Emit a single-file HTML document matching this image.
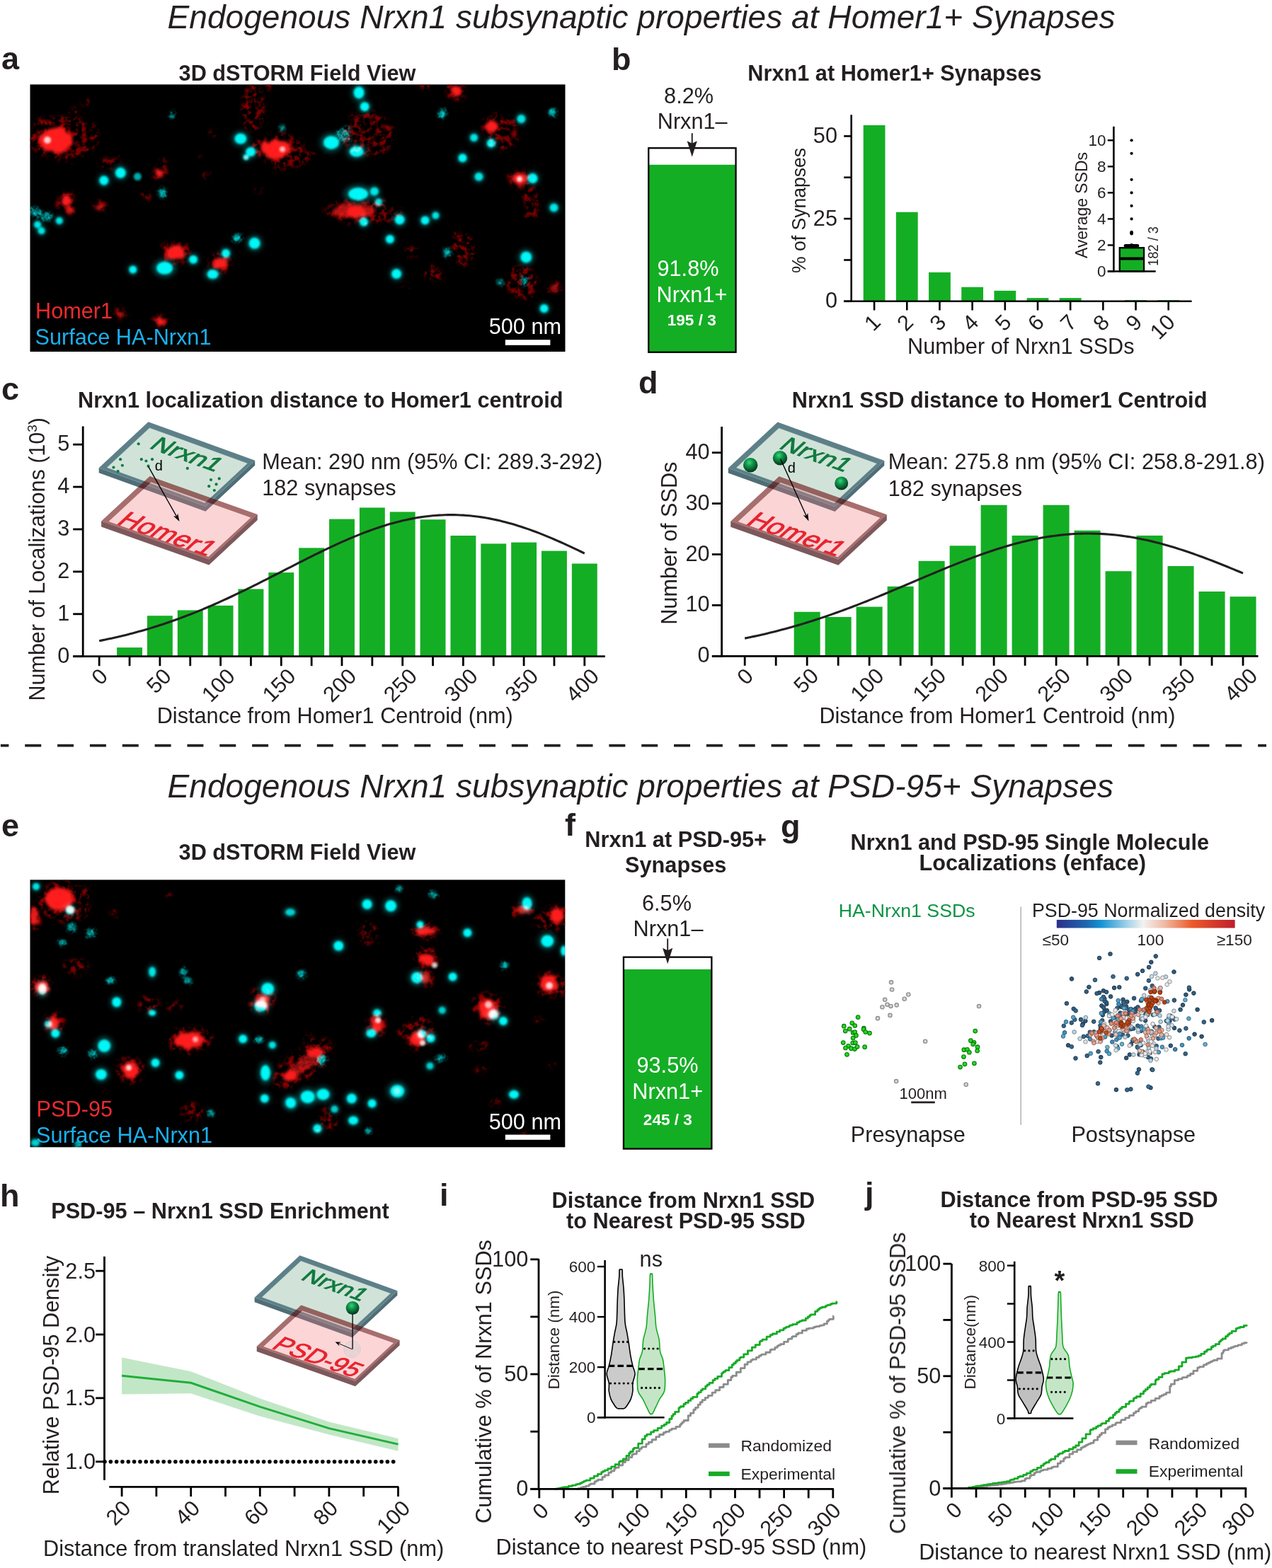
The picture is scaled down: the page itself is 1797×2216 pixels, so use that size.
<!DOCTYPE html>
<html><head><meta charset="utf-8"><title>Endogenous Nrxn1 subsynaptic properties</title>
<style>html,body{margin:0;padding:0;background:#fff;}svg{display:block;}
text{font-family:'Liberation Sans', Arial, Helvetica, sans-serif;}</style></head>
<body><svg xmlns="http://www.w3.org/2000/svg" width="1797" height="2216" viewBox="0 0 1797 2216" font-family="'Liberation Sans', Arial, Helvetica, sans-serif">
<defs>
<filter id="bl2" x="-50%" y="-50%" width="200%" height="200%"><feGaussianBlur stdDeviation="1.8"/></filter>
<filter id="bl4" x="-50%" y="-50%" width="200%" height="200%"><feGaussianBlur stdDeviation="3.2"/></filter>
<filter id="speck" x="0" y="0" width="100%" height="100%" filterUnits="userSpaceOnUse">
<feTurbulence type="fractalNoise" baseFrequency="0.06" numOctaves="2" seed="2" result="w"/>
<feDisplacementMap in="SourceGraphic" in2="w" scale="14" xChannelSelector="R" yChannelSelector="G" result="d"/>
<feGaussianBlur in="d" stdDeviation="2.5" result="b"/>
<feTurbulence type="fractalNoise" baseFrequency="0.13" numOctaves="3" seed="4" result="n"/>
<feColorMatrix in="n" type="matrix" values="0 0 0 0 0  0 0 0 0 0  0 0 0 0 0  4.0 0 0 0 -1.75" result="nm"/>
<feComposite in="b" in2="nm" operator="in"/>
</filter>
<filter id="speck2" x="0" y="0" width="100%" height="100%" filterUnits="userSpaceOnUse">
<feTurbulence type="fractalNoise" baseFrequency="0.08" numOctaves="2" seed="7" result="w"/>
<feDisplacementMap in="SourceGraphic" in2="w" scale="10" xChannelSelector="R" yChannelSelector="G" result="d"/>
<feGaussianBlur in="d" stdDeviation="2" result="b"/>
<feTurbulence type="fractalNoise" baseFrequency="0.25" numOctaves="2" seed="9" result="n"/>
<feColorMatrix in="n" type="matrix" values="0 0 0 0 0  0 0 0 0 0  0 0 0 0 0  2.6 0 0 0 -0.9" result="nm"/>
<feComposite in="b" in2="nm" operator="in"/>
</filter>
<filter id="redf" x="0" y="0" width="100%" height="100%" filterUnits="userSpaceOnUse">
<feTurbulence type="fractalNoise" baseFrequency="0.09" numOctaves="2" seed="5" result="w"/>
<feDisplacementMap in="SourceGraphic" in2="w" scale="8" xChannelSelector="R" yChannelSelector="G" result="d"/>
<feGaussianBlur in="d" stdDeviation="2.2"/>
</filter>
<radialGradient id="sph" cx="0.42" cy="0.32" r="0.7">
<stop offset="0" stop-color="#3fd27a"/><stop offset="0.35" stop-color="#109a4c"/><stop offset="0.8" stop-color="#05502a"/><stop offset="1" stop-color="#022a14"/>
</radialGradient>
<linearGradient id="cbar" x1="0" x2="1" y1="0" y2="0">
<stop offset="0" stop-color="#2b3088"/><stop offset="0.17" stop-color="#1f68b0"/><stop offset="0.25" stop-color="#1494d4"/><stop offset="0.4" stop-color="#a6d3ea"/>
<stop offset="0.485" stop-color="#f3f2ef"/><stop offset="0.6" stop-color="#f0bca8"/><stop offset="0.76" stop-color="#ec5a2a"/><stop offset="1" stop-color="#be1e2d"/>
</linearGradient>
</defs>
<rect width="1797" height="2216" fill="#fff"/>
<g fill="#231f20">
<text x="236.50" y="40.30" font-size="46" font-style="italic" textLength="1339.00" lengthAdjust="spacingAndGlyphs">Endogenous Nrxn1 subsynaptic properties at Homer1+ Synapses</text>
<text x="236.50" y="1127.20" font-size="46" font-style="italic" textLength="1336.50" lengthAdjust="spacingAndGlyphs">Endogenous Nrxn1 subsynaptic properties at PSD-95+ Synapses</text>
<text x="2.00" y="98.00" font-size="45" font-weight="bold">a</text>
<text x="864.00" y="98.90" font-size="45" font-weight="bold">b</text>
<text x="2.00" y="564.60" font-size="45" font-weight="bold">c</text>
<text x="902.00" y="555.80" font-size="45" font-weight="bold">d</text>
<text x="2.00" y="1182.00" font-size="45" font-weight="bold">e</text>
<text x="798.00" y="1180.50" font-size="45" font-weight="bold">f</text>
<text x="1103.00" y="1182.60" font-size="45" font-weight="bold">g</text>
<text x="0.00" y="1705.40" font-size="45" font-weight="bold">h</text>
<text x="621.00" y="1704.30" font-size="45" font-weight="bold">i</text>
<text x="1222.00" y="1701.90" font-size="45" font-weight="bold">j</text>
<line x1="0.90" y1="1053.70" x2="1789.00" y2="1053.70" stroke="#231f20" stroke-width="3.8" stroke-dasharray="23 22.84" stroke-dashoffset="11.5"/>
<text x="420.00" y="114.00" font-size="30.7" font-weight="bold" text-anchor="middle">3D dSTORM Field View</text>
<rect x="42.5" y="119.4" width="756.0" height="377.6" fill="#000"/>
<svg x="42.5" y="119.4" width="756.0" height="377.6" viewBox="42.5 119.4 756.0 377.6" overflow="hidden">
<g filter="url(#speck)">
<ellipse cx="90" cy="195" rx="51.7" ry="32.2" fill="#7a0404"/>
<ellipse cx="357" cy="152" rx="18.4" ry="34.5" fill="#7a0404"/>
<ellipse cx="520" cy="190" rx="36.8" ry="32.2" fill="#7a0404"/>
<ellipse cx="710" cy="190" rx="25.3" ry="23.0" fill="#7a0404"/>
<ellipse cx="750" cy="285" rx="11.5" ry="25.3" fill="#7a0404"/>
<ellipse cx="653.5" cy="353" rx="18.4" ry="23.0" fill="#7a0404"/>
<ellipse cx="612" cy="387" rx="13.8" ry="11.5" fill="#7a0404"/>
<ellipse cx="738" cy="400" rx="23.0" ry="23.0" fill="#7a0404"/>
<ellipse cx="520" cy="300" rx="51.7" ry="16.1" fill="#7a0404"/>
<ellipse cx="156" cy="229" rx="16.1" ry="6.9" fill="#7a0404"/>
<ellipse cx="206" cy="277" rx="9.2" ry="6.9" fill="#7a0404"/>
<ellipse cx="121" cy="146" rx="6.9" ry="5.8" fill="#7a0404"/>
<ellipse cx="105.7" cy="158.8" rx="5.8" ry="5.8" fill="#7a0404"/>
<ellipse cx="300" cy="188" rx="4.6" ry="4.6" fill="#7a0404"/>
<ellipse cx="292.8" cy="248.5" rx="5.8" ry="4.6" fill="#7a0404"/>
<ellipse cx="366" cy="270" rx="4.6" ry="5.8" fill="#7a0404"/>
<ellipse cx="283" cy="224.5" rx="3.4" ry="3.4" fill="#7a0404"/>
<ellipse cx="582" cy="355" rx="9.2" ry="6.9" fill="#7a0404"/>
<ellipse cx="573" cy="406" rx="6.9" ry="4.6" fill="#7a0404"/>
<ellipse cx="752" cy="305" rx="13.8" ry="6.9" fill="#7a0404"/>
<ellipse cx="436.9" cy="218.7" rx="9.2" ry="6.9" fill="#7a0404"/>
<ellipse cx="381.5" cy="123.8" rx="8.0" ry="5.8" fill="#7a0404"/>
<ellipse cx="400" cy="214" rx="36.8" ry="25.3" fill="#7a0404"/>
<ellipse cx="230" cy="235" rx="6.9" ry="13.8" fill="#7a0404"/>
<ellipse cx="125" cy="488" rx="4.6" ry="4.6" fill="#7a0404"/>
<ellipse cx="600" cy="120" rx="11.5" ry="6.9" fill="#7a0404"/>
<ellipse cx="79" cy="198" rx="35.4" ry="26.0" fill="#8c0606"/>
<ellipse cx="248" cy="357" rx="21.9" ry="16.5" fill="#8c0606"/>
<ellipse cx="311.5" cy="372" rx="17.9" ry="13.8" fill="#8c0606"/>
<ellipse cx="390" cy="211" rx="32.7" ry="20.6" fill="#8c0606"/>
<ellipse cx="695" cy="178" rx="15.2" ry="15.2" fill="#8c0606"/>
<ellipse cx="734" cy="253" rx="17.9" ry="13.8" fill="#8c0606"/>
<ellipse cx="644" cy="128" rx="15.2" ry="12.5" fill="#8c0606"/>
<ellipse cx="225" cy="244" rx="11.1" ry="11.1" fill="#8c0606"/>
<ellipse cx="93.6" cy="283.6" rx="13.8" ry="12.5" fill="#8c0606"/>
<ellipse cx="99" cy="296.7" rx="9.8" ry="9.8" fill="#8c0606"/>
<ellipse cx="227" cy="454" rx="12.5" ry="11.1" fill="#8c0606"/>
<ellipse cx="170" cy="444.5" rx="9.8" ry="8.4" fill="#8c0606"/>
<ellipse cx="140.7" cy="292.3" rx="11.1" ry="8.4" fill="#8c0606"/>
<ellipse cx="500" cy="298" rx="43.5" ry="16.5" fill="#8c0606"/>
<ellipse cx="505" cy="300" rx="21.9" ry="12.5" fill="#8c0606"/>
<ellipse cx="782.5" cy="407" rx="9.8" ry="8.4" fill="#8c0606"/>
</g>
<g filter="url(#speck2)" style="mix-blend-mode:screen">
<ellipse cx="624.7" cy="161.1" rx="7.0" ry="7.0" fill="#009090"/>
<ellipse cx="780.2" cy="158.8" rx="7.0" ry="7.0" fill="#009090"/>
<ellipse cx="334.4" cy="336.1" rx="7.0" ry="7.0" fill="#009090"/>
<ellipse cx="631.6" cy="356.5" rx="7.0" ry="7.0" fill="#009090"/>
<ellipse cx="741" cy="396.8" rx="5.6" ry="5.6" fill="#009090"/>
<ellipse cx="706.5" cy="399.1" rx="5.6" ry="5.6" fill="#009090"/>
<ellipse cx="242.5" cy="164.3" rx="4.2" ry="4.2" fill="#009090"/>
<ellipse cx="399" cy="180.7" rx="5.6" ry="5.6" fill="#009090"/>
<ellipse cx="229.4" cy="272.6" rx="7.0" ry="7.0" fill="#009090"/>
<ellipse cx="50" cy="300" rx="11.2" ry="7.0" fill="#009090"/>
<ellipse cx="65" cy="306" rx="11.2" ry="7.0" fill="#009090"/>
<ellipse cx="485" cy="191" rx="11.2" ry="11.2" fill="#009090"/>
</g>
<g filter="url(#redf)">
<ellipse cx="79" cy="198" rx="24.0" ry="17.0" fill="#ff1e1e" opacity="1"/>
<ellipse cx="248" cy="357" rx="14.0" ry="10.0" fill="#ff1e1e" opacity="1"/>
<ellipse cx="311.5" cy="372" rx="11.0" ry="8.0" fill="#ff1e1e" opacity="1"/>
<ellipse cx="390" cy="211" rx="22.0" ry="13.0" fill="#ff1e1e" opacity="1"/>
<ellipse cx="695" cy="178" rx="9.0" ry="9.0" fill="#ff1e1e" opacity="1"/>
<ellipse cx="734" cy="253" rx="11.0" ry="8.0" fill="#ff1e1e" opacity="1"/>
<ellipse cx="644" cy="128" rx="9.0" ry="7.0" fill="#ff1e1e" opacity="1"/>
<ellipse cx="225" cy="244" rx="6.0" ry="6.0" fill="#ff1e1e" opacity="0.9"/>
<ellipse cx="93.6" cy="283.6" rx="8.0" ry="7.0" fill="#ff1e1e" opacity="1"/>
<ellipse cx="99" cy="296.7" rx="5.0" ry="5.0" fill="#ff1e1e" opacity="0.8"/>
<ellipse cx="227" cy="454" rx="7.0" ry="6.0" fill="#ff1e1e" opacity="1"/>
<ellipse cx="170" cy="444.5" rx="5.0" ry="4.0" fill="#ff1e1e" opacity="0.7"/>
<ellipse cx="140.7" cy="292.3" rx="6.0" ry="4.0" fill="#ff1e1e" opacity="0.6"/>
<ellipse cx="500" cy="298" rx="30.0" ry="10.0" fill="#ff1e1e" opacity="0.7"/>
<ellipse cx="505" cy="300" rx="14.0" ry="7.0" fill="#ff1e1e" opacity="1"/>
<ellipse cx="782.5" cy="407" rx="5.0" ry="4.0" fill="#ff1e1e" opacity="0.6"/>
</g>
<g filter="url(#bl4)" style="mix-blend-mode:screen">
<ellipse cx="170.3" cy="244.2" rx="11.2" ry="11.2" fill="#00c8c8" opacity="0.3"/>
<ellipse cx="146.8" cy="255.1" rx="9.8" ry="9.8" fill="#00c8c8" opacity="0.3"/>
<ellipse cx="339.9" cy="196" rx="12.8" ry="11.2" fill="#00c8c8" opacity="0.3"/>
<ellipse cx="354.1" cy="214.6" rx="10.5" ry="9.8" fill="#00c8c8" opacity="0.3"/>
<ellipse cx="347.6" cy="222.3" rx="6.0" ry="6.0" fill="#00c8c8" opacity="0.3"/>
<ellipse cx="507.1" cy="131.1" rx="11.2" ry="12.8" fill="#00c8c8" opacity="0.3"/>
<ellipse cx="515.2" cy="150.7" rx="9.8" ry="9.8" fill="#00c8c8" opacity="0.3"/>
<ellipse cx="468" cy="201.4" rx="16.5" ry="14.2" fill="#00c8c8" opacity="0.3"/>
<ellipse cx="503.7" cy="214.1" rx="15.0" ry="11.2" fill="#00c8c8" opacity="0.3"/>
<ellipse cx="669.6" cy="194.5" rx="8.2" ry="8.2" fill="#00c8c8" opacity="0.3"/>
<ellipse cx="693.8" cy="202.6" rx="9.0" ry="9.0" fill="#00c8c8" opacity="0.3"/>
<ellipse cx="736.4" cy="168" rx="9.0" ry="9.0" fill="#00c8c8" opacity="0.3"/>
<ellipse cx="653.5" cy="223.3" rx="9.0" ry="9.0" fill="#00c8c8" opacity="0.3"/>
<ellipse cx="676.5" cy="249.8" rx="9.0" ry="9.0" fill="#00c8c8" opacity="0.3"/>
<ellipse cx="752.5" cy="252.1" rx="10.5" ry="10.5" fill="#00c8c8" opacity="0.3"/>
<ellipse cx="782.5" cy="293.6" rx="9.0" ry="9.0" fill="#00c8c8" opacity="0.3"/>
<ellipse cx="506" cy="274" rx="21.0" ry="13.5" fill="#00c8c8" opacity="0.3"/>
<ellipse cx="529" cy="270.5" rx="9.0" ry="9.0" fill="#00c8c8" opacity="0.3"/>
<ellipse cx="534.8" cy="285.5" rx="7.5" ry="7.5" fill="#00c8c8" opacity="0.3"/>
<ellipse cx="53" cy="317.5" rx="7.5" ry="7.5" fill="#00c8c8" opacity="0.3"/>
<ellipse cx="58.6" cy="326.3" rx="7.5" ry="7.5" fill="#00c8c8" opacity="0.3"/>
<ellipse cx="83.8" cy="312" rx="7.5" ry="7.5" fill="#00c8c8" opacity="0.3"/>
<ellipse cx="187.8" cy="381" rx="8.2" ry="8.2" fill="#00c8c8" opacity="0.3"/>
<ellipse cx="232.6" cy="378.8" rx="17.2" ry="13.5" fill="#00c8c8" opacity="0.3"/>
<ellipse cx="273.1" cy="366.8" rx="9.0" ry="9.0" fill="#00c8c8" opacity="0.3"/>
<ellipse cx="319.1" cy="358" rx="9.0" ry="9.0" fill="#00c8c8" opacity="0.3"/>
<ellipse cx="300.5" cy="387.6" rx="12.0" ry="9.8" fill="#00c8c8" opacity="0.3"/>
<ellipse cx="359.6" cy="343.8" rx="12.0" ry="12.0" fill="#00c8c8" opacity="0.3"/>
<ellipse cx="514" cy="313.8" rx="9.0" ry="9.0" fill="#00c8c8" opacity="0.3"/>
<ellipse cx="564.7" cy="310.4" rx="10.5" ry="10.5" fill="#00c8c8" opacity="0.3"/>
<ellipse cx="600.5" cy="311.5" rx="9.0" ry="9.0" fill="#00c8c8" opacity="0.3"/>
<ellipse cx="615.4" cy="304.6" rx="7.5" ry="7.5" fill="#00c8c8" opacity="0.3"/>
<ellipse cx="550.9" cy="338" rx="9.0" ry="9.0" fill="#00c8c8" opacity="0.3"/>
<ellipse cx="560.1" cy="387.1" rx="10.5" ry="10.5" fill="#00c8c8" opacity="0.3"/>
<ellipse cx="743.3" cy="363.4" rx="12.0" ry="12.0" fill="#00c8c8" opacity="0.3"/>
<ellipse cx="768.7" cy="436" rx="9.0" ry="9.0" fill="#00c8c8" opacity="0.3"/>
</g>
<g filter="url(#bl2)" style="mix-blend-mode:screen">
<ellipse cx="170.3" cy="244.2" rx="7.5" ry="7.5" fill="#00f4f4" opacity="1"/>
<ellipse cx="146.8" cy="255.1" rx="6.5" ry="6.5" fill="#00f4f4" opacity="1"/>
<ellipse cx="194.3" cy="249.6" rx="5.5" ry="5.5" fill="#00f4f4" opacity="0.7"/>
<ellipse cx="339.9" cy="196" rx="8.5" ry="7.5" fill="#00f4f4" opacity="1"/>
<ellipse cx="354.1" cy="214.6" rx="7.0" ry="6.5" fill="#00f4f4" opacity="1"/>
<ellipse cx="347.6" cy="222.3" rx="4.0" ry="4.0" fill="#00f4f4" opacity="0.8"/>
<ellipse cx="507.1" cy="131.1" rx="7.5" ry="8.5" fill="#00f4f4" opacity="1"/>
<ellipse cx="515.2" cy="150.7" rx="6.5" ry="6.5" fill="#00f4f4" opacity="1"/>
<ellipse cx="468" cy="201.4" rx="11.0" ry="9.5" fill="#00f4f4" opacity="1"/>
<ellipse cx="503.7" cy="214.1" rx="10.0" ry="7.5" fill="#00f4f4" opacity="1"/>
<ellipse cx="624.7" cy="161.1" rx="5.0" ry="5.0" fill="#00f4f4" opacity="0.6"/>
<ellipse cx="669.6" cy="194.5" rx="5.5" ry="5.5" fill="#00f4f4" opacity="0.9"/>
<ellipse cx="693.8" cy="202.6" rx="6.0" ry="6.0" fill="#00f4f4" opacity="1"/>
<ellipse cx="736.4" cy="168" rx="6.0" ry="6.0" fill="#00f4f4" opacity="0.9"/>
<ellipse cx="780.2" cy="158.8" rx="5.0" ry="5.0" fill="#00f4f4" opacity="0.6"/>
<ellipse cx="653.5" cy="223.3" rx="6.0" ry="6.0" fill="#00f4f4" opacity="1"/>
<ellipse cx="676.5" cy="249.8" rx="6.0" ry="6.0" fill="#00f4f4" opacity="0.9"/>
<ellipse cx="752.5" cy="252.1" rx="7.0" ry="7.0" fill="#00f4f4" opacity="1"/>
<ellipse cx="782.5" cy="293.6" rx="6.0" ry="6.0" fill="#00f4f4" opacity="0.9"/>
<ellipse cx="506" cy="274" rx="14.0" ry="9.0" fill="#00f4f4" opacity="1"/>
<ellipse cx="529" cy="270.5" rx="6.0" ry="6.0" fill="#00f4f4" opacity="0.9"/>
<ellipse cx="534.8" cy="285.5" rx="5.0" ry="5.0" fill="#00f4f4" opacity="0.9"/>
<ellipse cx="53" cy="317.5" rx="5.0" ry="5.0" fill="#00f4f4" opacity="0.9"/>
<ellipse cx="58.6" cy="326.3" rx="5.0" ry="5.0" fill="#00f4f4" opacity="0.9"/>
<ellipse cx="83.8" cy="312" rx="5.0" ry="5.0" fill="#00f4f4" opacity="0.9"/>
<ellipse cx="187.8" cy="381" rx="5.5" ry="5.5" fill="#00f4f4" opacity="1"/>
<ellipse cx="232.6" cy="378.8" rx="11.5" ry="9.0" fill="#00f4f4" opacity="1"/>
<ellipse cx="273.1" cy="366.8" rx="6.0" ry="6.0" fill="#00f4f4" opacity="1"/>
<ellipse cx="319.1" cy="358" rx="6.0" ry="6.0" fill="#00f4f4" opacity="1"/>
<ellipse cx="300.5" cy="387.6" rx="8.0" ry="6.5" fill="#00f4f4" opacity="1"/>
<ellipse cx="359.6" cy="343.8" rx="8.0" ry="8.0" fill="#00f4f4" opacity="1"/>
<ellipse cx="334.4" cy="336.1" rx="5.0" ry="5.0" fill="#00f4f4" opacity="0.6"/>
<ellipse cx="514" cy="313.8" rx="6.0" ry="6.0" fill="#00f4f4" opacity="1"/>
<ellipse cx="564.7" cy="310.4" rx="7.0" ry="7.0" fill="#00f4f4" opacity="1"/>
<ellipse cx="600.5" cy="311.5" rx="6.0" ry="6.0" fill="#00f4f4" opacity="1"/>
<ellipse cx="615.4" cy="304.6" rx="5.0" ry="5.0" fill="#00f4f4" opacity="0.9"/>
<ellipse cx="550.9" cy="338" rx="6.0" ry="6.0" fill="#00f4f4" opacity="1"/>
<ellipse cx="560.1" cy="387.1" rx="7.0" ry="7.0" fill="#00f4f4" opacity="1"/>
<ellipse cx="631.6" cy="356.5" rx="5.0" ry="5.0" fill="#00f4f4" opacity="0.5"/>
<ellipse cx="743.3" cy="363.4" rx="8.0" ry="8.0" fill="#00f4f4" opacity="1"/>
<ellipse cx="741" cy="396.8" rx="4.0" ry="4.0" fill="#00f4f4" opacity="0.4"/>
<ellipse cx="706.5" cy="399.1" rx="4.0" ry="4.0" fill="#00f4f4" opacity="0.4"/>
<ellipse cx="768.7" cy="436" rx="6.0" ry="6.0" fill="#00f4f4" opacity="1"/>
<ellipse cx="242.5" cy="164.3" rx="3.0" ry="3.0" fill="#00f4f4" opacity="0.4"/>
<ellipse cx="399" cy="180.7" rx="4.0" ry="4.0" fill="#00f4f4" opacity="0.4"/>
<ellipse cx="229.4" cy="272.6" rx="5.0" ry="5.0" fill="#00f4f4" opacity="0.6"/>
<ellipse cx="50" cy="300" rx="8.0" ry="5.0" fill="#00f4f4" opacity="0.4"/>
<ellipse cx="65" cy="306" rx="8.0" ry="5.0" fill="#00f4f4" opacity="0.4"/>
<ellipse cx="485" cy="191" rx="8.0" ry="8.0" fill="#00f4f4" opacity="0.35"/>
</g>
<g filter="url(#bl2)">
<ellipse cx="67" cy="198" rx="5.0" ry="5.0" fill="#ffffff" opacity="0.8"/>
<ellipse cx="399" cy="211" rx="4.0" ry="4.0" fill="#ffffff" opacity="0.7"/>
<ellipse cx="734" cy="253" rx="4.0" ry="4.0" fill="#ffffff" opacity="0.8"/>
<ellipse cx="347.6" cy="222.3" rx="3.0" ry="3.0" fill="#ffffff" opacity="0.6"/>
</g>
</svg>
<text x="50.00" y="450.00" font-size="30.7" fill="#ee2a2f">Homer1</text>
<text x="49.50" y="487.20" font-size="30.7" fill="#1ab0ec">Surface HA-Nrxn1</text>
<text x="690.70" y="471.70" font-size="30.7" fill="#ffffff">500 nm</text>
<rect x="713.80" y="480.20" width="63.60" height="7.60" fill="#ffffff" />
<text x="1264.00" y="114.00" font-size="30.7" font-weight="bold" text-anchor="middle">Nrxn1 at Homer1+ Synapses</text>
<rect x="916.25" y="209.25" width="123.30" height="288.50" fill="#ffffff" />
<rect x="916.25" y="232.80" width="123.30" height="264.95" fill="#14ae24" />
<rect x="916.25" y="209.25" width="123.30" height="288.50" fill="none" stroke="#000000" stroke-width="2.3"/>
<text x="973.10" y="145.80" font-size="30.7" text-anchor="middle">8.2%</text>
<text x="978.20" y="182.40" font-size="30.7" text-anchor="middle">Nrxn1–</text>
<text x="972.00" y="389.80" font-size="30.7" text-anchor="middle" fill="#ffffff">91.8%</text>
<text x="977.50" y="427.20" font-size="30.7" text-anchor="middle" fill="#ffffff">Nrxn1+</text>
<text x="977.30" y="460.30" font-size="22.6" font-weight="bold" text-anchor="middle" fill="#ffffff">195 / 3</text>
<line x1="977.75" y1="188.20" x2="977.75" y2="203.80" stroke="#231f20" stroke-width="1.9" />
<path d="M977.75,221.80 L970.65,199.20 L977.75,202.80 L984.85,199.20 Z" fill="#231f20" />
<rect x="1219.70" y="177.00" width="30.80" height="248.80" fill="#14ae24" />
<line x1="1235.10" y1="425.80" x2="1235.10" y2="438.50" stroke="#000000" stroke-width="2.6" />
<text x="0" y="0" font-size="30.7" text-anchor="end" transform="translate(1245.87 457.30) rotate(-45)">1</text>
<rect x="1265.88" y="299.76" width="30.80" height="126.04" fill="#14ae24" />
<line x1="1281.28" y1="425.80" x2="1281.28" y2="438.50" stroke="#000000" stroke-width="2.6" />
<text x="0" y="0" font-size="30.7" text-anchor="end" transform="translate(1292.05 457.30) rotate(-45)">2</text>
<rect x="1312.06" y="384.91" width="30.80" height="40.89" fill="#14ae24" />
<line x1="1327.46" y1="425.80" x2="1327.46" y2="438.50" stroke="#000000" stroke-width="2.6" />
<text x="0" y="0" font-size="30.7" text-anchor="end" transform="translate(1338.23 457.30) rotate(-45)">3</text>
<rect x="1358.24" y="405.73" width="30.80" height="20.07" fill="#14ae24" />
<line x1="1373.64" y1="425.80" x2="1373.64" y2="438.50" stroke="#000000" stroke-width="2.6" />
<text x="0" y="0" font-size="30.7" text-anchor="end" transform="translate(1384.41 457.30) rotate(-45)">4</text>
<rect x="1404.42" y="410.86" width="30.80" height="14.94" fill="#14ae24" />
<line x1="1419.82" y1="425.80" x2="1419.82" y2="438.50" stroke="#000000" stroke-width="2.6" />
<text x="0" y="0" font-size="30.7" text-anchor="end" transform="translate(1430.59 457.30) rotate(-45)">5</text>
<rect x="1450.60" y="421.13" width="30.80" height="4.67" fill="#14ae24" />
<line x1="1466.00" y1="425.80" x2="1466.00" y2="438.50" stroke="#000000" stroke-width="2.6" />
<text x="0" y="0" font-size="30.7" text-anchor="end" transform="translate(1476.77 457.30) rotate(-45)">6</text>
<rect x="1496.78" y="421.13" width="30.80" height="4.67" fill="#14ae24" />
<line x1="1512.18" y1="425.80" x2="1512.18" y2="438.50" stroke="#000000" stroke-width="2.6" />
<text x="0" y="0" font-size="30.7" text-anchor="end" transform="translate(1522.95 457.30) rotate(-45)">7</text>
<line x1="1558.36" y1="425.80" x2="1558.36" y2="438.50" stroke="#000000" stroke-width="2.6" />
<text x="0" y="0" font-size="30.7" text-anchor="end" transform="translate(1569.13 457.30) rotate(-45)">8</text>
<rect x="1589.14" y="424.17" width="30.80" height="1.63" fill="#14ae24" />
<line x1="1604.54" y1="425.80" x2="1604.54" y2="438.50" stroke="#000000" stroke-width="2.6" />
<text x="0" y="0" font-size="30.7" text-anchor="end" transform="translate(1615.31 457.30) rotate(-45)">9</text>
<rect x="1635.32" y="424.17" width="30.80" height="1.63" fill="#14ae24" />
<line x1="1650.72" y1="425.80" x2="1650.72" y2="438.50" stroke="#000000" stroke-width="2.6" />
<text x="0" y="0" font-size="30.7" text-anchor="end" transform="translate(1661.76 457.30) rotate(-45)">10</text>
<line x1="1202.70" y1="162.20" x2="1202.70" y2="427.10" stroke="#000000" stroke-width="2.6" />
<line x1="1192.20" y1="425.80" x2="1683.60" y2="425.80" stroke="#000000" stroke-width="2.6" />
<line x1="1192.20" y1="425.80" x2="1202.70" y2="425.80" stroke="#000000" stroke-width="2.6" />
<line x1="1192.20" y1="367.45" x2="1202.70" y2="367.45" stroke="#000000" stroke-width="2.6" />
<line x1="1192.20" y1="309.10" x2="1202.70" y2="309.10" stroke="#000000" stroke-width="2.6" />
<line x1="1192.20" y1="250.75" x2="1202.70" y2="250.75" stroke="#000000" stroke-width="2.6" />
<line x1="1192.20" y1="192.40" x2="1202.70" y2="192.40" stroke="#000000" stroke-width="2.6" />
<text x="1183.00" y="435.30" font-size="30.7" text-anchor="end">0</text>
<text x="1183.00" y="318.60" font-size="30.7" text-anchor="end">25</text>
<text x="1183.00" y="201.90" font-size="30.7" text-anchor="end">50</text>
<text x="1282.00" y="499.50" font-size="30.7">Number of Nrxn1 SSDs</text>
<text x="0" y="0" font-size="28" text-anchor="middle" transform="translate(1137.60 297.40) rotate(-90)" textLength="177.00" lengthAdjust="spacingAndGlyphs">% of Synapses</text>
<rect x="1581.75" y="350.20" width="34.30" height="33.30" fill="#14ae24" />
<rect x="1581.75" y="350.20" width="34.30" height="33.30" fill="none" stroke="#000000" stroke-width="2.3"/>
<line x1="1584.00" y1="365.50" x2="1614.00" y2="365.50" stroke="#000000" stroke-width="4.2" stroke-linecap="round"/>
<line x1="1590.00" y1="347.20" x2="1607.00" y2="347.20" stroke="#000000" stroke-width="4.6" stroke-linecap="round"/>
<line x1="1598.60" y1="344.00" x2="1598.60" y2="350.00" stroke="#000000" stroke-width="2.5" />
<circle cx="1598.6" cy="198.30" r="2.1" fill="#000000"/>
<circle cx="1598.6" cy="216.82" r="2.1" fill="#000000"/>
<circle cx="1598.6" cy="253.86" r="2.1" fill="#000000"/>
<circle cx="1598.6" cy="272.38" r="2.1" fill="#000000"/>
<circle cx="1598.6" cy="290.90" r="2.1" fill="#000000"/>
<circle cx="1598.6" cy="309.42" r="2.1" fill="#000000"/>
<circle cx="1598.6" cy="327.94" r="2.1" fill="#000000"/>
<ellipse cx="1598.6" cy="329.44" rx="2.4" ry="3" fill="#000000"/>
<line x1="1573.40" y1="178.80" x2="1573.40" y2="384.70" stroke="#000000" stroke-width="2.6" />
<line x1="1564.80" y1="383.50" x2="1632.70" y2="383.50" stroke="#000000" stroke-width="2.6" />
<line x1="1564.80" y1="383.50" x2="1573.40" y2="383.50" stroke="#000000" stroke-width="2.4" />
<text x="1562.50" y="391.30" font-size="22.5" text-anchor="end">0</text>
<line x1="1564.80" y1="346.46" x2="1573.40" y2="346.46" stroke="#000000" stroke-width="2.4" />
<text x="1562.50" y="354.26" font-size="22.5" text-anchor="end">2</text>
<line x1="1564.80" y1="309.42" x2="1573.40" y2="309.42" stroke="#000000" stroke-width="2.4" />
<text x="1562.50" y="317.22" font-size="22.5" text-anchor="end">4</text>
<line x1="1564.80" y1="272.38" x2="1573.40" y2="272.38" stroke="#000000" stroke-width="2.4" />
<text x="1562.50" y="280.18" font-size="22.5" text-anchor="end">6</text>
<line x1="1564.80" y1="235.34" x2="1573.40" y2="235.34" stroke="#000000" stroke-width="2.4" />
<text x="1562.50" y="243.14" font-size="22.5" text-anchor="end">8</text>
<line x1="1564.80" y1="198.30" x2="1573.40" y2="198.30" stroke="#000000" stroke-width="2.4" />
<text x="1562.50" y="206.10" font-size="22.5" text-anchor="end">10</text>
<text x="0" y="0" font-size="23" text-anchor="middle" transform="translate(1535.50 290.00) rotate(-90)" textLength="150.00" lengthAdjust="spacingAndGlyphs">Average SSDs</text>
<text x="0" y="0" font-size="19.5" text-anchor="middle" transform="translate(1635.50 348.00) rotate(-90)" textLength="56.00" lengthAdjust="spacingAndGlyphs">182 / 3</text>
<g >
<polygon points="139.70,661.20 290.40,715.80 360.20,650.80 360.20,657.80 290.40,722.80 139.70,668.20" fill="#4f6e76" opacity="1" stroke-linejoin="round"/>
<polygon points="209.50,596.20 360.20,650.80 290.40,715.80 139.70,661.20" fill="#5d8088"/>
<polygon points="211.27,604.89 349.28,654.89 289.36,710.69 151.35,660.69" fill="#d1e3d9" stroke="#d1e3d9" stroke-width="0.4"/>
</g>
<circle cx="195.67" cy="627.33" r="2.10" fill="#0e7a3e"/>
<circle cx="170.09" cy="649.17" r="2.10" fill="#0e7a3e"/>
<circle cx="172.86" cy="657.75" r="2.10" fill="#0e7a3e"/>
<circle cx="160.42" cy="660.51" r="2.10" fill="#0e7a3e"/>
<circle cx="166.64" cy="666.04" r="2.10" fill="#0e7a3e"/>
<circle cx="199.82" cy="649.17" r="2.10" fill="#0e7a3e"/>
<circle cx="206.46" cy="651.52" r="2.10" fill="#0e7a3e"/>
<circle cx="215.03" cy="649.17" r="2.10" fill="#0e7a3e"/>
<circle cx="209.50" cy="658.71" r="2.10" fill="#0e7a3e"/>
<circle cx="264.80" cy="661.89" r="2.10" fill="#0e7a3e"/>
<circle cx="297.98" cy="678.07" r="2.10" fill="#0e7a3e"/>
<circle cx="309.73" cy="676.41" r="2.10" fill="#0e7a3e"/>
<circle cx="305.58" cy="684.43" r="2.10" fill="#0e7a3e"/>
<circle cx="295.21" cy="687.19" r="2.10" fill="#0e7a3e"/>
<circle cx="302.82" cy="693.00" r="2.10" fill="#0e7a3e"/>
<text x="0" y="0" font-size="34.0" fill="#107a3e" stroke="#107a3e" stroke-width="0.9" transform="matrix(0.9402 0.3406 -0.7318 0.6815 209.31 632.86)" textLength="100.0" lengthAdjust="spacingAndGlyphs">Nrxn1</text>
<g >
<polygon points="143.10,736.50 295.20,790.40 363.70,726.90 363.70,734.90 295.20,798.40 143.10,744.50" fill="#7d585c" opacity="1" stroke-linejoin="round"/>
<path d="M211.60,673.00 L363.70,726.90 L295.20,790.40 L143.10,736.50 Z M213.38,681.62 L354.17,731.51 L294.47,786.85 L153.68,736.96 Z" fill="#640000" fill-rule="evenodd" opacity="0.57"/>
<polygon points="213.38,681.62 354.17,731.51 294.47,786.85 153.68,736.96" fill="#f5757b" opacity="0.3" stroke="#f5757b" stroke-width="0.5" stroke-opacity="0.5"/>
</g>
<text x="0" y="0" font-size="38" fill="#e8232e" stroke="#e8232e" stroke-width="0.9" transform="matrix(0.9426 0.3340 -0.7334 0.6798 163.03 740.36)" textLength="137.0" lengthAdjust="spacingAndGlyphs">Homer1</text>
<line x1="209.50" y1="659.10" x2="249.57" y2="730.03" stroke="#000" stroke-width="1.4" />
<polygon points="253.50,737.00 244.96,729.19 249.57,730.03 251.22,725.65" fill="#000"/>
<text x="218.70" y="665.30" font-size="20.0" fill="#000">d</text>
<text x="110.00" y="575.50" font-size="30.7" font-weight="bold">Nrxn1 localization distance to Homer1 centroid</text>
<rect x="165.10" y="915.12" width="35.90" height="12.58" fill="#14ae24" />
<rect x="207.95" y="870.20" width="35.90" height="57.50" fill="#14ae24" />
<rect x="250.80" y="862.41" width="35.90" height="65.29" fill="#14ae24" />
<rect x="293.65" y="855.82" width="35.90" height="71.88" fill="#14ae24" />
<rect x="336.50" y="832.46" width="35.90" height="95.24" fill="#14ae24" />
<rect x="379.35" y="809.10" width="35.90" height="118.60" fill="#14ae24" />
<rect x="422.20" y="774.36" width="35.90" height="153.34" fill="#14ae24" />
<rect x="465.05" y="733.62" width="35.90" height="194.08" fill="#14ae24" />
<rect x="507.90" y="717.45" width="35.90" height="210.25" fill="#14ae24" />
<rect x="550.75" y="723.44" width="35.90" height="204.26" fill="#14ae24" />
<rect x="593.60" y="734.22" width="35.90" height="193.48" fill="#14ae24" />
<rect x="636.45" y="756.99" width="35.90" height="170.72" fill="#14ae24" />
<rect x="679.30" y="768.37" width="35.90" height="159.33" fill="#14ae24" />
<rect x="722.15" y="766.57" width="35.90" height="161.13" fill="#14ae24" />
<rect x="765.00" y="778.55" width="35.90" height="149.15" fill="#14ae24" />
<rect x="807.85" y="796.52" width="35.90" height="131.18" fill="#14ae24" />
<path d="M140.20,905.71 L144.48,904.86 L148.77,903.99 L153.05,903.09 L157.34,902.16 L161.62,901.21 L165.91,900.23 L170.19,899.22 L174.48,898.19 L178.76,897.13 L183.05,896.05 L187.33,894.93 L191.62,893.79 L195.90,892.61 L200.19,891.41 L204.47,890.19 L208.76,888.93 L213.04,887.64 L217.33,886.32 L221.62,884.98 L225.90,883.60 L230.19,882.20 L234.47,880.77 L238.75,879.30 L243.04,877.81 L247.32,876.29 L251.61,874.74 L255.89,873.16 L260.18,871.56 L264.46,869.92 L268.75,868.26 L273.03,866.57 L277.32,864.85 L281.61,863.10 L285.89,861.33 L290.17,859.53 L294.46,857.70 L298.75,855.85 L303.03,853.98 L307.31,852.08 L311.60,850.16 L315.88,848.21 L320.17,846.24 L324.45,844.25 L328.74,842.25 L333.02,840.22 L337.31,838.17 L341.60,836.10 L345.88,834.02 L350.16,831.92 L354.45,829.81 L358.74,827.68 L363.02,825.54 L367.30,823.39 L371.59,821.23 L375.88,819.06 L380.16,816.88 L384.44,814.69 L388.73,812.50 L393.01,810.31 L397.30,808.11 L401.58,805.91 L405.87,803.72 L410.15,801.52 L414.44,799.33 L418.72,797.14 L423.01,794.96 L427.30,792.78 L431.58,790.62 L435.87,788.46 L440.15,786.32 L444.44,784.20 L448.72,782.09 L453.00,779.99 L457.29,777.92 L461.57,775.86 L465.86,773.83 L470.14,771.82 L474.43,769.84 L478.71,767.89 L483.00,765.96 L487.28,764.07 L491.57,762.20 L495.85,760.37 L500.14,758.58 L504.43,756.82 L508.71,755.10 L513.00,753.42 L517.28,751.79 L521.57,750.19 L525.85,748.64 L530.13,747.14 L534.42,745.68 L538.70,744.27 L542.99,742.91 L547.27,741.60 L551.56,740.34 L555.85,739.14 L560.13,737.99 L564.41,736.90 L568.70,735.86 L572.99,734.89 L577.27,733.97 L581.56,733.11 L585.84,732.31 L590.12,731.57 L594.41,730.89 L598.69,730.28 L602.98,729.72 L607.26,729.24 L611.55,728.81 L615.84,728.45 L620.12,728.16 L624.40,727.93 L628.69,727.77 L632.97,727.67 L637.26,727.63 L641.55,727.67 L645.83,727.77 L650.12,727.93 L654.40,728.16 L658.68,728.45 L662.97,728.81 L667.25,729.24 L671.54,729.72 L675.83,730.28 L680.11,730.89 L684.39,731.57 L688.68,732.31 L692.96,733.11 L697.25,733.97 L701.54,734.89 L705.82,735.86 L710.11,736.90 L714.39,737.99 L718.67,739.14 L722.96,740.34 L727.24,741.60 L731.53,742.91 L735.82,744.27 L740.10,745.68 L744.38,747.14 L748.67,748.64 L752.95,750.19 L757.24,751.79 L761.53,753.42 L765.81,755.10 L770.10,756.82 L774.38,758.58 L778.66,760.37 L782.95,762.20 L787.23,764.07 L791.52,765.96 L795.81,767.89 L800.09,769.84 L804.38,771.82 L808.66,773.83 L812.94,775.86 L817.23,777.92 L821.52,779.99 L825.80,782.09" fill="none" stroke="#231f20" stroke-width="3.1" />
<line x1="117.20" y1="602.40" x2="117.20" y2="929.10" stroke="#000000" stroke-width="2.8" />
<line x1="103.20" y1="927.70" x2="854.80" y2="927.70" stroke="#000000" stroke-width="2.8" />
<line x1="103.20" y1="927.70" x2="117.20" y2="927.70" stroke="#000000" stroke-width="2.8" />
<text x="98.30" y="936.70" font-size="30.7" text-anchor="end">0</text>
<line x1="103.20" y1="867.80" x2="117.20" y2="867.80" stroke="#000000" stroke-width="2.8" />
<text x="98.30" y="876.80" font-size="30.7" text-anchor="end">1</text>
<line x1="103.20" y1="807.90" x2="117.20" y2="807.90" stroke="#000000" stroke-width="2.8" />
<text x="98.30" y="816.90" font-size="30.7" text-anchor="end">2</text>
<line x1="103.20" y1="748.00" x2="117.20" y2="748.00" stroke="#000000" stroke-width="2.8" />
<text x="98.30" y="757.00" font-size="30.7" text-anchor="end">3</text>
<line x1="103.20" y1="688.10" x2="117.20" y2="688.10" stroke="#000000" stroke-width="2.8" />
<text x="98.30" y="697.10" font-size="30.7" text-anchor="end">4</text>
<line x1="103.20" y1="628.20" x2="117.20" y2="628.20" stroke="#000000" stroke-width="2.8" />
<text x="98.30" y="637.20" font-size="30.7" text-anchor="end">5</text>
<line x1="140.20" y1="927.70" x2="140.20" y2="941.20" stroke="#000000" stroke-width="2.8" />
<text x="0" y="0" font-size="30.7" text-anchor="end" transform="translate(153.97 957.70) rotate(-45)">0</text>
<line x1="183.05" y1="927.70" x2="183.05" y2="941.20" stroke="#000000" stroke-width="2.8" />
<line x1="225.90" y1="927.70" x2="225.90" y2="941.20" stroke="#000000" stroke-width="2.8" />
<text x="0" y="0" font-size="30.7" text-anchor="end" transform="translate(243.94 957.70) rotate(-45)">50</text>
<line x1="268.75" y1="927.70" x2="268.75" y2="941.20" stroke="#000000" stroke-width="2.8" />
<line x1="311.60" y1="927.70" x2="311.60" y2="941.20" stroke="#000000" stroke-width="2.8" />
<text x="0" y="0" font-size="30.7" text-anchor="end" transform="translate(333.90 957.70) rotate(-45)">100</text>
<line x1="354.45" y1="927.70" x2="354.45" y2="941.20" stroke="#000000" stroke-width="2.8" />
<line x1="397.30" y1="927.70" x2="397.30" y2="941.20" stroke="#000000" stroke-width="2.8" />
<text x="0" y="0" font-size="30.7" text-anchor="end" transform="translate(419.60 957.70) rotate(-45)">150</text>
<line x1="440.15" y1="927.70" x2="440.15" y2="941.20" stroke="#000000" stroke-width="2.8" />
<line x1="483.00" y1="927.70" x2="483.00" y2="941.20" stroke="#000000" stroke-width="2.8" />
<text x="0" y="0" font-size="30.7" text-anchor="end" transform="translate(505.30 957.70) rotate(-45)">200</text>
<line x1="525.85" y1="927.70" x2="525.85" y2="941.20" stroke="#000000" stroke-width="2.8" />
<line x1="568.70" y1="927.70" x2="568.70" y2="941.20" stroke="#000000" stroke-width="2.8" />
<text x="0" y="0" font-size="30.7" text-anchor="end" transform="translate(591.00 957.70) rotate(-45)">250</text>
<line x1="611.55" y1="927.70" x2="611.55" y2="941.20" stroke="#000000" stroke-width="2.8" />
<line x1="654.40" y1="927.70" x2="654.40" y2="941.20" stroke="#000000" stroke-width="2.8" />
<text x="0" y="0" font-size="30.7" text-anchor="end" transform="translate(676.70 957.70) rotate(-45)">300</text>
<line x1="697.25" y1="927.70" x2="697.25" y2="941.20" stroke="#000000" stroke-width="2.8" />
<line x1="740.10" y1="927.70" x2="740.10" y2="941.20" stroke="#000000" stroke-width="2.8" />
<text x="0" y="0" font-size="30.7" text-anchor="end" transform="translate(762.40 957.70) rotate(-45)">350</text>
<line x1="782.95" y1="927.70" x2="782.95" y2="941.20" stroke="#000000" stroke-width="2.8" />
<line x1="825.80" y1="927.70" x2="825.80" y2="941.20" stroke="#000000" stroke-width="2.8" />
<text x="0" y="0" font-size="30.7" text-anchor="end" transform="translate(848.10 957.70) rotate(-45)">400</text>
<text x="370.20" y="662.90" font-size="30.7">Mean: 290 nm (95% CI: 289.3-292)</text>
<text x="370.20" y="700.00" font-size="30.7">182 synapses</text>
<text x="221.70" y="1021.60" font-size="30.7">Distance from Homer1 Centroid (nm)</text>
<text x="0" y="0" font-size="30.5" transform="translate(62.5 990.5) rotate(-90)">Number of Localizations (10<tspan font-size="19" dy="-11">3</tspan><tspan dy="11">)</tspan></text>
<g >
<polygon points="1028.80,661.50 1179.50,716.10 1249.30,651.10 1249.30,658.10 1179.50,723.10 1028.80,668.50" fill="#4f6e76" opacity="1" stroke-linejoin="round"/>
<polygon points="1098.60,596.50 1249.30,651.10 1179.50,716.10 1028.80,661.50" fill="#5d8088"/>
<polygon points="1100.37,605.19 1238.38,655.19 1178.46,710.99 1040.45,660.99" fill="#d1e3d9" stroke="#d1e3d9" stroke-width="0.4"/>
</g>
<text x="0" y="0" font-size="34.0" fill="#107a3e" stroke="#107a3e" stroke-width="0.9" transform="matrix(0.9402 0.3406 -0.7318 0.6815 1098.41 633.16)" textLength="100.0" lengthAdjust="spacingAndGlyphs">Nrxn1</text>
<g >
<polygon points="1032.20,736.80 1184.30,790.70 1252.80,727.20 1252.80,735.20 1184.30,798.70 1032.20,744.80" fill="#7d585c" opacity="1" stroke-linejoin="round"/>
<path d="M1100.70,673.30 L1252.80,727.20 L1184.30,790.70 L1032.20,736.80 Z M1102.48,681.92 L1243.27,731.81 L1183.57,787.15 L1042.78,737.26 Z" fill="#640000" fill-rule="evenodd" opacity="0.57"/>
<polygon points="1102.48,681.92 1243.27,731.81 1183.57,787.15 1042.78,737.26" fill="#f5757b" opacity="0.3" stroke="#f5757b" stroke-width="0.5" stroke-opacity="0.5"/>
</g>
<text x="0" y="0" font-size="38" fill="#e8232e" stroke="#e8232e" stroke-width="0.9" transform="matrix(0.9426 0.3340 -0.7334 0.6798 1052.13 740.66)" textLength="137.0" lengthAdjust="spacingAndGlyphs">Homer1</text>
<circle cx="1060.20" cy="657.30" r="10.20" fill="url(#sph)"/>
<circle cx="1102.00" cy="647.20" r="10.20" fill="url(#sph)"/>
<circle cx="1188.70" cy="683.00" r="9.50" fill="url(#sph)"/>
<line x1="1102.60" y1="648.50" x2="1139.20" y2="729.21" stroke="#000" stroke-width="1.4" />
<polygon points="1142.50,736.50 1134.68,727.97 1139.20,729.21 1141.24,725.00" fill="#000"/>
<text x="1112.70" y="668.40" font-size="20" fill="#000">d</text>
<text x="1118.80" y="575.60" font-size="30.7" font-weight="bold">Nrxn1 SSD distance to Homer1 Centroid</text>
<rect x="1121.68" y="864.75" width="37.00" height="62.55" fill="#14ae24" />
<rect x="1165.67" y="871.94" width="37.00" height="55.36" fill="#14ae24" />
<rect x="1209.66" y="857.56" width="37.00" height="69.74" fill="#14ae24" />
<rect x="1253.65" y="828.80" width="37.00" height="98.50" fill="#14ae24" />
<rect x="1297.64" y="792.85" width="37.00" height="134.45" fill="#14ae24" />
<rect x="1341.63" y="771.28" width="37.00" height="156.02" fill="#14ae24" />
<rect x="1385.62" y="713.76" width="37.00" height="213.54" fill="#14ae24" />
<rect x="1429.61" y="756.90" width="37.00" height="170.40" fill="#14ae24" />
<rect x="1473.60" y="713.76" width="37.00" height="213.54" fill="#14ae24" />
<rect x="1517.59" y="749.71" width="37.00" height="177.59" fill="#14ae24" />
<rect x="1561.58" y="807.23" width="37.00" height="120.07" fill="#14ae24" />
<rect x="1605.57" y="756.90" width="37.00" height="170.40" fill="#14ae24" />
<rect x="1649.56" y="800.04" width="37.00" height="127.26" fill="#14ae24" />
<rect x="1693.55" y="835.99" width="37.00" height="91.31" fill="#14ae24" />
<rect x="1737.54" y="843.18" width="37.00" height="84.12" fill="#14ae24" />
<path d="M1052.20,902.13 L1056.60,901.24 L1061.00,900.33 L1065.40,899.39 L1069.80,898.43 L1074.19,897.44 L1078.59,896.43 L1082.99,895.40 L1087.39,894.34 L1091.79,893.26 L1096.19,892.16 L1100.59,891.03 L1104.99,889.87 L1109.39,888.69 L1113.79,887.49 L1118.18,886.26 L1122.58,885.01 L1126.98,883.73 L1131.38,882.43 L1135.78,881.11 L1140.18,879.76 L1144.58,878.38 L1148.98,876.99 L1153.38,875.57 L1157.78,874.12 L1162.17,872.65 L1166.57,871.16 L1170.97,869.65 L1175.37,868.12 L1179.77,866.56 L1184.17,864.99 L1188.57,863.39 L1192.97,861.77 L1197.37,860.14 L1201.77,858.48 L1206.16,856.81 L1210.56,855.11 L1214.96,853.40 L1219.36,851.68 L1223.76,849.94 L1228.16,848.18 L1232.56,846.41 L1236.96,844.62 L1241.36,842.83 L1245.76,841.02 L1250.15,839.20 L1254.55,837.37 L1258.95,835.53 L1263.35,833.68 L1267.75,831.83 L1272.15,829.97 L1276.55,828.11 L1280.95,826.24 L1285.35,824.37 L1289.75,822.50 L1294.14,820.63 L1298.54,818.76 L1302.94,816.89 L1307.34,815.03 L1311.74,813.17 L1316.14,811.31 L1320.54,809.47 L1324.94,807.63 L1329.34,805.80 L1333.74,803.98 L1338.13,802.18 L1342.53,800.39 L1346.93,798.61 L1351.33,796.85 L1355.73,795.11 L1360.13,793.39 L1364.53,791.69 L1368.93,790.01 L1373.33,788.35 L1377.73,786.72 L1382.12,785.11 L1386.52,783.54 L1390.92,781.99 L1395.32,780.47 L1399.72,778.98 L1404.12,777.52 L1408.52,776.10 L1412.92,774.71 L1417.32,773.36 L1421.72,772.04 L1426.12,770.77 L1430.51,769.53 L1434.91,768.33 L1439.31,767.18 L1443.71,766.07 L1448.11,765.00 L1452.51,763.98 L1456.91,763.00 L1461.31,762.07 L1465.71,761.19 L1470.11,760.35 L1474.50,759.56 L1478.90,758.83 L1483.30,758.14 L1487.70,757.51 L1492.10,756.92 L1496.50,756.39 L1500.90,755.91 L1505.30,755.49 L1509.70,755.11 L1514.10,754.80 L1518.49,754.53 L1522.89,754.32 L1527.29,754.17 L1531.69,754.07 L1536.09,754.02 L1540.49,754.03 L1544.89,754.10 L1549.29,754.22 L1553.69,754.39 L1558.09,754.62 L1562.48,754.90 L1566.88,755.24 L1571.28,755.63 L1575.68,756.08 L1580.08,756.58 L1584.48,757.13 L1588.88,757.73 L1593.28,758.38 L1597.68,759.09 L1602.08,759.84 L1606.47,760.64 L1610.87,761.50 L1615.27,762.40 L1619.67,763.35 L1624.07,764.34 L1628.47,765.38 L1632.87,766.46 L1637.27,767.59 L1641.67,768.76 L1646.07,769.97 L1650.46,771.22 L1654.86,772.51 L1659.26,773.84 L1663.66,775.21 L1668.06,776.61 L1672.46,778.04 L1676.86,779.51 L1681.26,781.01 L1685.66,782.54 L1690.06,784.10 L1694.45,785.69 L1698.85,787.30 L1703.25,788.95 L1707.65,790.61 L1712.05,792.30 L1716.45,794.01 L1720.85,795.74 L1725.25,797.48 L1729.65,799.25 L1734.05,801.03 L1738.44,802.83 L1742.84,804.63 L1747.24,806.46 L1751.64,808.29 L1756.04,810.13" fill="none" stroke="#231f20" stroke-width="3.1" />
<line x1="1019.60" y1="603.00" x2="1019.60" y2="928.70" stroke="#000000" stroke-width="2.8" />
<line x1="1005.90" y1="927.30" x2="1777.50" y2="927.30" stroke="#000000" stroke-width="2.8" />
<line x1="1005.90" y1="927.30" x2="1019.60" y2="927.30" stroke="#000000" stroke-width="2.8" />
<text x="1002.60" y="936.30" font-size="30.7" text-anchor="end">0</text>
<line x1="1005.90" y1="855.40" x2="1019.60" y2="855.40" stroke="#000000" stroke-width="2.8" />
<text x="1002.60" y="864.40" font-size="30.7" text-anchor="end">10</text>
<line x1="1005.90" y1="783.50" x2="1019.60" y2="783.50" stroke="#000000" stroke-width="2.8" />
<text x="1002.60" y="792.50" font-size="30.7" text-anchor="end">20</text>
<line x1="1005.90" y1="711.60" x2="1019.60" y2="711.60" stroke="#000000" stroke-width="2.8" />
<text x="1002.60" y="720.60" font-size="30.7" text-anchor="end">30</text>
<line x1="1005.90" y1="639.70" x2="1019.60" y2="639.70" stroke="#000000" stroke-width="2.8" />
<text x="1002.60" y="648.70" font-size="30.7" text-anchor="end">40</text>
<line x1="1052.20" y1="927.30" x2="1052.20" y2="940.80" stroke="#000000" stroke-width="2.8" />
<text x="0" y="0" font-size="30.7" text-anchor="end" transform="translate(1065.97 957.30) rotate(-45)">0</text>
<line x1="1096.19" y1="927.30" x2="1096.19" y2="940.80" stroke="#000000" stroke-width="2.8" />
<line x1="1140.18" y1="927.30" x2="1140.18" y2="940.80" stroke="#000000" stroke-width="2.8" />
<text x="0" y="0" font-size="30.7" text-anchor="end" transform="translate(1158.22 957.30) rotate(-45)">50</text>
<line x1="1184.17" y1="927.30" x2="1184.17" y2="940.80" stroke="#000000" stroke-width="2.8" />
<line x1="1228.16" y1="927.30" x2="1228.16" y2="940.80" stroke="#000000" stroke-width="2.8" />
<text x="0" y="0" font-size="30.7" text-anchor="end" transform="translate(1250.46 957.30) rotate(-45)">100</text>
<line x1="1272.15" y1="927.30" x2="1272.15" y2="940.80" stroke="#000000" stroke-width="2.8" />
<line x1="1316.14" y1="927.30" x2="1316.14" y2="940.80" stroke="#000000" stroke-width="2.8" />
<text x="0" y="0" font-size="30.7" text-anchor="end" transform="translate(1338.44 957.30) rotate(-45)">150</text>
<line x1="1360.13" y1="927.30" x2="1360.13" y2="940.80" stroke="#000000" stroke-width="2.8" />
<line x1="1404.12" y1="927.30" x2="1404.12" y2="940.80" stroke="#000000" stroke-width="2.8" />
<text x="0" y="0" font-size="30.7" text-anchor="end" transform="translate(1426.42 957.30) rotate(-45)">200</text>
<line x1="1448.11" y1="927.30" x2="1448.11" y2="940.80" stroke="#000000" stroke-width="2.8" />
<line x1="1492.10" y1="927.30" x2="1492.10" y2="940.80" stroke="#000000" stroke-width="2.8" />
<text x="0" y="0" font-size="30.7" text-anchor="end" transform="translate(1514.40 957.30) rotate(-45)">250</text>
<line x1="1536.09" y1="927.30" x2="1536.09" y2="940.80" stroke="#000000" stroke-width="2.8" />
<line x1="1580.08" y1="927.30" x2="1580.08" y2="940.80" stroke="#000000" stroke-width="2.8" />
<text x="0" y="0" font-size="30.7" text-anchor="end" transform="translate(1602.38 957.30) rotate(-45)">300</text>
<line x1="1624.07" y1="927.30" x2="1624.07" y2="940.80" stroke="#000000" stroke-width="2.8" />
<line x1="1668.06" y1="927.30" x2="1668.06" y2="940.80" stroke="#000000" stroke-width="2.8" />
<text x="0" y="0" font-size="30.7" text-anchor="end" transform="translate(1690.36 957.30) rotate(-45)">350</text>
<line x1="1712.05" y1="927.30" x2="1712.05" y2="940.80" stroke="#000000" stroke-width="2.8" />
<line x1="1756.04" y1="927.30" x2="1756.04" y2="940.80" stroke="#000000" stroke-width="2.8" />
<text x="0" y="0" font-size="30.7" text-anchor="end" transform="translate(1778.34 957.30) rotate(-45)">400</text>
<text x="1254.70" y="663.10" font-size="30.7">Mean: 275.8 nm (95% CI: 258.8-291.8)</text>
<text x="1254.70" y="701.00" font-size="30.7">182 synapses</text>
<text x="1157.40" y="1022.00" font-size="30.7">Distance from Homer1 Centroid (nm)</text>
<text x="0" y="0" font-size="30.7" text-anchor="middle" transform="translate(955.50 767.70) rotate(-90)">Number of SSDs</text>
<text x="420.00" y="1215.30" font-size="30.7" font-weight="bold" text-anchor="middle">3D dSTORM Field View</text>
<rect x="42.5" y="1243.4" width="755.8" height="377.89999999999986" fill="#000"/>
<svg x="42.5" y="1243.4" width="755.8" height="377.89999999999986" viewBox="42.5 1243.4 755.8 377.89999999999986" overflow="hidden">
<g filter="url(#speck)">
<ellipse cx="95" cy="1275" rx="34.5" ry="27.6" fill="#7a0404"/>
<ellipse cx="105.7" cy="1367" rx="16.1" ry="11.5" fill="#7a0404"/>
<ellipse cx="210" cy="1420" rx="16.1" ry="11.5" fill="#7a0404"/>
<ellipse cx="246" cy="1422" rx="11.5" ry="8.0" fill="#7a0404"/>
<ellipse cx="272" cy="1571" rx="16.1" ry="13.8" fill="#7a0404"/>
<ellipse cx="464.5" cy="1581.3" rx="11.5" ry="18.4" fill="#7a0404"/>
<ellipse cx="676.5" cy="1477.6" rx="13.8" ry="9.2" fill="#7a0404"/>
<ellipse cx="678.8" cy="1510" rx="9.2" ry="6.9" fill="#7a0404"/>
<ellipse cx="520" cy="1320" rx="13.8" ry="16.1" fill="#7a0404"/>
<ellipse cx="780" cy="1300" rx="25.3" ry="16.1" fill="#7a0404"/>
<ellipse cx="690" cy="1420" rx="23.0" ry="18.4" fill="#7a0404"/>
<ellipse cx="780" cy="1395" rx="20.7" ry="18.4" fill="#7a0404"/>
<ellipse cx="428" cy="1503" rx="50.6" ry="20.7" fill="#7a0404" transform="rotate(-38 428 1503)"/>
<ellipse cx="270" cy="1470" rx="32.2" ry="18.4" fill="#7a0404"/>
<ellipse cx="185" cy="1512" rx="18.4" ry="16.1" fill="#7a0404"/>
<ellipse cx="60" cy="1395" rx="16.1" ry="16.1" fill="#7a0404"/>
<ellipse cx="590" cy="1460" rx="25.3" ry="23.0" fill="#7a0404"/>
<ellipse cx="435" cy="1470" rx="6.9" ry="6.9" fill="#7a0404"/>
<ellipse cx="160" cy="1290" rx="6.9" ry="4.6" fill="#7a0404"/>
<ellipse cx="236" cy="1265" rx="4.6" ry="4.6" fill="#7a0404"/>
<ellipse cx="780" cy="1505" rx="5.8" ry="4.6" fill="#7a0404"/>
<ellipse cx="760" cy="1440" rx="6.9" ry="5.8" fill="#7a0404"/>
<ellipse cx="450" cy="1595" rx="5.8" ry="4.6" fill="#7a0404"/>
<ellipse cx="740" cy="1600" rx="4.6" ry="4.6" fill="#7a0404"/>
<ellipse cx="150" cy="1545" rx="4.6" ry="4.6" fill="#7a0404"/>
<ellipse cx="700" cy="1560" rx="5.8" ry="4.6" fill="#7a0404"/>
<ellipse cx="83.8" cy="1270.6" rx="30.0" ry="24.6" fill="#8c0606"/>
<ellipse cx="48" cy="1295" rx="11.1" ry="19.2" fill="#8c0606"/>
<ellipse cx="59.7" cy="1395.4" rx="15.2" ry="16.5" fill="#8c0606"/>
<ellipse cx="370.6" cy="1415" rx="17.9" ry="16.5" fill="#8c0606"/>
<ellipse cx="600.5" cy="1316" rx="21.9" ry="11.1" fill="#8c0606"/>
<ellipse cx="602.8" cy="1355.2" rx="17.9" ry="15.2" fill="#8c0606"/>
<ellipse cx="600.5" cy="1383" rx="12.5" ry="12.5" fill="#8c0606"/>
<ellipse cx="787.1" cy="1294.1" rx="16.5" ry="16.5" fill="#8c0606"/>
<ellipse cx="738.7" cy="1286" rx="16.5" ry="11.1" fill="#8c0606"/>
<ellipse cx="775.6" cy="1389.8" rx="19.2" ry="19.2" fill="#8c0606"/>
<ellipse cx="688" cy="1424.3" rx="20.6" ry="19.2" fill="#8c0606"/>
<ellipse cx="77.2" cy="1446.3" rx="15.2" ry="15.2" fill="#8c0606"/>
<ellipse cx="184.5" cy="1512" rx="19.2" ry="19.2" fill="#8c0606"/>
<ellipse cx="267.7" cy="1470.4" rx="30.0" ry="17.9" fill="#8c0606"/>
<ellipse cx="428" cy="1505" rx="51.6" ry="15.2" fill="#8c0606" transform="rotate(-38 428 1505)"/>
<ellipse cx="445" cy="1488" rx="16.5" ry="12.5" fill="#8c0606"/>
<ellipse cx="410" cy="1520" rx="15.2" ry="12.5" fill="#8c0606"/>
<ellipse cx="532.5" cy="1447.6" rx="13.8" ry="17.9" fill="#8c0606"/>
<ellipse cx="589" cy="1468.4" rx="16.5" ry="16.5" fill="#8c0606"/>
<ellipse cx="690.3" cy="1429.2" rx="20.6" ry="16.5" fill="#8c0606"/>
</g>
<g filter="url(#speck2)" style="mix-blend-mode:screen">
<ellipse cx="259" cy="1373.5" rx="7.0" ry="5.6" fill="#009090"/>
<ellipse cx="265.5" cy="1385.6" rx="7.0" ry="5.6" fill="#009090"/>
<ellipse cx="156" cy="1385.6" rx="7.0" ry="5.6" fill="#009090"/>
<ellipse cx="612" cy="1264.2" rx="7.0" ry="5.6" fill="#009090"/>
<ellipse cx="563.6" cy="1256" rx="5.6" ry="5.6" fill="#009090"/>
<ellipse cx="713.4" cy="1364.4" rx="7.0" ry="5.6" fill="#009090"/>
<ellipse cx="425.3" cy="1376" rx="7.0" ry="7.0" fill="#009090"/>
<ellipse cx="89.3" cy="1484.6" rx="7.0" ry="5.6" fill="#009090"/>
<ellipse cx="130.8" cy="1489" rx="7.0" ry="5.6" fill="#009090"/>
<ellipse cx="366.2" cy="1469.3" rx="7.0" ry="5.6" fill="#009090"/>
<ellipse cx="298.3" cy="1573.2" rx="5.6" ry="5.6" fill="#009090"/>
<ellipse cx="454.1" cy="1497.2" rx="8.4" ry="8.4" fill="#009090"/>
<ellipse cx="622.4" cy="1494.9" rx="7.0" ry="5.6" fill="#009090"/>
<ellipse cx="519.8" cy="1598.6" rx="5.6" ry="5.6" fill="#009090"/>
<ellipse cx="110" cy="1617" rx="7.0" ry="5.6" fill="#009090"/>
<ellipse cx="101" cy="1310" rx="8.4" ry="7.0" fill="#009090"/>
<ellipse cx="128" cy="1319" rx="8.4" ry="7.0" fill="#009090"/>
<ellipse cx="88" cy="1332" rx="7.0" ry="5.6" fill="#009090"/>
</g>
<g filter="url(#redf)">
<ellipse cx="83.8" cy="1270.6" rx="20.0" ry="16.0" fill="#ff1e1e" opacity="1"/>
<ellipse cx="48" cy="1295" rx="6.0" ry="12.0" fill="#ff1e1e" opacity="0.9"/>
<ellipse cx="59.7" cy="1395.4" rx="9.0" ry="10.0" fill="#ff1e1e" opacity="1"/>
<ellipse cx="370.6" cy="1415" rx="11.0" ry="10.0" fill="#ff1e1e" opacity="1"/>
<ellipse cx="600.5" cy="1316" rx="14.0" ry="6.0" fill="#ff1e1e" opacity="1"/>
<ellipse cx="602.8" cy="1355.2" rx="11.0" ry="9.0" fill="#ff1e1e" opacity="1"/>
<ellipse cx="600.5" cy="1383" rx="7.0" ry="7.0" fill="#ff1e1e" opacity="0.8"/>
<ellipse cx="787.1" cy="1294.1" rx="10.0" ry="10.0" fill="#ff1e1e" opacity="1"/>
<ellipse cx="738.7" cy="1286" rx="10.0" ry="6.0" fill="#ff1e1e" opacity="0.8"/>
<ellipse cx="775.6" cy="1389.8" rx="12.0" ry="12.0" fill="#ff1e1e" opacity="1"/>
<ellipse cx="688" cy="1424.3" rx="13.0" ry="12.0" fill="#ff1e1e" opacity="1"/>
<ellipse cx="77.2" cy="1446.3" rx="9.0" ry="9.0" fill="#ff1e1e" opacity="1"/>
<ellipse cx="184.5" cy="1512" rx="12.0" ry="12.0" fill="#ff1e1e" opacity="1"/>
<ellipse cx="267.7" cy="1470.4" rx="20.0" ry="11.0" fill="#ff1e1e" opacity="1"/>
<ellipse cx="428" cy="1505" rx="36.0" ry="9.0" fill="#ff1e1e" opacity="0.5" transform="rotate(-38 428 1505)"/>
<ellipse cx="445" cy="1488" rx="10.0" ry="7.0" fill="#ff1e1e" opacity="1"/>
<ellipse cx="410" cy="1520" rx="9.0" ry="7.0" fill="#ff1e1e" opacity="1"/>
<ellipse cx="532.5" cy="1447.6" rx="8.0" ry="11.0" fill="#ff1e1e" opacity="1"/>
<ellipse cx="589" cy="1468.4" rx="10.0" ry="10.0" fill="#ff1e1e" opacity="1"/>
<ellipse cx="690.3" cy="1429.2" rx="13.0" ry="10.0" fill="#ff1e1e" opacity="1"/>
</g>
<g filter="url(#bl4)" style="mix-blend-mode:screen">
<ellipse cx="51" cy="1253" rx="7.5" ry="7.5" fill="#00c8c8" opacity="0.3"/>
<ellipse cx="99" cy="1286" rx="9.0" ry="9.0" fill="#00c8c8" opacity="0.3"/>
<ellipse cx="410" cy="1289.3" rx="10.5" ry="7.5" fill="#00c8c8" opacity="0.3"/>
<ellipse cx="215.1" cy="1373.5" rx="7.5" ry="10.5" fill="#00c8c8" opacity="0.3"/>
<ellipse cx="59.7" cy="1398" rx="9.0" ry="12.0" fill="#00c8c8" opacity="0.3"/>
<ellipse cx="378.2" cy="1397.6" rx="13.5" ry="12.8" fill="#00c8c8" opacity="0.3"/>
<ellipse cx="368.4" cy="1421.7" rx="13.5" ry="12.0" fill="#00c8c8" opacity="0.3"/>
<ellipse cx="164.8" cy="1416.2" rx="9.8" ry="10.5" fill="#00c8c8" opacity="0.3"/>
<ellipse cx="215.1" cy="1431.5" rx="7.5" ry="6.0" fill="#00c8c8" opacity="0.3"/>
<ellipse cx="518.7" cy="1278" rx="10.5" ry="10.5" fill="#00c8c8" opacity="0.3"/>
<ellipse cx="552.1" cy="1280.3" rx="12.0" ry="12.0" fill="#00c8c8" opacity="0.3"/>
<ellipse cx="593.5" cy="1306.8" rx="7.5" ry="7.5" fill="#00c8c8" opacity="0.3"/>
<ellipse cx="478.3" cy="1336.8" rx="10.5" ry="10.5" fill="#00c8c8" opacity="0.3"/>
<ellipse cx="660.4" cy="1318.3" rx="9.0" ry="9.0" fill="#00c8c8" opacity="0.3"/>
<ellipse cx="744.5" cy="1276.9" rx="10.5" ry="13.5" fill="#00c8c8" opacity="0.3"/>
<ellipse cx="773.3" cy="1329.9" rx="13.5" ry="12.8" fill="#00c8c8" opacity="0.3"/>
<ellipse cx="796.3" cy="1343.7" rx="6.0" ry="10.5" fill="#00c8c8" opacity="0.3"/>
<ellipse cx="588.9" cy="1381.7" rx="12.0" ry="12.0" fill="#00c8c8" opacity="0.3"/>
<ellipse cx="639.6" cy="1380.6" rx="9.0" ry="9.0" fill="#00c8c8" opacity="0.3"/>
<ellipse cx="624.7" cy="1427.8" rx="7.5" ry="7.5" fill="#00c8c8" opacity="0.3"/>
<ellipse cx="533.6" cy="1431.2" rx="7.5" ry="6.0" fill="#00c8c8" opacity="0.3"/>
<ellipse cx="68.5" cy="1447.4" rx="7.5" ry="7.5" fill="#00c8c8" opacity="0.3"/>
<ellipse cx="78.3" cy="1460.5" rx="9.0" ry="9.0" fill="#00c8c8" opacity="0.3"/>
<ellipse cx="147.3" cy="1478" rx="13.5" ry="13.5" fill="#00c8c8" opacity="0.3"/>
<ellipse cx="142.9" cy="1518.5" rx="12.0" ry="11.2" fill="#00c8c8" opacity="0.3"/>
<ellipse cx="219.5" cy="1502.1" rx="9.0" ry="9.0" fill="#00c8c8" opacity="0.3"/>
<ellipse cx="253.4" cy="1519.6" rx="9.0" ry="9.0" fill="#00c8c8" opacity="0.3"/>
<ellipse cx="343.2" cy="1468.2" rx="9.0" ry="9.0" fill="#00c8c8" opacity="0.3"/>
<ellipse cx="384.8" cy="1476.9" rx="7.5" ry="7.5" fill="#00c8c8" opacity="0.3"/>
<ellipse cx="375" cy="1516.3" rx="10.5" ry="16.5" fill="#00c8c8" opacity="0.3"/>
<ellipse cx="373.8" cy="1552.4" rx="9.0" ry="9.0" fill="#00c8c8" opacity="0.3"/>
<ellipse cx="411" cy="1559" rx="10.5" ry="10.5" fill="#00c8c8" opacity="0.3"/>
<ellipse cx="524.4" cy="1460.3" rx="10.5" ry="9.0" fill="#00c8c8" opacity="0.3"/>
<ellipse cx="532.5" cy="1431.5" rx="7.5" ry="7.5" fill="#00c8c8" opacity="0.3"/>
<ellipse cx="595.9" cy="1461.5" rx="9.0" ry="9.0" fill="#00c8c8" opacity="0.3"/>
<ellipse cx="608.5" cy="1467.2" rx="9.0" ry="9.0" fill="#00c8c8" opacity="0.3"/>
<ellipse cx="697.2" cy="1433.8" rx="10.5" ry="10.5" fill="#00c8c8" opacity="0.3"/>
<ellipse cx="711" cy="1443" rx="9.0" ry="9.0" fill="#00c8c8" opacity="0.3"/>
<ellipse cx="607.4" cy="1506.4" rx="7.5" ry="7.5" fill="#00c8c8" opacity="0.3"/>
<ellipse cx="561.3" cy="1542.1" rx="15.0" ry="13.5" fill="#00c8c8" opacity="0.3"/>
<ellipse cx="434.6" cy="1550.2" rx="15.0" ry="13.5" fill="#00c8c8" opacity="0.3"/>
<ellipse cx="456.5" cy="1546.7" rx="13.5" ry="12.0" fill="#00c8c8" opacity="0.3"/>
<ellipse cx="410.4" cy="1558.2" rx="10.5" ry="10.5" fill="#00c8c8" opacity="0.3"/>
<ellipse cx="496.8" cy="1552.5" rx="10.5" ry="10.5" fill="#00c8c8" opacity="0.3"/>
<ellipse cx="525.6" cy="1559.4" rx="9.0" ry="9.0" fill="#00c8c8" opacity="0.3"/>
<ellipse cx="499.1" cy="1583.6" rx="10.5" ry="9.0" fill="#00c8c8" opacity="0.3"/>
<ellipse cx="472.6" cy="1567.5" rx="7.5" ry="7.5" fill="#00c8c8" opacity="0.3"/>
<ellipse cx="448.4" cy="1595.1" rx="9.0" ry="9.0" fill="#00c8c8" opacity="0.3"/>
<ellipse cx="726" cy="1546.7" rx="10.5" ry="9.0" fill="#00c8c8" opacity="0.3"/>
<ellipse cx="50" cy="1615" rx="9.0" ry="7.5" fill="#00c8c8" opacity="0.3"/>
</g>
<g filter="url(#bl2)" style="mix-blend-mode:screen">
<ellipse cx="51" cy="1253" rx="5.0" ry="5.0" fill="#00f4f4" opacity="0.9"/>
<ellipse cx="99" cy="1286" rx="6.0" ry="6.0" fill="#00f4f4" opacity="0.9"/>
<ellipse cx="410" cy="1289.3" rx="7.0" ry="5.0" fill="#00f4f4" opacity="0.8"/>
<ellipse cx="215.1" cy="1373.5" rx="5.0" ry="7.0" fill="#00f4f4" opacity="0.9"/>
<ellipse cx="259" cy="1373.5" rx="5.0" ry="4.0" fill="#00f4f4" opacity="0.5"/>
<ellipse cx="265.5" cy="1385.6" rx="5.0" ry="4.0" fill="#00f4f4" opacity="0.5"/>
<ellipse cx="156" cy="1385.6" rx="5.0" ry="4.0" fill="#00f4f4" opacity="0.6"/>
<ellipse cx="59.7" cy="1398" rx="6.0" ry="8.0" fill="#00f4f4" opacity="0.9"/>
<ellipse cx="378.2" cy="1397.6" rx="9.0" ry="8.5" fill="#00f4f4" opacity="1"/>
<ellipse cx="368.4" cy="1421.7" rx="9.0" ry="8.0" fill="#00f4f4" opacity="1"/>
<ellipse cx="164.8" cy="1416.2" rx="6.5" ry="7.0" fill="#00f4f4" opacity="1"/>
<ellipse cx="215.1" cy="1431.5" rx="5.0" ry="4.0" fill="#00f4f4" opacity="1"/>
<ellipse cx="518.7" cy="1278" rx="7.0" ry="7.0" fill="#00f4f4" opacity="1"/>
<ellipse cx="552.1" cy="1280.3" rx="8.0" ry="8.0" fill="#00f4f4" opacity="1"/>
<ellipse cx="612" cy="1264.2" rx="5.0" ry="4.0" fill="#00f4f4" opacity="0.5"/>
<ellipse cx="563.6" cy="1256" rx="4.0" ry="4.0" fill="#00f4f4" opacity="0.5"/>
<ellipse cx="593.5" cy="1306.8" rx="5.0" ry="5.0" fill="#00f4f4" opacity="1"/>
<ellipse cx="478.3" cy="1336.8" rx="7.0" ry="7.0" fill="#00f4f4" opacity="1"/>
<ellipse cx="660.4" cy="1318.3" rx="6.0" ry="6.0" fill="#00f4f4" opacity="1"/>
<ellipse cx="744.5" cy="1276.9" rx="7.0" ry="9.0" fill="#00f4f4" opacity="1"/>
<ellipse cx="773.3" cy="1329.9" rx="9.0" ry="8.5" fill="#00f4f4" opacity="1"/>
<ellipse cx="796.3" cy="1343.7" rx="4.0" ry="7.0" fill="#00f4f4" opacity="1"/>
<ellipse cx="588.9" cy="1381.7" rx="8.0" ry="8.0" fill="#00f4f4" opacity="1"/>
<ellipse cx="639.6" cy="1380.6" rx="6.0" ry="6.0" fill="#00f4f4" opacity="1"/>
<ellipse cx="713.4" cy="1364.4" rx="5.0" ry="4.0" fill="#00f4f4" opacity="0.5"/>
<ellipse cx="425.3" cy="1376" rx="5.0" ry="5.0" fill="#00f4f4" opacity="0.5"/>
<ellipse cx="624.7" cy="1427.8" rx="5.0" ry="5.0" fill="#00f4f4" opacity="0.8"/>
<ellipse cx="533.6" cy="1431.2" rx="5.0" ry="4.0" fill="#00f4f4" opacity="0.8"/>
<ellipse cx="68.5" cy="1447.4" rx="5.0" ry="5.0" fill="#00f4f4" opacity="0.9"/>
<ellipse cx="78.3" cy="1460.5" rx="6.0" ry="6.0" fill="#00f4f4" opacity="1"/>
<ellipse cx="147.3" cy="1478" rx="9.0" ry="9.0" fill="#00f4f4" opacity="1"/>
<ellipse cx="89.3" cy="1484.6" rx="5.0" ry="4.0" fill="#00f4f4" opacity="0.5"/>
<ellipse cx="130.8" cy="1489" rx="5.0" ry="4.0" fill="#00f4f4" opacity="0.5"/>
<ellipse cx="142.9" cy="1518.5" rx="8.0" ry="7.5" fill="#00f4f4" opacity="1"/>
<ellipse cx="219.5" cy="1502.1" rx="6.0" ry="6.0" fill="#00f4f4" opacity="1"/>
<ellipse cx="253.4" cy="1519.6" rx="6.0" ry="6.0" fill="#00f4f4" opacity="1"/>
<ellipse cx="343.2" cy="1468.2" rx="6.0" ry="6.0" fill="#00f4f4" opacity="1"/>
<ellipse cx="366.2" cy="1469.3" rx="5.0" ry="4.0" fill="#00f4f4" opacity="0.6"/>
<ellipse cx="384.8" cy="1476.9" rx="5.0" ry="5.0" fill="#00f4f4" opacity="0.9"/>
<ellipse cx="375" cy="1516.3" rx="7.0" ry="11.0" fill="#00f4f4" opacity="1"/>
<ellipse cx="373.8" cy="1552.4" rx="6.0" ry="6.0" fill="#00f4f4" opacity="1"/>
<ellipse cx="411" cy="1559" rx="7.0" ry="7.0" fill="#00f4f4" opacity="1"/>
<ellipse cx="298.3" cy="1573.2" rx="4.0" ry="4.0" fill="#00f4f4" opacity="0.5"/>
<ellipse cx="524.4" cy="1460.3" rx="7.0" ry="6.0" fill="#00f4f4" opacity="1"/>
<ellipse cx="532.5" cy="1431.5" rx="5.0" ry="5.0" fill="#00f4f4" opacity="0.9"/>
<ellipse cx="595.9" cy="1461.5" rx="6.0" ry="6.0" fill="#00f4f4" opacity="1"/>
<ellipse cx="608.5" cy="1467.2" rx="6.0" ry="6.0" fill="#00f4f4" opacity="1"/>
<ellipse cx="697.2" cy="1433.8" rx="7.0" ry="7.0" fill="#00f4f4" opacity="1"/>
<ellipse cx="711" cy="1443" rx="6.0" ry="6.0" fill="#00f4f4" opacity="1"/>
<ellipse cx="454.1" cy="1497.2" rx="6.0" ry="6.0" fill="#00f4f4" opacity="0.6"/>
<ellipse cx="607.4" cy="1506.4" rx="5.0" ry="5.0" fill="#00f4f4" opacity="0.8"/>
<ellipse cx="622.4" cy="1494.9" rx="5.0" ry="4.0" fill="#00f4f4" opacity="0.5"/>
<ellipse cx="561.3" cy="1542.1" rx="10.0" ry="9.0" fill="#00f4f4" opacity="1"/>
<ellipse cx="434.6" cy="1550.2" rx="10.0" ry="9.0" fill="#00f4f4" opacity="1"/>
<ellipse cx="456.5" cy="1546.7" rx="9.0" ry="8.0" fill="#00f4f4" opacity="1"/>
<ellipse cx="410.4" cy="1558.2" rx="7.0" ry="7.0" fill="#00f4f4" opacity="1"/>
<ellipse cx="496.8" cy="1552.5" rx="7.0" ry="7.0" fill="#00f4f4" opacity="1"/>
<ellipse cx="525.6" cy="1559.4" rx="6.0" ry="6.0" fill="#00f4f4" opacity="1"/>
<ellipse cx="499.1" cy="1583.6" rx="7.0" ry="6.0" fill="#00f4f4" opacity="1"/>
<ellipse cx="472.6" cy="1567.5" rx="5.0" ry="5.0" fill="#00f4f4" opacity="0.8"/>
<ellipse cx="448.4" cy="1595.1" rx="6.0" ry="6.0" fill="#00f4f4" opacity="1"/>
<ellipse cx="519.8" cy="1598.6" rx="4.0" ry="4.0" fill="#00f4f4" opacity="0.5"/>
<ellipse cx="726" cy="1546.7" rx="7.0" ry="6.0" fill="#00f4f4" opacity="1"/>
<ellipse cx="50" cy="1615" rx="6.0" ry="5.0" fill="#00f4f4" opacity="0.8"/>
<ellipse cx="110" cy="1617" rx="5.0" ry="4.0" fill="#00f4f4" opacity="0.6"/>
<ellipse cx="101" cy="1310" rx="6.0" ry="5.0" fill="#00f4f4" opacity="0.4"/>
<ellipse cx="128" cy="1319" rx="6.0" ry="5.0" fill="#00f4f4" opacity="0.4"/>
<ellipse cx="88" cy="1332" rx="5.0" ry="4.0" fill="#00f4f4" opacity="0.4"/>
</g>
<g filter="url(#bl2)">
<ellipse cx="99" cy="1286" rx="5.0" ry="5.0" fill="#ffffff" opacity="0.9"/>
<ellipse cx="614" cy="1364" rx="4.0" ry="4.0" fill="#ffffff" opacity="0.8"/>
<ellipse cx="776" cy="1393" rx="5.0" ry="5.0" fill="#ffffff" opacity="0.8"/>
<ellipse cx="690" cy="1420" rx="5.0" ry="5.0" fill="#ffffff" opacity="0.7"/>
<ellipse cx="182" cy="1509" rx="4.0" ry="4.0" fill="#ffffff" opacity="0.8"/>
<ellipse cx="276" cy="1469" rx="4.0" ry="4.0" fill="#ffffff" opacity="0.6"/>
<ellipse cx="534" cy="1442" rx="4.0" ry="4.0" fill="#ffffff" opacity="0.8"/>
<ellipse cx="597" cy="1474" rx="4.0" ry="4.0" fill="#ffffff" opacity="0.8"/>
<ellipse cx="561" cy="1542" rx="5.0" ry="5.0" fill="#ffffff" opacity="0.5"/>
<ellipse cx="60" cy="1397" rx="4.0" ry="4.0" fill="#ffffff" opacity="0.7"/>
<ellipse cx="371" cy="1413" rx="4.0" ry="4.0" fill="#ffffff" opacity="0.6"/>
</g>
</svg>
<text x="51.60" y="1577.60" font-size="30.7" fill="#ee2a2f">PSD-95</text>
<text x="51.10" y="1614.80" font-size="30.7" fill="#1ab0ec">Surface HA-Nrxn1</text>
<text x="690.70" y="1595.60" font-size="30.7" fill="#ffffff">500 nm</text>
<rect x="713.80" y="1603.60" width="63.60" height="7.20" fill="#ffffff" />
<text x="954.70" y="1196.70" font-size="30.7" font-weight="bold" text-anchor="middle">Nrxn1 at PSD-95+</text>
<text x="954.70" y="1232.90" font-size="30.7" font-weight="bold" text-anchor="middle">Synapses</text>
<rect x="880.95" y="1352.65" width="124.40" height="270.90" fill="#ffffff" />
<rect x="880.95" y="1369.90" width="124.40" height="253.65" fill="#14ae24" />
<rect x="880.95" y="1352.65" width="124.40" height="270.90" fill="none" stroke="#000000" stroke-width="2.3"/>
<text x="942.00" y="1286.70" font-size="30.7" text-anchor="middle">6.5%</text>
<text x="944.00" y="1323.00" font-size="30.7" text-anchor="middle">Nrxn1–</text>
<text x="943.00" y="1516.40" font-size="30.7" text-anchor="middle" fill="#ffffff">93.5%</text>
<text x="943.20" y="1552.80" font-size="30.7" text-anchor="middle" fill="#ffffff">Nrxn1+</text>
<text x="943.40" y="1590.10" font-size="22.6" font-weight="bold" text-anchor="middle" fill="#ffffff">245 / 3</text>
<line x1="943.20" y1="1326.50" x2="943.20" y2="1344.30" stroke="#231f20" stroke-width="1.9" />
<path d="M943.20,1362.30 L936.10,1339.70 L943.20,1343.30 L950.30,1339.70 Z" fill="#231f20" />
<text x="1454.80" y="1201.40" font-size="30.7" font-weight="bold" text-anchor="middle">Nrxn1 and PSD-95 Single Molecule</text>
<text x="1458.80" y="1229.90" font-size="30.7" font-weight="bold" text-anchor="middle">Localizations (enface)</text>
<text x="1184.80" y="1295.50" font-size="26.7" fill="#0d9444">HA-Nrxn1 SSDs</text>
<line x1="1442.20" y1="1281.40" x2="1442.20" y2="1589.80" stroke="#a0a0a0" stroke-width="1.2" />
<text x="1457.90" y="1295.50" font-size="26.8">PSD-95 Normalized density</text>
<rect x="1492.8" y="1299.9" width="251.8" height="11.6" fill="url(#cbar)"/>
<text x="1472.60" y="1336.20" font-size="22.6">≤50</text>
<text x="1625.40" y="1336.20" font-size="22.6" text-anchor="middle">100</text>
<text x="1768.80" y="1336.20" font-size="22.6" text-anchor="end">≥150</text>
<text x="1270.50" y="1552.80" font-size="22">100nm</text>
<line x1="1287.20" y1="1557.90" x2="1320.80" y2="1557.90" stroke="#231f20" stroke-width="2.7" />
<text x="1201.70" y="1614.00" font-size="30.7">Presynapse</text>
<text x="1513.40" y="1614.00" font-size="30.7">Postsynapse</text>
<circle cx="1259.03" cy="1388.28" r="2.6" fill="#d8d8d8" stroke="#8f8f8f" stroke-width="1.4"/>
<circle cx="1260.09" cy="1398.48" r="2.6" fill="#d8d8d8" stroke="#8f8f8f" stroke-width="1.4"/>
<circle cx="1283.28" cy="1405.51" r="2.6" fill="#d8d8d8" stroke="#8f8f8f" stroke-width="1.4"/>
<circle cx="1250.15" cy="1412.79" r="2.6" fill="#d8d8d8" stroke="#8f8f8f" stroke-width="1.4"/>
<circle cx="1277.71" cy="1411.73" r="2.6" fill="#d8d8d8" stroke="#8f8f8f" stroke-width="1.4"/>
<circle cx="1253.47" cy="1419.68" r="2.6" fill="#d8d8d8" stroke="#8f8f8f" stroke-width="1.4"/>
<circle cx="1258.50" cy="1421.93" r="2.6" fill="#d8d8d8" stroke="#8f8f8f" stroke-width="1.4"/>
<circle cx="1266.71" cy="1420.34" r="2.6" fill="#d8d8d8" stroke="#8f8f8f" stroke-width="1.4"/>
<circle cx="1246.44" cy="1423.26" r="2.6" fill="#d8d8d8" stroke="#8f8f8f" stroke-width="1.4"/>
<circle cx="1257.44" cy="1434.92" r="2.6" fill="#d8d8d8" stroke="#8f8f8f" stroke-width="1.4"/>
<circle cx="1239.95" cy="1439.16" r="2.6" fill="#d8d8d8" stroke="#8f8f8f" stroke-width="1.4"/>
<circle cx="1383.04" cy="1422.07" r="2.6" fill="#d8d8d8" stroke="#8f8f8f" stroke-width="1.4"/>
<circle cx="1307.12" cy="1471.75" r="2.6" fill="#d8d8d8" stroke="#8f8f8f" stroke-width="1.4"/>
<circle cx="1266.18" cy="1528.06" r="2.6" fill="#d8d8d8" stroke="#8f8f8f" stroke-width="1.4"/>
<circle cx="1364.75" cy="1532.69" r="2.6" fill="#d8d8d8" stroke="#8f8f8f" stroke-width="1.4"/>
<circle cx="1212.13" cy="1437.57" r="2.8" fill="#22d822" stroke="#0a7a0a" stroke-width="1.1"/>
<circle cx="1203.78" cy="1445.78" r="2.8" fill="#22d822" stroke="#0a7a0a" stroke-width="1.1"/>
<circle cx="1207.76" cy="1449.49" r="2.8" fill="#22d822" stroke="#0a7a0a" stroke-width="1.1"/>
<circle cx="1192.26" cy="1450.15" r="2.8" fill="#22d822" stroke="#0a7a0a" stroke-width="1.1"/>
<circle cx="1200.21" cy="1454.13" r="2.8" fill="#22d822" stroke="#0a7a0a" stroke-width="1.1"/>
<circle cx="1194.24" cy="1457.04" r="2.8" fill="#22d822" stroke="#0a7a0a" stroke-width="1.1"/>
<circle cx="1220.34" cy="1453.20" r="2.8" fill="#22d822" stroke="#0a7a0a" stroke-width="1.1"/>
<circle cx="1220.08" cy="1454.79" r="2.8" fill="#22d822" stroke="#0a7a0a" stroke-width="1.1"/>
<circle cx="1222.73" cy="1458.50" r="2.8" fill="#22d822" stroke="#0a7a0a" stroke-width="1.1"/>
<circle cx="1228.56" cy="1460.09" r="2.8" fill="#22d822" stroke="#0a7a0a" stroke-width="1.1"/>
<circle cx="1205.11" cy="1459.43" r="2.8" fill="#22d822" stroke="#0a7a0a" stroke-width="1.1"/>
<circle cx="1207.76" cy="1458.50" r="2.8" fill="#22d822" stroke="#0a7a0a" stroke-width="1.1"/>
<circle cx="1209.48" cy="1463.40" r="2.8" fill="#22d822" stroke="#0a7a0a" stroke-width="1.1"/>
<circle cx="1205.11" cy="1467.11" r="2.8" fill="#22d822" stroke="#0a7a0a" stroke-width="1.1"/>
<circle cx="1191.20" cy="1473.60" r="2.8" fill="#22d822" stroke="#0a7a0a" stroke-width="1.1"/>
<circle cx="1204.71" cy="1474.00" r="2.8" fill="#22d822" stroke="#0a7a0a" stroke-width="1.1"/>
<circle cx="1208.42" cy="1473.60" r="2.8" fill="#22d822" stroke="#0a7a0a" stroke-width="1.1"/>
<circle cx="1198.48" cy="1478.37" r="2.8" fill="#22d822" stroke="#0a7a0a" stroke-width="1.1"/>
<circle cx="1194.51" cy="1481.02" r="2.8" fill="#22d822" stroke="#0a7a0a" stroke-width="1.1"/>
<circle cx="1202.46" cy="1481.69" r="2.8" fill="#22d822" stroke="#0a7a0a" stroke-width="1.1"/>
<circle cx="1207.49" cy="1482.61" r="2.8" fill="#22d822" stroke="#0a7a0a" stroke-width="1.1"/>
<circle cx="1211.07" cy="1479.30" r="2.8" fill="#22d822" stroke="#0a7a0a" stroke-width="1.1"/>
<circle cx="1221.67" cy="1479.70" r="2.8" fill="#22d822" stroke="#0a7a0a" stroke-width="1.1"/>
<circle cx="1196.50" cy="1490.30" r="2.8" fill="#22d822" stroke="#0a7a0a" stroke-width="1.1"/>
<circle cx="1377.74" cy="1457.04" r="2.8" fill="#22d822" stroke="#0a7a0a" stroke-width="1.1"/>
<circle cx="1371.38" cy="1470.69" r="2.8" fill="#22d822" stroke="#0a7a0a" stroke-width="1.1"/>
<circle cx="1376.01" cy="1473.34" r="2.8" fill="#22d822" stroke="#0a7a0a" stroke-width="1.1"/>
<circle cx="1374.69" cy="1475.72" r="2.8" fill="#22d822" stroke="#0a7a0a" stroke-width="1.1"/>
<circle cx="1381.05" cy="1479.70" r="2.8" fill="#22d822" stroke="#0a7a0a" stroke-width="1.1"/>
<circle cx="1361.84" cy="1483.67" r="2.8" fill="#22d822" stroke="#0a7a0a" stroke-width="1.1"/>
<circle cx="1366.48" cy="1483.28" r="2.8" fill="#22d822" stroke="#0a7a0a" stroke-width="1.1"/>
<circle cx="1369.39" cy="1487.25" r="2.8" fill="#22d822" stroke="#0a7a0a" stroke-width="1.1"/>
<circle cx="1380.65" cy="1485.00" r="2.8" fill="#22d822" stroke="#0a7a0a" stroke-width="1.1"/>
<circle cx="1361.44" cy="1493.61" r="2.8" fill="#22d822" stroke="#0a7a0a" stroke-width="1.1"/>
<circle cx="1363.03" cy="1503.81" r="2.8" fill="#22d822" stroke="#0a7a0a" stroke-width="1.1"/>
<circle cx="1376.41" cy="1502.75" r="2.8" fill="#22d822" stroke="#0a7a0a" stroke-width="1.1"/>
<circle cx="1356.54" cy="1508.05" r="2.8" fill="#22d822" stroke="#0a7a0a" stroke-width="1.1"/>
<circle cx="1691.6" cy="1426.8" r="2.8" fill="rgb(46, 86, 117)" stroke="rgb(28, 53, 72)" stroke-width="1"/>
<circle cx="1529.8" cy="1446.9" r="2.8" fill="rgb(47, 86, 118)" stroke="rgb(29, 53, 73)" stroke-width="1"/>
<circle cx="1611.7" cy="1477.1" r="2.8" fill="rgb(47, 86, 118)" stroke="rgb(29, 53, 73)" stroke-width="1"/>
<circle cx="1697.6" cy="1464.8" r="2.8" fill="rgb(47, 87, 118)" stroke="rgb(29, 53, 73)" stroke-width="1"/>
<circle cx="1600.2" cy="1471.1" r="2.8" fill="rgb(47, 87, 118)" stroke="rgb(29, 53, 73)" stroke-width="1"/>
<circle cx="1595.9" cy="1490.5" r="2.8" fill="rgb(47, 87, 118)" stroke="rgb(29, 53, 73)" stroke-width="1"/>
<circle cx="1659.0" cy="1452.8" r="2.8" fill="rgb(47, 87, 119)" stroke="rgb(29, 53, 73)" stroke-width="1"/>
<circle cx="1687.6" cy="1461.6" r="2.8" fill="rgb(47, 87, 119)" stroke="rgb(29, 53, 73)" stroke-width="1"/>
<circle cx="1585.3" cy="1423.0" r="2.8" fill="rgb(47, 87, 119)" stroke="rgb(29, 53, 73)" stroke-width="1"/>
<circle cx="1647.9" cy="1442.8" r="2.8" fill="rgb(47, 87, 119)" stroke="rgb(29, 53, 73)" stroke-width="1"/>
<circle cx="1578.0" cy="1479.0" r="2.8" fill="rgb(47, 87, 119)" stroke="rgb(29, 53, 73)" stroke-width="1"/>
<circle cx="1652.5" cy="1442.8" r="2.8" fill="rgb(47, 87, 119)" stroke="rgb(29, 53, 73)" stroke-width="1"/>
<circle cx="1509.1" cy="1477.3" r="2.8" fill="rgb(47, 87, 119)" stroke="rgb(29, 53, 73)" stroke-width="1"/>
<circle cx="1626.3" cy="1359.8" r="2.8" fill="rgb(47, 88, 119)" stroke="rgb(29, 54, 73)" stroke-width="1"/>
<circle cx="1712.2" cy="1442.1" r="2.8" fill="rgb(47, 88, 120)" stroke="rgb(29, 54, 74)" stroke-width="1"/>
<circle cx="1592.3" cy="1415.8" r="2.8" fill="rgb(47, 88, 120)" stroke="rgb(29, 54, 74)" stroke-width="1"/>
<circle cx="1614.3" cy="1486.4" r="2.8" fill="rgb(47, 88, 120)" stroke="rgb(29, 54, 74)" stroke-width="1"/>
<circle cx="1556.4" cy="1421.4" r="2.8" fill="rgb(47, 88, 120)" stroke="rgb(29, 54, 74)" stroke-width="1"/>
<circle cx="1555.3" cy="1494.1" r="2.8" fill="rgb(47, 88, 120)" stroke="rgb(29, 54, 74)" stroke-width="1"/>
<circle cx="1591.2" cy="1495.2" r="2.8" fill="rgb(47, 88, 120)" stroke="rgb(29, 54, 74)" stroke-width="1"/>
<circle cx="1514.0" cy="1383.4" r="2.8" fill="rgb(48, 88, 121)" stroke="rgb(29, 54, 75)" stroke-width="1"/>
<circle cx="1671.0" cy="1420.4" r="2.8" fill="rgb(48, 88, 121)" stroke="rgb(29, 54, 75)" stroke-width="1"/>
<circle cx="1627.5" cy="1511.5" r="2.8" fill="rgb(48, 88, 121)" stroke="rgb(29, 54, 75)" stroke-width="1"/>
<circle cx="1600.5" cy="1440.0" r="2.8" fill="rgb(48, 89, 121)" stroke="rgb(29, 55, 75)" stroke-width="1"/>
<circle cx="1560.2" cy="1429.7" r="2.8" fill="rgb(48, 89, 121)" stroke="rgb(29, 55, 75)" stroke-width="1"/>
<circle cx="1574.1" cy="1396.1" r="2.8" fill="rgb(48, 89, 121)" stroke="rgb(29, 55, 75)" stroke-width="1"/>
<circle cx="1533.4" cy="1442.9" r="2.8" fill="rgb(48, 89, 121)" stroke="rgb(29, 55, 75)" stroke-width="1"/>
<circle cx="1604.5" cy="1425.5" r="2.8" fill="rgb(48, 89, 121)" stroke="rgb(29, 55, 75)" stroke-width="1"/>
<circle cx="1619.2" cy="1428.2" r="2.8" fill="rgb(48, 89, 121)" stroke="rgb(29, 55, 75)" stroke-width="1"/>
<circle cx="1558.8" cy="1400.2" r="2.8" fill="rgb(48, 89, 121)" stroke="rgb(29, 55, 75)" stroke-width="1"/>
<circle cx="1570.7" cy="1463.5" r="2.8" fill="rgb(48, 89, 121)" stroke="rgb(29, 55, 75)" stroke-width="1"/>
<circle cx="1583.3" cy="1422.6" r="2.8" fill="rgb(48, 89, 122)" stroke="rgb(29, 55, 75)" stroke-width="1"/>
<circle cx="1563.7" cy="1428.1" r="2.8" fill="rgb(48, 89, 122)" stroke="rgb(29, 55, 75)" stroke-width="1"/>
<circle cx="1554.8" cy="1453.4" r="2.8" fill="rgb(48, 90, 122)" stroke="rgb(29, 55, 75)" stroke-width="1"/>
<circle cx="1600.0" cy="1439.1" r="2.8" fill="rgb(48, 90, 122)" stroke="rgb(29, 55, 75)" stroke-width="1"/>
<circle cx="1576.9" cy="1540.1" r="2.8" fill="rgb(48, 90, 122)" stroke="rgb(29, 55, 75)" stroke-width="1"/>
<circle cx="1569.0" cy="1443.5" r="2.8" fill="rgb(48, 90, 122)" stroke="rgb(29, 55, 75)" stroke-width="1"/>
<circle cx="1658.5" cy="1373.5" r="2.8" fill="rgb(48, 90, 123)" stroke="rgb(29, 55, 76)" stroke-width="1"/>
<circle cx="1618.1" cy="1442.4" r="2.8" fill="rgb(48, 90, 123)" stroke="rgb(29, 55, 76)" stroke-width="1"/>
<circle cx="1594.5" cy="1432.4" r="2.8" fill="rgb(48, 90, 123)" stroke="rgb(29, 55, 76)" stroke-width="1"/>
<circle cx="1586.6" cy="1412.7" r="2.8" fill="rgb(48, 90, 123)" stroke="rgb(29, 55, 76)" stroke-width="1"/>
<circle cx="1553.0" cy="1403.0" r="2.8" fill="rgb(48, 90, 123)" stroke="rgb(29, 55, 76)" stroke-width="1"/>
<circle cx="1618.4" cy="1433.4" r="2.8" fill="rgb(48, 91, 123)" stroke="rgb(29, 56, 76)" stroke-width="1"/>
<circle cx="1653.8" cy="1477.8" r="2.8" fill="rgb(49, 91, 124)" stroke="rgb(30, 56, 76)" stroke-width="1"/>
<circle cx="1599.3" cy="1427.0" r="2.8" fill="rgb(49, 91, 124)" stroke="rgb(30, 56, 76)" stroke-width="1"/>
<circle cx="1675.4" cy="1405.8" r="2.8" fill="rgb(49, 91, 124)" stroke="rgb(30, 56, 76)" stroke-width="1"/>
<circle cx="1538.4" cy="1395.0" r="2.8" fill="rgb(49, 91, 124)" stroke="rgb(30, 56, 76)" stroke-width="1"/>
<circle cx="1591.0" cy="1422.3" r="2.8" fill="rgb(49, 91, 124)" stroke="rgb(30, 56, 76)" stroke-width="1"/>
<circle cx="1624.6" cy="1488.2" r="2.8" fill="rgb(49, 91, 124)" stroke="rgb(30, 56, 76)" stroke-width="1"/>
<circle cx="1568.5" cy="1348.2" r="2.8" fill="rgb(49, 91, 124)" stroke="rgb(30, 56, 76)" stroke-width="1"/>
<circle cx="1569.1" cy="1408.4" r="2.8" fill="rgb(49, 91, 124)" stroke="rgb(30, 56, 76)" stroke-width="1"/>
<circle cx="1597.7" cy="1454.3" r="2.8" fill="rgb(49, 92, 125)" stroke="rgb(30, 57, 77)" stroke-width="1"/>
<circle cx="1603.9" cy="1430.0" r="2.8" fill="rgb(49, 92, 125)" stroke="rgb(30, 57, 77)" stroke-width="1"/>
<circle cx="1581.3" cy="1395.2" r="2.8" fill="rgb(49, 92, 125)" stroke="rgb(30, 57, 77)" stroke-width="1"/>
<circle cx="1633.7" cy="1427.0" r="2.8" fill="rgb(49, 92, 125)" stroke="rgb(30, 57, 77)" stroke-width="1"/>
<circle cx="1608.9" cy="1511.4" r="2.8" fill="rgb(49, 92, 126)" stroke="rgb(30, 57, 78)" stroke-width="1"/>
<circle cx="1607.5" cy="1423.4" r="2.8" fill="rgb(49, 93, 126)" stroke="rgb(30, 57, 78)" stroke-width="1"/>
<circle cx="1667.6" cy="1426.8" r="2.8" fill="rgb(49, 93, 126)" stroke="rgb(30, 57, 78)" stroke-width="1"/>
<circle cx="1594.7" cy="1432.2" r="2.8" fill="rgb(49, 93, 126)" stroke="rgb(30, 57, 78)" stroke-width="1"/>
<circle cx="1590.8" cy="1449.2" r="2.8" fill="rgb(49, 93, 126)" stroke="rgb(30, 57, 78)" stroke-width="1"/>
<circle cx="1574.1" cy="1438.2" r="2.8" fill="rgb(50, 93, 127)" stroke="rgb(31, 57, 78)" stroke-width="1"/>
<circle cx="1626.9" cy="1457.7" r="2.8" fill="rgb(50, 93, 127)" stroke="rgb(31, 57, 78)" stroke-width="1"/>
<circle cx="1557.8" cy="1434.6" r="2.8" fill="rgb(50, 93, 127)" stroke="rgb(31, 57, 78)" stroke-width="1"/>
<circle cx="1686.4" cy="1403.6" r="2.8" fill="rgb(50, 94, 127)" stroke="rgb(31, 58, 78)" stroke-width="1"/>
<circle cx="1519.5" cy="1495.6" r="2.8" fill="rgb(50, 94, 127)" stroke="rgb(31, 58, 78)" stroke-width="1"/>
<circle cx="1534.8" cy="1401.5" r="2.8" fill="rgb(50, 94, 127)" stroke="rgb(31, 58, 78)" stroke-width="1"/>
<circle cx="1657.1" cy="1438.3" r="2.8" fill="rgb(50, 94, 128)" stroke="rgb(31, 58, 79)" stroke-width="1"/>
<circle cx="1614.1" cy="1372.1" r="2.8" fill="rgb(50, 94, 128)" stroke="rgb(31, 58, 79)" stroke-width="1"/>
<circle cx="1607.2" cy="1376.9" r="2.8" fill="rgb(50, 94, 128)" stroke="rgb(31, 58, 79)" stroke-width="1"/>
<circle cx="1553.2" cy="1463.8" r="2.8" fill="rgb(50, 94, 128)" stroke="rgb(31, 58, 79)" stroke-width="1"/>
<circle cx="1680.2" cy="1398.4" r="2.8" fill="rgb(50, 94, 128)" stroke="rgb(31, 58, 79)" stroke-width="1"/>
<circle cx="1582.6" cy="1431.6" r="2.8" fill="rgb(50, 94, 128)" stroke="rgb(31, 58, 79)" stroke-width="1"/>
<circle cx="1585.9" cy="1462.2" r="2.8" fill="rgb(50, 95, 129)" stroke="rgb(31, 58, 79)" stroke-width="1"/>
<circle cx="1658.9" cy="1413.6" r="2.8" fill="rgb(50, 95, 129)" stroke="rgb(31, 58, 79)" stroke-width="1"/>
<circle cx="1637.4" cy="1451.5" r="2.8" fill="rgb(50, 95, 129)" stroke="rgb(31, 58, 79)" stroke-width="1"/>
<circle cx="1626.1" cy="1496.3" r="2.8" fill="rgb(50, 95, 129)" stroke="rgb(31, 58, 79)" stroke-width="1"/>
<circle cx="1559.2" cy="1423.9" r="2.8" fill="rgb(50, 95, 129)" stroke="rgb(31, 58, 79)" stroke-width="1"/>
<circle cx="1632.8" cy="1351.4" r="2.8" fill="rgb(50, 95, 129)" stroke="rgb(31, 58, 79)" stroke-width="1"/>
<circle cx="1602.1" cy="1410.8" r="2.8" fill="rgb(50, 95, 129)" stroke="rgb(31, 58, 79)" stroke-width="1"/>
<circle cx="1625.5" cy="1537.3" r="2.8" fill="rgb(50, 95, 129)" stroke="rgb(31, 58, 79)" stroke-width="1"/>
<circle cx="1601.2" cy="1453.6" r="2.8" fill="rgb(51, 95, 130)" stroke="rgb(31, 58, 80)" stroke-width="1"/>
<circle cx="1584.7" cy="1422.3" r="2.8" fill="rgb(51, 95, 130)" stroke="rgb(31, 58, 80)" stroke-width="1"/>
<circle cx="1516.7" cy="1425.7" r="2.8" fill="rgb(51, 96, 130)" stroke="rgb(31, 59, 80)" stroke-width="1"/>
<circle cx="1618.3" cy="1396.7" r="2.8" fill="rgb(51, 96, 130)" stroke="rgb(31, 59, 80)" stroke-width="1"/>
<circle cx="1553.1" cy="1353.9" r="2.8" fill="rgb(51, 96, 130)" stroke="rgb(31, 59, 80)" stroke-width="1"/>
<circle cx="1527.0" cy="1440.8" r="2.8" fill="rgb(51, 96, 130)" stroke="rgb(31, 59, 80)" stroke-width="1"/>
<circle cx="1513.8" cy="1445.5" r="2.8" fill="rgb(51, 96, 130)" stroke="rgb(31, 59, 80)" stroke-width="1"/>
<circle cx="1594.9" cy="1426.7" r="2.8" fill="rgb(51, 96, 131)" stroke="rgb(31, 59, 81)" stroke-width="1"/>
<circle cx="1554.3" cy="1501.5" r="2.8" fill="rgb(51, 96, 131)" stroke="rgb(31, 59, 81)" stroke-width="1"/>
<circle cx="1549.6" cy="1404.0" r="2.8" fill="rgb(51, 96, 131)" stroke="rgb(31, 59, 81)" stroke-width="1"/>
<circle cx="1597.9" cy="1475.9" r="2.8" fill="rgb(51, 96, 131)" stroke="rgb(31, 59, 81)" stroke-width="1"/>
<circle cx="1563.1" cy="1402.0" r="2.8" fill="rgb(51, 97, 131)" stroke="rgb(31, 60, 81)" stroke-width="1"/>
<circle cx="1568.0" cy="1435.5" r="2.8" fill="rgb(51, 97, 131)" stroke="rgb(31, 60, 81)" stroke-width="1"/>
<circle cx="1591.3" cy="1433.5" r="2.8" fill="rgb(51, 97, 131)" stroke="rgb(31, 60, 81)" stroke-width="1"/>
<circle cx="1597.4" cy="1539.3" r="2.8" fill="rgb(51, 97, 132)" stroke="rgb(31, 60, 81)" stroke-width="1"/>
<circle cx="1608.9" cy="1455.2" r="2.8" fill="rgb(51, 97, 132)" stroke="rgb(31, 60, 81)" stroke-width="1"/>
<circle cx="1623.1" cy="1366.9" r="2.8" fill="rgb(51, 97, 132)" stroke="rgb(31, 60, 81)" stroke-width="1"/>
<circle cx="1653.6" cy="1435.7" r="2.8" fill="rgb(51, 97, 132)" stroke="rgb(31, 60, 81)" stroke-width="1"/>
<circle cx="1535.7" cy="1492.1" r="2.8" fill="rgb(51, 98, 132)" stroke="rgb(31, 60, 81)" stroke-width="1"/>
<circle cx="1563.3" cy="1418.9" r="2.8" fill="rgb(51, 98, 132)" stroke="rgb(31, 60, 81)" stroke-width="1"/>
<circle cx="1539.8" cy="1458.7" r="2.8" fill="rgb(52, 98, 133)" stroke="rgb(32, 60, 82)" stroke-width="1"/>
<circle cx="1563.0" cy="1416.9" r="2.8" fill="rgb(52, 98, 133)" stroke="rgb(32, 60, 82)" stroke-width="1"/>
<circle cx="1545.2" cy="1443.7" r="2.8" fill="rgb(52, 98, 133)" stroke="rgb(32, 60, 82)" stroke-width="1"/>
<circle cx="1598.0" cy="1437.7" r="2.8" fill="rgb(52, 98, 133)" stroke="rgb(32, 60, 82)" stroke-width="1"/>
<circle cx="1506.9" cy="1418.1" r="2.8" fill="rgb(52, 98, 133)" stroke="rgb(32, 60, 82)" stroke-width="1"/>
<circle cx="1609.6" cy="1490.3" r="2.8" fill="rgb(52, 98, 134)" stroke="rgb(32, 60, 83)" stroke-width="1"/>
<circle cx="1621.9" cy="1494.1" r="2.8" fill="rgb(52, 98, 134)" stroke="rgb(32, 60, 83)" stroke-width="1"/>
<circle cx="1560.6" cy="1414.9" r="2.8" fill="rgb(52, 98, 134)" stroke="rgb(32, 60, 83)" stroke-width="1"/>
<circle cx="1582.2" cy="1437.1" r="2.8" fill="rgb(52, 99, 134)" stroke="rgb(32, 61, 83)" stroke-width="1"/>
<circle cx="1632.6" cy="1424.5" r="2.8" fill="rgb(52, 99, 135)" stroke="rgb(32, 61, 83)" stroke-width="1"/>
<circle cx="1631.3" cy="1451.1" r="2.8" fill="rgb(52, 100, 135)" stroke="rgb(32, 62, 83)" stroke-width="1"/>
<circle cx="1638.1" cy="1428.1" r="2.8" fill="rgb(52, 100, 135)" stroke="rgb(32, 62, 83)" stroke-width="1"/>
<circle cx="1633.7" cy="1478.3" r="2.8" fill="rgb(52, 100, 135)" stroke="rgb(32, 62, 83)" stroke-width="1"/>
<circle cx="1674.7" cy="1489.3" r="2.8" fill="rgb(52, 100, 135)" stroke="rgb(32, 62, 83)" stroke-width="1"/>
<circle cx="1679.9" cy="1395.7" r="2.8" fill="rgb(52, 100, 135)" stroke="rgb(32, 62, 83)" stroke-width="1"/>
<circle cx="1562.1" cy="1451.6" r="2.8" fill="rgb(52, 100, 135)" stroke="rgb(32, 62, 83)" stroke-width="1"/>
<circle cx="1627.8" cy="1393.3" r="2.8" fill="rgb(53, 100, 136)" stroke="rgb(32, 62, 84)" stroke-width="1"/>
<circle cx="1578.3" cy="1424.9" r="2.8" fill="rgb(53, 100, 136)" stroke="rgb(32, 62, 84)" stroke-width="1"/>
<circle cx="1700.8" cy="1444.4" r="2.8" fill="rgb(53, 100, 136)" stroke="rgb(32, 62, 84)" stroke-width="1"/>
<circle cx="1557.2" cy="1442.2" r="2.8" fill="rgb(53, 100, 136)" stroke="rgb(32, 62, 84)" stroke-width="1"/>
<circle cx="1560.4" cy="1411.6" r="2.8" fill="rgb(53, 101, 136)" stroke="rgb(32, 62, 84)" stroke-width="1"/>
<circle cx="1666.4" cy="1456.3" r="2.8" fill="rgb(53, 101, 137)" stroke="rgb(32, 62, 84)" stroke-width="1"/>
<circle cx="1621.0" cy="1490.0" r="2.8" fill="rgb(53, 101, 137)" stroke="rgb(32, 62, 84)" stroke-width="1"/>
<circle cx="1592.3" cy="1540.3" r="2.8" fill="rgb(53, 101, 137)" stroke="rgb(32, 62, 84)" stroke-width="1"/>
<circle cx="1593.4" cy="1463.5" r="2.8" fill="rgb(53, 101, 137)" stroke="rgb(32, 62, 84)" stroke-width="1"/>
<circle cx="1606.8" cy="1479.6" r="2.8" fill="rgb(53, 101, 137)" stroke="rgb(32, 62, 84)" stroke-width="1"/>
<circle cx="1623.8" cy="1409.8" r="2.8" fill="rgb(53, 102, 138)" stroke="rgb(32, 63, 85)" stroke-width="1"/>
<circle cx="1659.4" cy="1440.6" r="2.8" fill="rgb(53, 102, 138)" stroke="rgb(32, 63, 85)" stroke-width="1"/>
<circle cx="1591.7" cy="1382.7" r="2.8" fill="rgb(53, 102, 138)" stroke="rgb(32, 63, 85)" stroke-width="1"/>
<circle cx="1612.1" cy="1456.8" r="2.8" fill="rgb(53, 102, 138)" stroke="rgb(32, 63, 85)" stroke-width="1"/>
<circle cx="1614.9" cy="1490.3" r="2.8" fill="rgb(53, 102, 138)" stroke="rgb(32, 63, 85)" stroke-width="1"/>
<circle cx="1606.9" cy="1516.6" r="2.8" fill="rgb(53, 102, 138)" stroke="rgb(32, 63, 85)" stroke-width="1"/>
<circle cx="1587.2" cy="1416.9" r="2.8" fill="rgb(54, 102, 139)" stroke="rgb(33, 63, 86)" stroke-width="1"/>
<circle cx="1587.3" cy="1450.6" r="2.8" fill="rgb(54, 103, 139)" stroke="rgb(33, 63, 86)" stroke-width="1"/>
<circle cx="1554.5" cy="1449.4" r="2.8" fill="rgb(54, 103, 139)" stroke="rgb(33, 63, 86)" stroke-width="1"/>
<circle cx="1518.3" cy="1441.0" r="2.8" fill="rgb(54, 103, 139)" stroke="rgb(33, 63, 86)" stroke-width="1"/>
<circle cx="1611.5" cy="1474.0" r="2.8" fill="rgb(54, 103, 139)" stroke="rgb(33, 63, 86)" stroke-width="1"/>
<circle cx="1545.5" cy="1458.2" r="2.8" fill="rgb(54, 103, 139)" stroke="rgb(33, 63, 86)" stroke-width="1"/>
<circle cx="1558.9" cy="1408.9" r="2.8" fill="rgb(54, 103, 139)" stroke="rgb(33, 63, 86)" stroke-width="1"/>
<circle cx="1675.4" cy="1453.4" r="2.8" fill="rgb(54, 103, 139)" stroke="rgb(33, 63, 86)" stroke-width="1"/>
<circle cx="1502.8" cy="1449.8" r="2.8" fill="rgb(54, 103, 139)" stroke="rgb(33, 63, 86)" stroke-width="1"/>
<circle cx="1610.2" cy="1488.8" r="2.8" fill="rgb(54, 103, 140)" stroke="rgb(33, 63, 86)" stroke-width="1"/>
<circle cx="1551.0" cy="1531.3" r="2.8" fill="rgb(54, 103, 140)" stroke="rgb(33, 63, 86)" stroke-width="1"/>
<circle cx="1638.9" cy="1401.5" r="2.8" fill="rgb(54, 103, 140)" stroke="rgb(33, 63, 86)" stroke-width="1"/>
<circle cx="1622.9" cy="1385.8" r="2.8" fill="rgb(54, 103, 140)" stroke="rgb(33, 63, 86)" stroke-width="1"/>
<circle cx="1551.6" cy="1486.1" r="2.8" fill="rgb(54, 104, 140)" stroke="rgb(33, 64, 86)" stroke-width="1"/>
<circle cx="1612.0" cy="1414.2" r="2.8" fill="rgb(54, 104, 140)" stroke="rgb(33, 64, 86)" stroke-width="1"/>
<circle cx="1589.2" cy="1447.4" r="2.8" fill="rgb(54, 104, 141)" stroke="rgb(33, 64, 87)" stroke-width="1"/>
<circle cx="1519.7" cy="1428.4" r="2.8" fill="rgb(54, 104, 141)" stroke="rgb(33, 64, 87)" stroke-width="1"/>
<circle cx="1513.9" cy="1479.3" r="2.8" fill="rgb(54, 104, 141)" stroke="rgb(33, 64, 87)" stroke-width="1"/>
<circle cx="1530.9" cy="1464.9" r="2.8" fill="rgb(54, 104, 141)" stroke="rgb(33, 64, 87)" stroke-width="1"/>
<circle cx="1607.3" cy="1449.7" r="2.8" fill="rgb(54, 104, 141)" stroke="rgb(33, 64, 87)" stroke-width="1"/>
<circle cx="1529.0" cy="1449.0" r="2.8" fill="rgb(54, 104, 141)" stroke="rgb(33, 64, 87)" stroke-width="1"/>
<circle cx="1536.8" cy="1463.9" r="2.8" fill="rgb(54, 104, 141)" stroke="rgb(33, 64, 87)" stroke-width="1"/>
<circle cx="1628.3" cy="1512.0" r="2.8" fill="rgb(55, 105, 142)" stroke="rgb(34, 65, 88)" stroke-width="1"/>
<circle cx="1547.0" cy="1384.9" r="2.8" fill="rgb(55, 106, 143)" stroke="rgb(34, 65, 88)" stroke-width="1"/>
<circle cx="1636.4" cy="1467.7" r="2.8" fill="rgb(55, 106, 144)" stroke="rgb(34, 65, 89)" stroke-width="1"/>
<circle cx="1607.2" cy="1480.4" r="2.8" fill="rgb(55, 106, 144)" stroke="rgb(34, 65, 89)" stroke-width="1"/>
<circle cx="1572.5" cy="1380.2" r="2.8" fill="rgb(55, 107, 145)" stroke="rgb(34, 66, 89)" stroke-width="1"/>
<circle cx="1622.5" cy="1535.7" r="2.8" fill="rgb(55, 107, 145)" stroke="rgb(34, 66, 89)" stroke-width="1"/>
<circle cx="1583.5" cy="1433.0" r="2.8" fill="rgb(55, 107, 145)" stroke="rgb(34, 66, 89)" stroke-width="1"/>
<circle cx="1629.0" cy="1434.3" r="2.8" fill="rgb(55, 108, 146)" stroke="rgb(34, 66, 90)" stroke-width="1"/>
<circle cx="1621.4" cy="1431.4" r="2.8" fill="rgb(60, 131, 175)" stroke="rgb(37, 81, 108)" stroke-width="1"/>
<circle cx="1576.6" cy="1453.6" r="2.8" fill="rgb(61, 132, 177)" stroke="rgb(37, 81, 109)" stroke-width="1"/>
<circle cx="1660.2" cy="1483.0" r="2.8" fill="rgb(62, 134, 178)" stroke="rgb(38, 83, 110)" stroke-width="1"/>
<circle cx="1586.5" cy="1445.0" r="2.8" fill="rgb(62, 134, 178)" stroke="rgb(38, 83, 110)" stroke-width="1"/>
<circle cx="1555.1" cy="1467.0" r="2.8" fill="rgb(62, 135, 179)" stroke="rgb(38, 83, 110)" stroke-width="1"/>
<circle cx="1597.4" cy="1426.0" r="2.8" fill="rgb(63, 135, 179)" stroke="rgb(39, 83, 110)" stroke-width="1"/>
<circle cx="1589.9" cy="1425.0" r="2.8" fill="rgb(64, 137, 180)" stroke="rgb(39, 84, 111)" stroke-width="1"/>
<circle cx="1679.7" cy="1467.4" r="2.8" fill="rgb(64, 137, 181)" stroke="rgb(39, 84, 112)" stroke-width="1"/>
<circle cx="1571.3" cy="1472.5" r="2.8" fill="rgb(66, 140, 183)" stroke="rgb(40, 86, 113)" stroke-width="1"/>
<circle cx="1556.1" cy="1412.0" r="2.8" fill="rgb(66, 140, 183)" stroke="rgb(40, 86, 113)" stroke-width="1"/>
<circle cx="1504.1" cy="1459.3" r="2.8" fill="rgb(67, 141, 184)" stroke="rgb(41, 87, 114)" stroke-width="1"/>
<circle cx="1598.3" cy="1452.8" r="2.8" fill="rgb(67, 141, 184)" stroke="rgb(41, 87, 114)" stroke-width="1"/>
<circle cx="1600.5" cy="1428.5" r="2.8" fill="rgb(68, 141, 184)" stroke="rgb(42, 87, 114)" stroke-width="1"/>
<circle cx="1580.4" cy="1419.2" r="2.8" fill="rgb(68, 142, 185)" stroke="rgb(42, 88, 114)" stroke-width="1"/>
<circle cx="1612.4" cy="1450.6" r="2.8" fill="rgb(68, 142, 185)" stroke="rgb(42, 88, 114)" stroke-width="1"/>
<circle cx="1540.0" cy="1468.5" r="2.8" fill="rgb(70, 144, 187)" stroke="rgb(43, 89, 115)" stroke-width="1"/>
<circle cx="1621.5" cy="1434.1" r="2.8" fill="rgb(72, 146, 189)" stroke="rgb(44, 90, 117)" stroke-width="1"/>
<circle cx="1563.7" cy="1485.6" r="2.8" fill="rgb(72, 147, 189)" stroke="rgb(44, 91, 117)" stroke-width="1"/>
<circle cx="1633.4" cy="1432.9" r="2.8" fill="rgb(72, 147, 189)" stroke="rgb(44, 91, 117)" stroke-width="1"/>
<circle cx="1577.3" cy="1469.3" r="2.8" fill="rgb(73, 148, 190)" stroke="rgb(45, 91, 117)" stroke-width="1"/>
<circle cx="1670.0" cy="1477.0" r="2.8" fill="rgb(74, 149, 192)" stroke="rgb(45, 92, 119)" stroke-width="1"/>
<circle cx="1581.7" cy="1445.3" r="2.8" fill="rgb(74, 150, 192)" stroke="rgb(45, 93, 119)" stroke-width="1"/>
<circle cx="1640.2" cy="1467.3" r="2.8" fill="rgb(76, 152, 194)" stroke="rgb(47, 94, 120)" stroke-width="1"/>
<circle cx="1578.4" cy="1451.2" r="2.8" fill="rgb(76, 152, 194)" stroke="rgb(47, 94, 120)" stroke-width="1"/>
<circle cx="1582.0" cy="1460.8" r="2.8" fill="rgb(79, 155, 197)" stroke="rgb(48, 96, 122)" stroke-width="1"/>
<circle cx="1555.1" cy="1444.3" r="2.8" fill="rgb(79, 156, 197)" stroke="rgb(48, 96, 122)" stroke-width="1"/>
<circle cx="1506.0" cy="1444.1" r="2.8" fill="rgb(79, 156, 197)" stroke="rgb(48, 96, 122)" stroke-width="1"/>
<circle cx="1641.9" cy="1479.7" r="2.8" fill="rgb(79, 156, 197)" stroke="rgb(48, 96, 122)" stroke-width="1"/>
<circle cx="1561.3" cy="1465.5" r="2.8" fill="rgb(80, 157, 198)" stroke="rgb(49, 97, 122)" stroke-width="1"/>
<circle cx="1585.8" cy="1439.0" r="2.8" fill="rgb(81, 158, 199)" stroke="rgb(50, 97, 123)" stroke-width="1"/>
<circle cx="1649.3" cy="1415.2" r="2.8" fill="rgb(81, 158, 199)" stroke="rgb(50, 97, 123)" stroke-width="1"/>
<circle cx="1579.7" cy="1414.1" r="2.8" fill="rgb(81, 159, 200)" stroke="rgb(50, 98, 124)" stroke-width="1"/>
<circle cx="1555.8" cy="1432.1" r="2.8" fill="rgb(81, 159, 200)" stroke="rgb(50, 98, 124)" stroke-width="1"/>
<circle cx="1612.2" cy="1440.5" r="2.8" fill="rgb(81, 159, 200)" stroke="rgb(50, 98, 124)" stroke-width="1"/>
<circle cx="1636.8" cy="1487.0" r="2.8" fill="rgb(82, 159, 200)" stroke="rgb(50, 98, 124)" stroke-width="1"/>
<circle cx="1580.4" cy="1466.4" r="2.8" fill="rgb(82, 160, 201)" stroke="rgb(50, 99, 124)" stroke-width="1"/>
<circle cx="1622.1" cy="1457.6" r="2.8" fill="rgb(82, 160, 201)" stroke="rgb(50, 99, 124)" stroke-width="1"/>
<circle cx="1581.8" cy="1466.5" r="2.8" fill="rgb(83, 161, 202)" stroke="rgb(51, 99, 125)" stroke-width="1"/>
<circle cx="1572.7" cy="1438.9" r="2.8" fill="rgb(84, 162, 203)" stroke="rgb(52, 100, 125)" stroke-width="1"/>
<circle cx="1516.2" cy="1437.7" r="2.8" fill="rgb(84, 163, 203)" stroke="rgb(52, 101, 125)" stroke-width="1"/>
<circle cx="1626.7" cy="1460.5" r="2.8" fill="rgb(84, 163, 203)" stroke="rgb(52, 101, 125)" stroke-width="1"/>
<circle cx="1612.8" cy="1454.2" r="2.8" fill="rgb(85, 163, 204)" stroke="rgb(52, 101, 126)" stroke-width="1"/>
<circle cx="1579.3" cy="1481.7" r="2.8" fill="rgb(85, 164, 204)" stroke="rgb(52, 101, 126)" stroke-width="1"/>
<circle cx="1540.8" cy="1488.8" r="2.8" fill="rgb(85, 164, 204)" stroke="rgb(52, 101, 126)" stroke-width="1"/>
<circle cx="1620.3" cy="1452.6" r="2.8" fill="rgb(85, 164, 205)" stroke="rgb(52, 101, 127)" stroke-width="1"/>
<circle cx="1579.3" cy="1440.8" r="2.8" fill="rgb(85, 164, 205)" stroke="rgb(52, 101, 127)" stroke-width="1"/>
<circle cx="1643.1" cy="1466.6" r="2.8" fill="rgb(85, 164, 205)" stroke="rgb(52, 101, 127)" stroke-width="1"/>
<circle cx="1600.7" cy="1469.2" r="2.8" fill="rgb(86, 165, 205)" stroke="rgb(53, 102, 127)" stroke-width="1"/>
<circle cx="1588.0" cy="1424.8" r="2.8" fill="rgb(86, 165, 206)" stroke="rgb(53, 102, 127)" stroke-width="1"/>
<circle cx="1567.4" cy="1432.5" r="2.8" fill="rgb(86, 165, 206)" stroke="rgb(53, 102, 127)" stroke-width="1"/>
<circle cx="1641.7" cy="1462.8" r="2.8" fill="rgb(86, 166, 206)" stroke="rgb(53, 102, 127)" stroke-width="1"/>
<circle cx="1651.1" cy="1438.9" r="2.8" fill="rgb(87, 166, 207)" stroke="rgb(53, 102, 128)" stroke-width="1"/>
<circle cx="1616.2" cy="1454.8" r="2.8" fill="rgb(87, 167, 207)" stroke="rgb(53, 103, 128)" stroke-width="1"/>
<circle cx="1651.3" cy="1446.7" r="2.8" fill="rgb(87, 167, 207)" stroke="rgb(53, 103, 128)" stroke-width="1"/>
<circle cx="1575.3" cy="1458.6" r="2.8" fill="rgb(87, 167, 207)" stroke="rgb(53, 103, 128)" stroke-width="1"/>
<circle cx="1502.0" cy="1464.5" r="2.8" fill="rgb(87, 167, 207)" stroke="rgb(53, 103, 128)" stroke-width="1"/>
<circle cx="1613.1" cy="1412.2" r="2.8" fill="rgb(88, 168, 208)" stroke="rgb(54, 104, 128)" stroke-width="1"/>
<circle cx="1567.0" cy="1489.2" r="2.8" fill="rgb(88, 168, 208)" stroke="rgb(54, 104, 128)" stroke-width="1"/>
<circle cx="1679.4" cy="1439.5" r="2.8" fill="rgb(90, 170, 210)" stroke="rgb(55, 105, 130)" stroke-width="1"/>
<circle cx="1674.4" cy="1413.2" r="2.8" fill="rgb(97, 173, 211)" stroke="rgb(60, 107, 130)" stroke-width="1"/>
<circle cx="1585.0" cy="1475.6" r="2.8" fill="rgb(101, 175, 212)" stroke="rgb(62, 108, 131)" stroke-width="1"/>
<circle cx="1702.6" cy="1475.9" r="2.8" fill="rgb(103, 176, 212)" stroke="rgb(63, 109, 131)" stroke-width="1"/>
<circle cx="1590.4" cy="1441.3" r="2.8" fill="rgb(103, 176, 212)" stroke="rgb(63, 109, 131)" stroke-width="1"/>
<circle cx="1564.4" cy="1480.0" r="2.8" fill="rgb(112, 180, 214)" stroke="rgb(69, 111, 132)" stroke-width="1"/>
<circle cx="1624.0" cy="1409.5" r="2.8" fill="rgb(164, 205, 225)" stroke="rgb(101, 127, 139)" stroke-width="1"/>
<circle cx="1622.5" cy="1470.9" r="2.8" fill="rgb(177, 211, 228)" stroke="rgb(109, 130, 141)" stroke-width="1"/>
<circle cx="1611.9" cy="1436.6" r="2.8" fill="rgb(177, 211, 228)" stroke="rgb(109, 130, 141)" stroke-width="1"/>
<circle cx="1582.7" cy="1441.8" r="2.8" fill="rgb(179, 211, 228)" stroke="rgb(110, 130, 141)" stroke-width="1"/>
<circle cx="1638.5" cy="1435.3" r="2.8" fill="rgb(179, 211, 228)" stroke="rgb(110, 130, 141)" stroke-width="1"/>
<circle cx="1597.7" cy="1450.6" r="2.8" fill="rgb(181, 212, 228)" stroke="rgb(112, 131, 141)" stroke-width="1"/>
<circle cx="1622.9" cy="1480.7" r="2.8" fill="rgb(182, 213, 228)" stroke="rgb(112, 132, 141)" stroke-width="1"/>
<circle cx="1639.6" cy="1444.0" r="2.8" fill="rgb(182, 213, 228)" stroke="rgb(112, 132, 141)" stroke-width="1"/>
<circle cx="1625.5" cy="1498.8" r="2.8" fill="rgb(184, 213, 229)" stroke="rgb(114, 132, 141)" stroke-width="1"/>
<circle cx="1592.8" cy="1457.3" r="2.8" fill="rgb(184, 213, 229)" stroke="rgb(114, 132, 141)" stroke-width="1"/>
<circle cx="1589.5" cy="1465.7" r="2.8" fill="rgb(185, 214, 229)" stroke="rgb(114, 132, 141)" stroke-width="1"/>
<circle cx="1517.7" cy="1458.5" r="2.8" fill="rgb(185, 214, 229)" stroke="rgb(114, 132, 141)" stroke-width="1"/>
<circle cx="1633.4" cy="1481.8" r="2.8" fill="rgb(186, 214, 229)" stroke="rgb(115, 132, 141)" stroke-width="1"/>
<circle cx="1632.4" cy="1375.7" r="2.8" fill="rgb(189, 216, 229)" stroke="rgb(117, 133, 141)" stroke-width="1"/>
<circle cx="1649.4" cy="1442.6" r="2.8" fill="rgb(189, 216, 229)" stroke="rgb(117, 133, 141)" stroke-width="1"/>
<circle cx="1647.0" cy="1380.5" r="2.8" fill="rgb(189, 216, 229)" stroke="rgb(117, 133, 141)" stroke-width="1"/>
<circle cx="1533.8" cy="1438.0" r="2.8" fill="rgb(191, 217, 230)" stroke="rgb(118, 134, 142)" stroke-width="1"/>
<circle cx="1601.3" cy="1490.5" r="2.8" fill="rgb(194, 218, 230)" stroke="rgb(120, 135, 142)" stroke-width="1"/>
<circle cx="1610.6" cy="1476.2" r="2.8" fill="rgb(195, 218, 230)" stroke="rgb(120, 135, 142)" stroke-width="1"/>
<circle cx="1620.6" cy="1433.4" r="2.8" fill="rgb(195, 218, 230)" stroke="rgb(120, 135, 142)" stroke-width="1"/>
<circle cx="1561.1" cy="1451.5" r="2.8" fill="rgb(197, 219, 230)" stroke="rgb(122, 135, 142)" stroke-width="1"/>
<circle cx="1555.2" cy="1471.1" r="2.8" fill="rgb(197, 219, 230)" stroke="rgb(122, 135, 142)" stroke-width="1"/>
<circle cx="1607.9" cy="1458.2" r="2.8" fill="rgb(197, 219, 230)" stroke="rgb(122, 135, 142)" stroke-width="1"/>
<circle cx="1541.8" cy="1460.4" r="2.8" fill="rgb(198, 219, 231)" stroke="rgb(122, 135, 143)" stroke-width="1"/>
<circle cx="1525.6" cy="1468.0" r="2.8" fill="rgb(198, 220, 231)" stroke="rgb(122, 136, 143)" stroke-width="1"/>
<circle cx="1623.4" cy="1488.5" r="2.8" fill="rgb(199, 220, 231)" stroke="rgb(123, 136, 143)" stroke-width="1"/>
<circle cx="1635.4" cy="1431.2" r="2.8" fill="rgb(199, 220, 231)" stroke="rgb(123, 136, 143)" stroke-width="1"/>
<circle cx="1651.4" cy="1435.4" r="2.8" fill="rgb(199, 220, 231)" stroke="rgb(123, 136, 143)" stroke-width="1"/>
<circle cx="1625.6" cy="1420.5" r="2.8" fill="rgb(199, 220, 231)" stroke="rgb(123, 136, 143)" stroke-width="1"/>
<circle cx="1620.6" cy="1486.2" r="2.8" fill="rgb(199, 220, 231)" stroke="rgb(123, 136, 143)" stroke-width="1"/>
<circle cx="1581.3" cy="1446.8" r="2.8" fill="rgb(201, 221, 231)" stroke="rgb(124, 137, 143)" stroke-width="1"/>
<circle cx="1567.7" cy="1456.2" r="2.8" fill="rgb(203, 222, 231)" stroke="rgb(125, 137, 143)" stroke-width="1"/>
<circle cx="1625.0" cy="1399.4" r="2.8" fill="rgb(203, 222, 231)" stroke="rgb(125, 137, 143)" stroke-width="1"/>
<circle cx="1658.4" cy="1428.7" r="2.8" fill="rgb(203, 222, 231)" stroke="rgb(125, 137, 143)" stroke-width="1"/>
<circle cx="1616.3" cy="1406.7" r="2.8" fill="rgb(203, 222, 231)" stroke="rgb(125, 137, 143)" stroke-width="1"/>
<circle cx="1627.0" cy="1380.0" r="2.8" fill="rgb(204, 222, 231)" stroke="rgb(126, 137, 143)" stroke-width="1"/>
<circle cx="1630.8" cy="1433.8" r="2.8" fill="rgb(204, 222, 231)" stroke="rgb(126, 137, 143)" stroke-width="1"/>
<circle cx="1639.3" cy="1396.1" r="2.8" fill="rgb(204, 222, 231)" stroke="rgb(126, 137, 143)" stroke-width="1"/>
<circle cx="1639.4" cy="1455.8" r="2.8" fill="rgb(206, 223, 232)" stroke="rgb(127, 138, 143)" stroke-width="1"/>
<circle cx="1576.1" cy="1477.6" r="2.8" fill="rgb(207, 223, 232)" stroke="rgb(128, 138, 143)" stroke-width="1"/>
<circle cx="1638.1" cy="1397.6" r="2.8" fill="rgb(208, 224, 232)" stroke="rgb(128, 138, 143)" stroke-width="1"/>
<circle cx="1607.9" cy="1455.5" r="2.8" fill="rgb(208, 224, 232)" stroke="rgb(128, 138, 143)" stroke-width="1"/>
<circle cx="1629.5" cy="1474.7" r="2.8" fill="rgb(209, 224, 232)" stroke="rgb(129, 138, 143)" stroke-width="1"/>
<circle cx="1628.4" cy="1413.3" r="2.8" fill="rgb(209, 224, 232)" stroke="rgb(129, 138, 143)" stroke-width="1"/>
<circle cx="1575.9" cy="1455.0" r="2.8" fill="rgb(210, 225, 232)" stroke="rgb(130, 139, 143)" stroke-width="1"/>
<circle cx="1655.4" cy="1449.1" r="2.8" fill="rgb(212, 225, 232)" stroke="rgb(131, 139, 143)" stroke-width="1"/>
<circle cx="1662.2" cy="1440.3" r="2.8" fill="rgb(213, 226, 233)" stroke="rgb(132, 140, 144)" stroke-width="1"/>
<circle cx="1650.6" cy="1454.6" r="2.8" fill="rgb(213, 226, 233)" stroke="rgb(132, 140, 144)" stroke-width="1"/>
<circle cx="1613.5" cy="1436.0" r="2.8" fill="rgb(213, 226, 233)" stroke="rgb(132, 140, 144)" stroke-width="1"/>
<circle cx="1589.1" cy="1449.1" r="2.8" fill="rgb(214, 226, 233)" stroke="rgb(132, 140, 144)" stroke-width="1"/>
<circle cx="1626.7" cy="1458.7" r="2.8" fill="rgb(214, 226, 233)" stroke="rgb(132, 140, 144)" stroke-width="1"/>
<circle cx="1553.7" cy="1468.0" r="2.8" fill="rgb(214, 227, 233)" stroke="rgb(132, 140, 144)" stroke-width="1"/>
<circle cx="1567.0" cy="1435.8" r="2.8" fill="rgb(215, 227, 233)" stroke="rgb(133, 140, 144)" stroke-width="1"/>
<circle cx="1614.3" cy="1439.6" r="2.8" fill="rgb(215, 227, 233)" stroke="rgb(133, 140, 144)" stroke-width="1"/>
<circle cx="1650.4" cy="1450.7" r="2.8" fill="rgb(216, 227, 233)" stroke="rgb(133, 140, 144)" stroke-width="1"/>
<circle cx="1600.8" cy="1443.0" r="2.8" fill="rgb(216, 227, 233)" stroke="rgb(133, 140, 144)" stroke-width="1"/>
<circle cx="1533.5" cy="1472.3" r="2.8" fill="rgb(219, 228, 233)" stroke="rgb(135, 141, 144)" stroke-width="1"/>
<circle cx="1576.6" cy="1484.2" r="2.8" fill="rgb(219, 229, 233)" stroke="rgb(135, 141, 144)" stroke-width="1"/>
<circle cx="1615.3" cy="1473.9" r="2.8" fill="rgb(221, 229, 234)" stroke="rgb(137, 141, 145)" stroke-width="1"/>
<circle cx="1640.4" cy="1463.9" r="2.8" fill="rgb(221, 229, 234)" stroke="rgb(137, 141, 145)" stroke-width="1"/>
<circle cx="1556.6" cy="1464.9" r="2.8" fill="rgb(223, 230, 234)" stroke="rgb(138, 142, 145)" stroke-width="1"/>
<circle cx="1652.0" cy="1466.2" r="2.8" fill="rgb(225, 231, 234)" stroke="rgb(139, 143, 145)" stroke-width="1"/>
<circle cx="1652.5" cy="1387.3" r="2.8" fill="rgb(228, 232, 235)" stroke="rgb(141, 143, 145)" stroke-width="1"/>
<circle cx="1648.7" cy="1391.4" r="2.8" fill="rgb(230, 233, 235)" stroke="rgb(142, 144, 145)" stroke-width="1"/>
<circle cx="1656.0" cy="1437.1" r="2.8" fill="rgb(231, 233, 235)" stroke="rgb(143, 144, 145)" stroke-width="1"/>
<circle cx="1622.3" cy="1432.0" r="2.8" fill="rgb(231, 234, 235)" stroke="rgb(143, 145, 145)" stroke-width="1"/>
<circle cx="1550.6" cy="1472.1" r="2.8" fill="rgb(231, 234, 235)" stroke="rgb(143, 145, 145)" stroke-width="1"/>
<circle cx="1617.8" cy="1492.2" r="2.8" fill="rgb(232, 234, 235)" stroke="rgb(143, 145, 145)" stroke-width="1"/>
<circle cx="1635.4" cy="1382.5" r="2.8" fill="rgb(232, 234, 235)" stroke="rgb(143, 145, 145)" stroke-width="1"/>
<circle cx="1626.3" cy="1471.9" r="2.8" fill="rgb(233, 234, 235)" stroke="rgb(144, 145, 145)" stroke-width="1"/>
<circle cx="1628.6" cy="1447.1" r="2.8" fill="rgb(233, 235, 235)" stroke="rgb(144, 145, 145)" stroke-width="1"/>
<circle cx="1587.8" cy="1443.5" r="2.8" fill="rgb(234, 235, 235)" stroke="rgb(145, 145, 145)" stroke-width="1"/>
<circle cx="1619.0" cy="1449.6" r="2.8" fill="rgb(235, 235, 235)" stroke="rgb(145, 145, 145)" stroke-width="1"/>
<circle cx="1633.8" cy="1496.8" r="2.8" fill="rgb(235, 235, 235)" stroke="rgb(145, 145, 145)" stroke-width="1"/>
<circle cx="1611.9" cy="1428.6" r="2.8" fill="rgb(235, 235, 235)" stroke="rgb(145, 145, 145)" stroke-width="1"/>
<circle cx="1591.4" cy="1438.7" r="2.8" fill="rgb(235, 235, 235)" stroke="rgb(145, 145, 145)" stroke-width="1"/>
<circle cx="1617.8" cy="1489.0" r="2.8" fill="rgb(236, 235, 235)" stroke="rgb(146, 145, 145)" stroke-width="1"/>
<circle cx="1625.0" cy="1458.7" r="2.8" fill="rgb(236, 235, 234)" stroke="rgb(146, 145, 145)" stroke-width="1"/>
<circle cx="1571.3" cy="1433.8" r="2.8" fill="rgb(236, 234, 234)" stroke="rgb(146, 145, 145)" stroke-width="1"/>
<circle cx="1647.5" cy="1483.5" r="2.8" fill="rgb(236, 234, 234)" stroke="rgb(146, 145, 145)" stroke-width="1"/>
<circle cx="1559.8" cy="1446.7" r="2.8" fill="rgb(236, 233, 233)" stroke="rgb(146, 144, 144)" stroke-width="1"/>
<circle cx="1628.2" cy="1465.3" r="2.8" fill="rgb(236, 233, 233)" stroke="rgb(146, 144, 144)" stroke-width="1"/>
<circle cx="1575.7" cy="1427.8" r="2.8" fill="rgb(236, 233, 232)" stroke="rgb(146, 144, 143)" stroke-width="1"/>
<circle cx="1642.4" cy="1381.8" r="2.8" fill="rgb(236, 231, 230)" stroke="rgb(146, 143, 142)" stroke-width="1"/>
<circle cx="1612.7" cy="1491.1" r="2.8" fill="rgb(236, 231, 230)" stroke="rgb(146, 143, 142)" stroke-width="1"/>
<circle cx="1618.3" cy="1437.2" r="2.8" fill="rgb(236, 230, 228)" stroke="rgb(146, 142, 141)" stroke-width="1"/>
<circle cx="1621.1" cy="1466.5" r="2.8" fill="rgb(236, 228, 226)" stroke="rgb(146, 141, 140)" stroke-width="1"/>
<circle cx="1580.2" cy="1452.9" r="2.8" fill="rgb(237, 227, 225)" stroke="rgb(146, 140, 139)" stroke-width="1"/>
<circle cx="1624.4" cy="1485.9" r="2.8" fill="rgb(237, 227, 225)" stroke="rgb(146, 140, 139)" stroke-width="1"/>
<circle cx="1628.1" cy="1477.9" r="2.8" fill="rgb(237, 226, 224)" stroke="rgb(146, 140, 138)" stroke-width="1"/>
<circle cx="1549.2" cy="1459.4" r="2.8" fill="rgb(237, 226, 224)" stroke="rgb(146, 140, 138)" stroke-width="1"/>
<circle cx="1632.0" cy="1487.0" r="2.8" fill="rgb(237, 226, 224)" stroke="rgb(146, 140, 138)" stroke-width="1"/>
<circle cx="1595.7" cy="1477.7" r="2.8" fill="rgb(237, 225, 223)" stroke="rgb(146, 139, 138)" stroke-width="1"/>
<circle cx="1648.1" cy="1462.0" r="2.8" fill="rgb(237, 224, 221)" stroke="rgb(146, 138, 137)" stroke-width="1"/>
<circle cx="1624.9" cy="1427.4" r="2.8" fill="rgb(237, 223, 220)" stroke="rgb(146, 138, 136)" stroke-width="1"/>
<circle cx="1552.5" cy="1463.1" r="2.8" fill="rgb(239, 203, 196)" stroke="rgb(148, 125, 121)" stroke-width="1"/>
<circle cx="1579.6" cy="1435.1" r="2.8" fill="rgb(239, 203, 196)" stroke="rgb(148, 125, 121)" stroke-width="1"/>
<circle cx="1587.5" cy="1456.8" r="2.8" fill="rgb(239, 202, 195)" stroke="rgb(148, 125, 120)" stroke-width="1"/>
<circle cx="1587.0" cy="1437.7" r="2.8" fill="rgb(239, 202, 195)" stroke="rgb(148, 125, 120)" stroke-width="1"/>
<circle cx="1588.2" cy="1454.6" r="2.8" fill="rgb(239, 202, 195)" stroke="rgb(148, 125, 120)" stroke-width="1"/>
<circle cx="1596.0" cy="1439.5" r="2.8" fill="rgb(239, 202, 194)" stroke="rgb(148, 125, 120)" stroke-width="1"/>
<circle cx="1548.5" cy="1461.0" r="2.8" fill="rgb(238, 200, 191)" stroke="rgb(147, 124, 118)" stroke-width="1"/>
<circle cx="1591.6" cy="1455.1" r="2.8" fill="rgb(238, 199, 191)" stroke="rgb(147, 123, 118)" stroke-width="1"/>
<circle cx="1594.8" cy="1449.5" r="2.8" fill="rgb(238, 198, 190)" stroke="rgb(147, 122, 117)" stroke-width="1"/>
<circle cx="1564.5" cy="1452.6" r="2.8" fill="rgb(237, 195, 186)" stroke="rgb(146, 120, 115)" stroke-width="1"/>
<circle cx="1620.8" cy="1415.7" r="2.8" fill="rgb(237, 195, 185)" stroke="rgb(146, 120, 114)" stroke-width="1"/>
<circle cx="1636.5" cy="1417.6" r="2.8" fill="rgb(237, 195, 185)" stroke="rgb(146, 120, 114)" stroke-width="1"/>
<circle cx="1576.3" cy="1462.1" r="2.8" fill="rgb(237, 194, 184)" stroke="rgb(146, 120, 114)" stroke-width="1"/>
<circle cx="1586.1" cy="1454.9" r="2.8" fill="rgb(237, 193, 183)" stroke="rgb(146, 119, 113)" stroke-width="1"/>
<circle cx="1612.8" cy="1486.1" r="2.8" fill="rgb(237, 193, 183)" stroke="rgb(146, 119, 113)" stroke-width="1"/>
<circle cx="1627.2" cy="1411.2" r="2.8" fill="rgb(237, 192, 182)" stroke="rgb(146, 119, 112)" stroke-width="1"/>
<circle cx="1610.0" cy="1484.9" r="2.8" fill="rgb(237, 191, 181)" stroke="rgb(146, 118, 112)" stroke-width="1"/>
<circle cx="1591.3" cy="1450.1" r="2.8" fill="rgb(236, 189, 178)" stroke="rgb(146, 117, 110)" stroke-width="1"/>
<circle cx="1560.1" cy="1457.2" r="2.8" fill="rgb(236, 189, 178)" stroke="rgb(146, 117, 110)" stroke-width="1"/>
<circle cx="1579.5" cy="1449.2" r="2.8" fill="rgb(236, 189, 178)" stroke="rgb(146, 117, 110)" stroke-width="1"/>
<circle cx="1559.4" cy="1449.2" r="2.8" fill="rgb(236, 188, 177)" stroke="rgb(146, 116, 109)" stroke-width="1"/>
<circle cx="1630.6" cy="1402.1" r="2.8" fill="rgb(236, 187, 175)" stroke="rgb(146, 115, 108)" stroke-width="1"/>
<circle cx="1601.3" cy="1436.1" r="2.8" fill="rgb(236, 186, 174)" stroke="rgb(146, 115, 107)" stroke-width="1"/>
<circle cx="1607.8" cy="1433.9" r="2.8" fill="rgb(235, 185, 174)" stroke="rgb(145, 114, 107)" stroke-width="1"/>
<circle cx="1639.4" cy="1396.4" r="2.8" fill="rgb(235, 185, 173)" stroke="rgb(145, 114, 107)" stroke-width="1"/>
<circle cx="1576.0" cy="1448.0" r="2.8" fill="rgb(235, 185, 173)" stroke="rgb(145, 114, 107)" stroke-width="1"/>
<circle cx="1618.0" cy="1458.9" r="2.8" fill="rgb(235, 182, 169)" stroke="rgb(145, 112, 104)" stroke-width="1"/>
<circle cx="1594.7" cy="1445.9" r="2.8" fill="rgb(234, 180, 167)" stroke="rgb(145, 111, 103)" stroke-width="1"/>
<circle cx="1554.4" cy="1472.2" r="2.8" fill="rgb(234, 180, 167)" stroke="rgb(145, 111, 103)" stroke-width="1"/>
<circle cx="1631.4" cy="1463.4" r="2.8" fill="rgb(234, 179, 166)" stroke="rgb(145, 110, 102)" stroke-width="1"/>
<circle cx="1640.9" cy="1462.4" r="2.8" fill="rgb(234, 178, 164)" stroke="rgb(145, 110, 101)" stroke-width="1"/>
<circle cx="1605.0" cy="1470.8" r="2.8" fill="rgb(234, 177, 163)" stroke="rgb(145, 109, 101)" stroke-width="1"/>
<circle cx="1555.9" cy="1458.3" r="2.8" fill="rgb(234, 177, 163)" stroke="rgb(145, 109, 101)" stroke-width="1"/>
<circle cx="1633.3" cy="1452.9" r="2.8" fill="rgb(233, 176, 161)" stroke="rgb(144, 109, 99)" stroke-width="1"/>
<circle cx="1548.9" cy="1463.7" r="2.8" fill="rgb(233, 175, 161)" stroke="rgb(144, 108, 99)" stroke-width="1"/>
<circle cx="1580.5" cy="1446.6" r="2.8" fill="rgb(233, 175, 160)" stroke="rgb(144, 108, 99)" stroke-width="1"/>
<circle cx="1641.4" cy="1455.8" r="2.8" fill="rgb(233, 174, 159)" stroke="rgb(144, 107, 98)" stroke-width="1"/>
<circle cx="1624.6" cy="1425.9" r="2.8" fill="rgb(233, 172, 157)" stroke="rgb(144, 106, 97)" stroke-width="1"/>
<circle cx="1540.6" cy="1462.6" r="2.8" fill="rgb(232, 172, 156)" stroke="rgb(143, 106, 96)" stroke-width="1"/>
<circle cx="1632.3" cy="1412.8" r="2.8" fill="rgb(232, 170, 155)" stroke="rgb(143, 105, 96)" stroke-width="1"/>
<circle cx="1557.0" cy="1467.2" r="2.8" fill="rgb(232, 170, 154)" stroke="rgb(143, 105, 95)" stroke-width="1"/>
<circle cx="1619.8" cy="1464.2" r="2.8" fill="rgb(232, 170, 154)" stroke="rgb(143, 105, 95)" stroke-width="1"/>
<circle cx="1621.8" cy="1455.1" r="2.8" fill="rgb(232, 169, 153)" stroke="rgb(143, 104, 94)" stroke-width="1"/>
<circle cx="1629.0" cy="1467.5" r="2.8" fill="rgb(232, 168, 152)" stroke="rgb(143, 104, 94)" stroke-width="1"/>
<circle cx="1586.7" cy="1432.2" r="2.8" fill="rgb(232, 168, 152)" stroke="rgb(143, 104, 94)" stroke-width="1"/>
<circle cx="1544.7" cy="1471.6" r="2.8" fill="rgb(232, 168, 152)" stroke="rgb(143, 104, 94)" stroke-width="1"/>
<circle cx="1636.5" cy="1410.7" r="2.8" fill="rgb(231, 166, 150)" stroke="rgb(143, 102, 93)" stroke-width="1"/>
<circle cx="1622.5" cy="1458.5" r="2.8" fill="rgb(231, 166, 149)" stroke="rgb(143, 102, 92)" stroke-width="1"/>
<circle cx="1633.4" cy="1459.5" r="2.8" fill="rgb(231, 166, 149)" stroke="rgb(143, 102, 92)" stroke-width="1"/>
<circle cx="1622.1" cy="1418.8" r="2.8" fill="rgb(231, 165, 148)" stroke="rgb(143, 102, 91)" stroke-width="1"/>
<circle cx="1600.6" cy="1439.4" r="2.8" fill="rgb(231, 164, 147)" stroke="rgb(143, 101, 91)" stroke-width="1"/>
<circle cx="1575.4" cy="1446.2" r="2.8" fill="rgb(230, 162, 144)" stroke="rgb(142, 100, 89)" stroke-width="1"/>
<circle cx="1545.4" cy="1474.0" r="2.8" fill="rgb(230, 162, 144)" stroke="rgb(142, 100, 89)" stroke-width="1"/>
<circle cx="1583.7" cy="1439.6" r="2.8" fill="rgb(230, 161, 143)" stroke="rgb(142, 99, 88)" stroke-width="1"/>
<circle cx="1567.1" cy="1455.6" r="2.8" fill="rgb(229, 157, 138)" stroke="rgb(141, 97, 85)" stroke-width="1"/>
<circle cx="1550.5" cy="1465.9" r="2.8" fill="rgb(229, 156, 137)" stroke="rgb(141, 96, 84)" stroke-width="1"/>
<circle cx="1549.2" cy="1463.1" r="2.8" fill="rgb(229, 156, 136)" stroke="rgb(141, 96, 84)" stroke-width="1"/>
<circle cx="1566.3" cy="1461.3" r="2.8" fill="rgb(229, 154, 135)" stroke="rgb(141, 95, 83)" stroke-width="1"/>
<circle cx="1605.2" cy="1472.3" r="2.8" fill="rgb(229, 154, 134)" stroke="rgb(141, 95, 83)" stroke-width="1"/>
<circle cx="1591.6" cy="1457.0" r="2.8" fill="rgb(228, 152, 132)" stroke="rgb(141, 94, 81)" stroke-width="1"/>
<circle cx="1637.9" cy="1457.6" r="2.8" fill="rgb(228, 152, 131)" stroke="rgb(141, 94, 81)" stroke-width="1"/>
<circle cx="1574.1" cy="1452.7" r="2.8" fill="rgb(228, 151, 131)" stroke="rgb(141, 93, 81)" stroke-width="1"/>
<circle cx="1599.0" cy="1432.1" r="2.8" fill="rgb(228, 150, 129)" stroke="rgb(141, 93, 79)" stroke-width="1"/>
<circle cx="1631.8" cy="1400.8" r="2.8" fill="rgb(227, 147, 126)" stroke="rgb(140, 91, 78)" stroke-width="1"/>
<circle cx="1621.6" cy="1476.6" r="2.8" fill="rgb(227, 146, 124)" stroke="rgb(140, 90, 76)" stroke-width="1"/>
<circle cx="1615.3" cy="1427.4" r="2.8" fill="rgb(227, 145, 123)" stroke="rgb(140, 89, 76)" stroke-width="1"/>
<circle cx="1616.9" cy="1426.6" r="2.8" fill="rgb(227, 145, 122)" stroke="rgb(140, 89, 75)" stroke-width="1"/>
<circle cx="1554.9" cy="1457.6" r="2.8" fill="rgb(227, 145, 122)" stroke="rgb(140, 89, 75)" stroke-width="1"/>
<circle cx="1598.1" cy="1435.4" r="2.8" fill="rgb(227, 145, 122)" stroke="rgb(140, 89, 75)" stroke-width="1"/>
<circle cx="1585.6" cy="1451.3" r="2.8" fill="rgb(227, 144, 122)" stroke="rgb(140, 89, 75)" stroke-width="1"/>
<circle cx="1578.7" cy="1435.6" r="2.8" fill="rgb(226, 143, 120)" stroke="rgb(140, 88, 74)" stroke-width="1"/>
<circle cx="1592.0" cy="1448.2" r="2.8" fill="rgb(226, 141, 118)" stroke="rgb(140, 87, 73)" stroke-width="1"/>
<circle cx="1570.0" cy="1446.7" r="2.8" fill="rgb(226, 141, 118)" stroke="rgb(140, 87, 73)" stroke-width="1"/>
<circle cx="1594.9" cy="1445.4" r="2.8" fill="rgb(226, 141, 117)" stroke="rgb(140, 87, 72)" stroke-width="1"/>
<circle cx="1634.6" cy="1430.1" r="2.8" fill="rgb(226, 141, 117)" stroke="rgb(140, 87, 72)" stroke-width="1"/>
<circle cx="1542.6" cy="1460.1" r="2.8" fill="rgb(225, 139, 115)" stroke="rgb(139, 86, 71)" stroke-width="1"/>
<circle cx="1602.7" cy="1468.5" r="2.8" fill="rgb(225, 138, 113)" stroke="rgb(139, 85, 70)" stroke-width="1"/>
<circle cx="1590.1" cy="1432.1" r="2.8" fill="rgb(225, 137, 113)" stroke="rgb(139, 84, 70)" stroke-width="1"/>
<circle cx="1577.0" cy="1445.0" r="2.8" fill="rgb(225, 136, 112)" stroke="rgb(139, 84, 69)" stroke-width="1"/>
<circle cx="1630.5" cy="1396.4" r="2.8" fill="rgb(225, 136, 112)" stroke="rgb(139, 84, 69)" stroke-width="1"/>
<circle cx="1620.5" cy="1424.0" r="2.8" fill="rgb(225, 136, 111)" stroke="rgb(139, 84, 68)" stroke-width="1"/>
<circle cx="1611.8" cy="1469.3" r="2.8" fill="rgb(225, 136, 111)" stroke="rgb(139, 84, 68)" stroke-width="1"/>
<circle cx="1622.3" cy="1418.7" r="2.8" fill="rgb(225, 136, 111)" stroke="rgb(139, 84, 68)" stroke-width="1"/>
<circle cx="1609.9" cy="1426.7" r="2.8" fill="rgb(225, 135, 111)" stroke="rgb(139, 83, 68)" stroke-width="1"/>
<circle cx="1640.9" cy="1411.7" r="2.8" fill="rgb(225, 135, 110)" stroke="rgb(139, 83, 68)" stroke-width="1"/>
<circle cx="1619.9" cy="1425.2" r="2.8" fill="rgb(203, 87, 47)" stroke="rgb(125, 53, 29)" stroke-width="1"/>
<circle cx="1585.5" cy="1450.4" r="2.8" fill="rgb(203, 87, 46)" stroke="rgb(125, 53, 28)" stroke-width="1"/>
<circle cx="1622.4" cy="1427.9" r="2.8" fill="rgb(203, 87, 46)" stroke="rgb(125, 53, 28)" stroke-width="1"/>
<circle cx="1595.1" cy="1442.0" r="2.8" fill="rgb(202, 86, 44)" stroke="rgb(125, 53, 27)" stroke-width="1"/>
<circle cx="1595.1" cy="1444.9" r="2.8" fill="rgb(200, 83, 41)" stroke="rgb(124, 51, 25)" stroke-width="1"/>
<circle cx="1556.2" cy="1456.3" r="2.8" fill="rgb(200, 83, 41)" stroke="rgb(124, 51, 25)" stroke-width="1"/>
<circle cx="1557.2" cy="1455.0" r="2.8" fill="rgb(200, 83, 41)" stroke="rgb(124, 51, 25)" stroke-width="1"/>
<circle cx="1627.9" cy="1418.1" r="2.8" fill="rgb(199, 81, 39)" stroke="rgb(123, 50, 24)" stroke-width="1"/>
<circle cx="1623.1" cy="1419.2" r="2.8" fill="rgb(199, 81, 38)" stroke="rgb(123, 50, 23)" stroke-width="1"/>
<circle cx="1622.6" cy="1421.1" r="2.8" fill="rgb(199, 81, 38)" stroke="rgb(123, 50, 23)" stroke-width="1"/>
<circle cx="1628.0" cy="1418.2" r="2.8" fill="rgb(198, 80, 37)" stroke="rgb(122, 49, 22)" stroke-width="1"/>
<circle cx="1555.9" cy="1453.4" r="2.8" fill="rgb(198, 80, 37)" stroke="rgb(122, 49, 22)" stroke-width="1"/>
<circle cx="1583.4" cy="1447.0" r="2.8" fill="rgb(198, 80, 37)" stroke="rgb(122, 49, 22)" stroke-width="1"/>
<circle cx="1593.7" cy="1447.3" r="2.8" fill="rgb(197, 78, 35)" stroke="rgb(122, 48, 21)" stroke-width="1"/>
<circle cx="1622.4" cy="1425.7" r="2.8" fill="rgb(197, 78, 34)" stroke="rgb(122, 48, 21)" stroke-width="1"/>
<circle cx="1623.4" cy="1430.5" r="2.8" fill="rgb(196, 77, 33)" stroke="rgb(121, 47, 20)" stroke-width="1"/>
<circle cx="1562.7" cy="1459.5" r="2.8" fill="rgb(196, 76, 32)" stroke="rgb(121, 47, 19)" stroke-width="1"/>
<circle cx="1552.8" cy="1458.2" r="2.8" fill="rgb(196, 76, 32)" stroke="rgb(121, 47, 19)" stroke-width="1"/>
<circle cx="1583.7" cy="1444.9" r="2.8" fill="rgb(195, 76, 31)" stroke="rgb(120, 47, 19)" stroke-width="1"/>
<circle cx="1583.2" cy="1449.3" r="2.8" fill="rgb(195, 75, 30)" stroke="rgb(120, 46, 18)" stroke-width="1"/>
<circle cx="1554.4" cy="1467.4" r="2.8" fill="rgb(195, 75, 30)" stroke="rgb(120, 46, 18)" stroke-width="1"/>
<circle cx="1586.9" cy="1448.7" r="2.8" fill="rgb(193, 72, 26)" stroke="rgb(119, 44, 16)" stroke-width="1"/>
<circle cx="1624.7" cy="1423.9" r="2.8" fill="rgb(193, 72, 26)" stroke="rgb(119, 44, 16)" stroke-width="1"/>
<circle cx="1592.8" cy="1444.9" r="2.8" fill="rgb(192, 70, 24)" stroke="rgb(119, 43, 14)" stroke-width="1"/>
<circle cx="1629.7" cy="1412.9" r="2.8" fill="rgb(192, 70, 24)" stroke="rgb(119, 43, 14)" stroke-width="1"/>
<circle cx="1634.0" cy="1414.3" r="2.8" fill="rgb(190, 68, 21)" stroke="rgb(117, 42, 13)" stroke-width="1"/>
<circle cx="1633.3" cy="1414.5" r="2.8" fill="rgb(190, 68, 21)" stroke="rgb(117, 42, 13)" stroke-width="1"/>
<circle cx="1623.6" cy="1413.3" r="2.8" fill="rgb(190, 68, 20)" stroke="rgb(117, 42, 12)" stroke-width="1"/>
<circle cx="1619.1" cy="1412.7" r="2.8" fill="rgb(189, 66, 18)" stroke="rgb(117, 40, 11)" stroke-width="1"/>
<circle cx="1631.0" cy="1401.4" r="2.8" fill="rgb(188, 64, 16)" stroke="rgb(116, 39, 9)" stroke-width="1"/>
<circle cx="1626.6" cy="1409.9" r="2.8" fill="rgb(188, 64, 16)" stroke="rgb(116, 39, 9)" stroke-width="1"/>
<circle cx="1638.8" cy="1402.7" r="2.8" fill="rgb(187, 64, 15)" stroke="rgb(115, 39, 9)" stroke-width="1"/>
<circle cx="1631.8" cy="1415.0" r="2.8" fill="rgb(187, 63, 14)" stroke="rgb(115, 39, 8)" stroke-width="1"/>
<circle cx="1645.1" cy="1416.5" r="2.8" fill="rgb(187, 63, 14)" stroke="rgb(115, 39, 8)" stroke-width="1"/>
<circle cx="1625.6" cy="1402.1" r="2.8" fill="rgb(187, 63, 14)" stroke="rgb(115, 39, 8)" stroke-width="1"/>
<circle cx="1623.3" cy="1419.8" r="2.8" fill="rgb(186, 62, 13)" stroke="rgb(115, 38, 8)" stroke-width="1"/>
<circle cx="1584.5" cy="1446.6" r="2.8" fill="rgb(185, 60, 10)" stroke="rgb(114, 37, 6)" stroke-width="1"/>
<circle cx="1626.6" cy="1421.3" r="2.8" fill="rgb(185, 60, 10)" stroke="rgb(114, 37, 6)" stroke-width="1"/>
<g >
<polygon points="359.63,1833.78 497.52,1883.73 561.39,1824.26 561.39,1830.66 497.52,1890.14 359.63,1840.18" fill="#4f6e76" opacity="1" stroke-linejoin="round"/>
<polygon points="423.50,1774.30 561.39,1824.26 497.52,1883.73 359.63,1833.78" fill="#5d8088"/>
<polygon points="425.12,1782.25 551.40,1828.00 496.57,1879.06 370.29,1833.31" fill="#d1e3d9" stroke="#d1e3d9" stroke-width="0.4"/>
</g>
<text x="0" y="0" font-size="31.11" fill="#107a3e" stroke="#107a3e" stroke-width="0.9" transform="matrix(0.9402 0.3406 -0.7318 0.6815 423.33 1807.85)" textLength="91.5" lengthAdjust="spacingAndGlyphs">Nrxn1</text>
<g >
<polygon points="362.74,1902.67 501.92,1951.99 564.59,1893.89 564.59,1901.21 501.92,1959.31 362.74,1909.99" fill="#7d585c" opacity="1" stroke-linejoin="round"/>
<path d="M425.42,1844.57 L564.59,1893.89 L501.92,1951.99 L362.74,1902.67 Z M427.05,1852.46 L555.87,1898.11 L501.25,1948.75 L372.42,1903.10 Z" fill="#640000" fill-rule="evenodd" opacity="0.57"/>
<polygon points="427.05,1852.46 555.87,1898.11 501.25,1948.75 372.42,1903.10" fill="#f5757b" opacity="0.3" stroke="#f5757b" stroke-width="0.5" stroke-opacity="0.5"/>
</g>
<text x="0" y="0" font-size="35.6" fill="#e8232e" stroke="#e8232e" stroke-width="0.9" transform="matrix(0.9426 0.3340 -0.7334 0.6798 381.95 1905.28)" textLength="124.6" lengthAdjust="spacingAndGlyphs">PSD-95</text>
<circle cx="497.5" cy="1906.8" r="11.5" fill="none" stroke="#9a9a9a" stroke-width="0.7" opacity="0.9"/>
<circle cx="497.5" cy="1906.8" r="9.5" fill="none" stroke="#9a9a9a" stroke-width="0.7" opacity="0.9"/>
<circle cx="497.5" cy="1906.8" r="7.5" fill="none" stroke="#9a9a9a" stroke-width="0.7" opacity="0.9"/>
<circle cx="497.5" cy="1906.8" r="5.5" fill="none" stroke="#9a9a9a" stroke-width="0.7" opacity="0.9"/>
<circle cx="497.5" cy="1906.8" r="3.5" fill="none" stroke="#9a9a9a" stroke-width="0.7" opacity="0.9"/>
<circle cx="497.5" cy="1906.8" r="1.5" fill="none" stroke="#9a9a9a" stroke-width="0.7" opacity="0.9"/>
<circle cx="497.5" cy="1906.8" r="12" fill="#ffffff" opacity="0.25"/>
<line x1="498.10" y1="1856.00" x2="498.10" y2="1906.80" stroke="#000" stroke-width="1.3" />
<line x1="497.50" y1="1906.80" x2="478.09" y2="1898.47" stroke="#000" stroke-width="0.9" />
<polygon points="473.50,1896.50 482.11,1896.71 478.09,1898.47 479.59,1902.60" fill="#000"/>
<circle cx="498.10" cy="1848.50" r="9.40" fill="url(#sph)"/>
<text x="72.20" y="1722.10" font-size="30.7" font-weight="bold">PSD-95 – Nrxn1 SSD Enrichment</text>
<polygon points="172.10,1918.60 269.70,1938.20 367.30,1976.40 464.90,2009.60 562.50,2032.90 562.50,2050.70 464.90,2027.50 367.30,2001.40 269.70,1969.30 172.10,1970.40" fill="#c2e7c6"/>
<polyline points="172.10,1944.30 269.70,1954.30 367.30,1988.20 464.90,2018.60 562.50,2041.10" fill="none" stroke="#1fae3a" stroke-width="3"/>
<line x1="148.00" y1="2065.70" x2="557.50" y2="2065.70" stroke="#000" stroke-width="5.6" stroke-dasharray="0 8.32" stroke-linecap="round"/>
<line x1="147.50" y1="1775.70" x2="147.50" y2="2091.80" stroke="#000000" stroke-width="2.8" />
<line x1="135.20" y1="2065.70" x2="147.50" y2="2065.70" stroke="#000000" stroke-width="2.8" />
<text x="135.00" y="2076.20" font-size="30.7" text-anchor="end">1.0</text>
<line x1="135.20" y1="1975.85" x2="147.50" y2="1975.85" stroke="#000000" stroke-width="2.8" />
<text x="135.00" y="1986.35" font-size="30.7" text-anchor="end">1.5</text>
<line x1="135.20" y1="1886.00" x2="147.50" y2="1886.00" stroke="#000000" stroke-width="2.8" />
<text x="135.00" y="1896.50" font-size="30.7" text-anchor="end">2.0</text>
<line x1="135.20" y1="1796.15" x2="147.50" y2="1796.15" stroke="#000000" stroke-width="2.8" />
<text x="135.00" y="1806.65" font-size="30.7" text-anchor="end">2.5</text>
<line x1="154.30" y1="2101.40" x2="563.20" y2="2101.40" stroke="#000000" stroke-width="2.8" />
<line x1="172.10" y1="2101.40" x2="172.10" y2="2115.00" stroke="#000000" stroke-width="2.8" />
<text x="0" y="0" font-size="30.7" text-anchor="end" transform="translate(186.64 2133.40) rotate(-45)">20</text>
<line x1="220.90" y1="2101.40" x2="220.90" y2="2115.00" stroke="#000000" stroke-width="2.8" />
<line x1="269.70" y1="2101.40" x2="269.70" y2="2115.00" stroke="#000000" stroke-width="2.8" />
<text x="0" y="0" font-size="30.7" text-anchor="end" transform="translate(284.24 2133.40) rotate(-45)">40</text>
<line x1="318.50" y1="2101.40" x2="318.50" y2="2115.00" stroke="#000000" stroke-width="2.8" />
<line x1="367.30" y1="2101.40" x2="367.30" y2="2115.00" stroke="#000000" stroke-width="2.8" />
<text x="0" y="0" font-size="30.7" text-anchor="end" transform="translate(381.84 2133.40) rotate(-45)">60</text>
<line x1="416.10" y1="2101.40" x2="416.10" y2="2115.00" stroke="#000000" stroke-width="2.8" />
<line x1="464.90" y1="2101.40" x2="464.90" y2="2115.00" stroke="#000000" stroke-width="2.8" />
<text x="0" y="0" font-size="30.7" text-anchor="end" transform="translate(479.44 2133.40) rotate(-45)">80</text>
<line x1="513.70" y1="2101.40" x2="513.70" y2="2115.00" stroke="#000000" stroke-width="2.8" />
<line x1="562.50" y1="2101.40" x2="562.50" y2="2115.00" stroke="#000000" stroke-width="2.8" />
<text x="0" y="0" font-size="30.7" text-anchor="end" transform="translate(581.30 2133.40) rotate(-45)">100</text>
<text x="0" y="0" font-size="30.7" text-anchor="middle" transform="translate(83.00 1943.50) rotate(-90)">Relative PSD-95 Density</text>
<text x="61.00" y="2198.90" font-size="30.7">Distance from translated Nrxn1 SSD (nm)</text>
<text x="965.40" y="1707.10" font-size="30.7" font-weight="bold" text-anchor="middle">Distance from Nrxn1 SSD</text>
<text x="968.90" y="1736.40" font-size="30.7" font-weight="bold" text-anchor="middle">to Nearest PSD-95 SSD</text>
<path d="M814.37,2104.30 H816.69 V2103.57 H820.58 V2102.36 H823.58 V2101.42 H827.78 V2100.10 H832.09 V2098.47 H833.53 V2097.65 H834.71 V2096.99 H840.10 V2093.93 H842.53 V2092.55 H844.84 V2091.24 H851.04 V2087.32 H854.55 V2084.91 H859.94 V2081.21 H863.49 V2078.78 H867.86 V2075.59 H869.74 V2074.15 H874.10 V2070.81 H879.65 V2066.56 H883.43 V2063.53 H888.33 V2059.59 H892.88 V2055.94 H894.31 V2054.79 H899.30 V2050.78 H903.43 V2047.71 H906.08 V2045.78 H907.34 V2044.86 H912.88 V2040.83 H916.41 V2038.26 H921.19 V2034.77 H926.80 V2030.69 H931.56 V2027.51 H937.38 V2024.76 H940.51 V2023.28 H945.71 V2020.81 H949.10 V2019.21 H954.99 V2016.42 H960.60 V2013.76 H962.20 V2011.97 H964.00 V2009.96 H966.22 V2007.50 H972.27 V2000.77 H975.61 V1997.05 H979.92 V1992.25 H982.57 V1989.31 H986.27 V1985.19 H989.35 V1981.76 H992.26 V1978.53 H996.36 V1975.28 H1000.45 V1972.29 H1006.19 V1968.12 H1010.79 V1964.77 H1016.65 V1960.51 H1022.14 V1956.28 H1028.32 V1950.49 H1032.86 V1946.24 H1034.80 V1944.42 H1040.31 V1939.26 H1046.35 V1933.60 H1052.09 V1928.23 H1056.11 V1924.79 H1060.87 V1922.29 H1063.06 V1921.14 H1068.42 V1918.32 H1072.46 V1916.20 H1075.03 V1914.85 H1076.46 V1914.10 H1081.94 V1911.23 H1088.11 V1907.99 H1089.67 V1907.17 H1094.87 V1904.32 H1098.08 V1902.33 H1099.96 V1901.16 H1102.57 V1899.54 H1107.61 V1896.41 H1113.19 V1892.95 H1114.52 V1892.12 H1118.77 V1889.48 H1120.11 V1888.65 H1124.89 V1885.68 H1127.69 V1883.94 H1133.31 V1880.45 H1139.43 V1877.98 H1143.13 V1877.11 H1149.34 V1875.64 H1152.04 V1875.01 H1153.54 V1874.65 H1157.71 V1873.67 H1158.98 V1873.37 H1161.10 V1872.87 H1164.29 V1870.78 H1168.52 V1867.17 H1170.43 V1865.55 H1171.75 V1864.42 H1177.30 V1859.69 H1177.34 V1859.65" fill="none" stroke="#8c8c8c" stroke-width="2.8" stroke-linejoin="round"/>
<path d="M783.93,2104.30 H786.25 V2103.89 H787.88 V2103.61 H791.02 V2102.98 H792.92 V2102.56 H794.36 V2102.24 H797.52 V2101.53 H803.33 V2100.24 H808.53 V2099.08 H813.56 V2097.96 H815.80 V2097.46 H819.65 V2095.98 H822.18 V2094.80 H824.17 V2093.86 H825.82 V2093.09 H828.02 V2092.05 H833.87 V2089.10 H839.22 V2086.22 H844.46 V2083.39 H849.66 V2080.55 H851.76 V2079.40 H854.45 V2077.93 H858.77 V2075.56 H863.62 V2072.91 H869.10 V2069.53 H874.71 V2065.86 H876.26 V2064.85 H880.47 V2061.90 H885.01 V2057.30 H888.71 V2053.56 H890.73 V2051.52 H894.26 V2047.95 H895.82 V2046.36 H901.71 V2040.19 H907.25 V2033.84 H911.16 V2029.36 H913.80 V2027.19 H919.56 V2023.88 H923.59 V2021.56 H929.22 V2018.33 H934.66 V2015.19 H938.37 V2013.06 H941.60 V2010.48 H945.77 V2005.25 H949.08 V2001.09 H951.01 V1998.67 H953.68 V1995.33 H958.95 V1989.85 H960.28 V1988.81 H961.62 V1987.76 H965.93 V1984.39 H968.47 V1982.40 H972.32 V1979.40 H975.84 V1976.64 H978.70 V1974.41 H984.91 V1969.54 H987.02 V1967.68 H990.24 V1964.84 H992.38 V1962.95 H996.72 V1959.12 H999.25 V1956.89 H1002.17 V1954.43 H1007.10 V1950.58 H1009.85 V1948.43 H1013.82 V1945.33 H1019.55 V1940.84 H1021.17 V1939.57 H1022.60 V1938.46 H1024.87 V1936.68 H1029.90 V1932.67 H1034.15 V1928.85 H1036.48 V1926.77 H1039.28 V1924.26 H1041.29 V1922.45 H1044.75 V1919.35 H1046.07 V1918.16 H1050.75 V1913.97 H1056.44 V1908.87 H1062.43 V1904.22 H1067.30 V1900.57 H1073.32 V1896.05 H1074.52 V1895.15 H1077.11 V1893.21 H1083.16 V1889.07 H1088.23 V1886.57 H1091.44 V1884.99 H1097.38 V1882.06 H1101.66 V1879.95 H1106.95 V1877.34 H1109.56 V1876.06 H1111.65 V1875.03 H1115.03 V1873.60 H1116.83 V1872.84 H1119.89 V1871.57 H1125.92 V1869.05 H1128.72 V1867.88 H1129.88 V1867.39 H1131.21 V1866.83 H1133.19 V1866.01 H1138.30 V1863.15 H1141.27 V1860.99 H1143.86 V1859.10 H1145.46 V1857.93 H1151.60 V1853.47 H1154.87 V1851.08 H1157.04 V1849.50 H1158.45 V1848.54 H1159.84 V1848.02 H1161.81 V1847.27 H1166.38 V1845.55 H1168.26 V1844.84 H1169.57 V1844.35 H1173.19 V1842.98 H1175.57 V1842.08 H1181.78 V1839.74 H1182.32 V1839.53" fill="none" stroke="#16ab26" stroke-width="2.8" stroke-linejoin="round"/>
<line x1="761.00" y1="1779.30" x2="761.00" y2="2105.70" stroke="#000000" stroke-width="2.8" />
<line x1="749.30" y1="2104.30" x2="1177.90" y2="2104.30" stroke="#000000" stroke-width="2.8" />
<line x1="749.30" y1="2104.30" x2="761.00" y2="2104.30" stroke="#000000" stroke-width="2.8" />
<text x="746.30" y="2114.30" font-size="30.7" text-anchor="end">0</text>
<line x1="749.30" y1="2023.18" x2="761.00" y2="2023.18" stroke="#000000" stroke-width="2.8" />
<line x1="749.30" y1="1942.07" x2="761.00" y2="1942.07" stroke="#000000" stroke-width="2.8" />
<text x="746.30" y="1952.07" font-size="30.7" text-anchor="end">50</text>
<line x1="749.30" y1="1860.95" x2="761.00" y2="1860.95" stroke="#000000" stroke-width="2.8" />
<line x1="749.30" y1="1779.83" x2="761.00" y2="1779.83" stroke="#000000" stroke-width="2.8" />
<text x="746.30" y="1789.83" font-size="30.7" text-anchor="end">100</text>
<line x1="761.80" y1="2104.30" x2="761.80" y2="2117.30" stroke="#000000" stroke-width="2.8" />
<text x="0" y="0" font-size="30.7" text-anchor="end" transform="translate(777.07 2136.80) rotate(-45)">0</text>
<line x1="796.38" y1="2104.30" x2="796.38" y2="2117.30" stroke="#000000" stroke-width="2.8" />
<line x1="830.96" y1="2104.30" x2="830.96" y2="2117.30" stroke="#000000" stroke-width="2.8" />
<text x="0" y="0" font-size="30.7" text-anchor="end" transform="translate(848.70 2136.80) rotate(-45)">50</text>
<line x1="865.55" y1="2104.30" x2="865.55" y2="2117.30" stroke="#000000" stroke-width="2.8" />
<line x1="900.13" y1="2104.30" x2="900.13" y2="2117.30" stroke="#000000" stroke-width="2.8" />
<text x="0" y="0" font-size="30.7" text-anchor="end" transform="translate(920.33 2136.80) rotate(-45)">100</text>
<line x1="934.71" y1="2104.30" x2="934.71" y2="2117.30" stroke="#000000" stroke-width="2.8" />
<line x1="969.29" y1="2104.30" x2="969.29" y2="2117.30" stroke="#000000" stroke-width="2.8" />
<text x="0" y="0" font-size="30.7" text-anchor="end" transform="translate(987.70 2136.80) rotate(-45)">150</text>
<line x1="1003.88" y1="2104.30" x2="1003.88" y2="2117.30" stroke="#000000" stroke-width="2.8" />
<line x1="1038.46" y1="2104.30" x2="1038.46" y2="2117.30" stroke="#000000" stroke-width="2.8" />
<text x="0" y="0" font-size="30.7" text-anchor="end" transform="translate(1055.06 2136.80) rotate(-45)">200</text>
<line x1="1073.04" y1="2104.30" x2="1073.04" y2="2117.30" stroke="#000000" stroke-width="2.8" />
<line x1="1107.62" y1="2104.30" x2="1107.62" y2="2117.30" stroke="#000000" stroke-width="2.8" />
<text x="0" y="0" font-size="30.7" text-anchor="end" transform="translate(1122.43 2136.80) rotate(-45)">250</text>
<line x1="1142.21" y1="2104.30" x2="1142.21" y2="2117.30" stroke="#000000" stroke-width="2.8" />
<line x1="1176.79" y1="2104.30" x2="1176.79" y2="2117.30" stroke="#000000" stroke-width="2.8" />
<text x="0" y="0" font-size="30.7" text-anchor="end" transform="translate(1189.79 2136.80) rotate(-45)">300</text>
<text x="0" y="0" font-size="30.7" text-anchor="middle" transform="translate(694.10 1952.50) rotate(-90)">Cumulative % of Nrxn1 SSDs</text>
<text x="700.60" y="2197.10" font-size="30.7">Distance to nearest PSD-95 SSD (nm)</text>
<line x1="1001.00" y1="2042.90" x2="1030.70" y2="2042.90" stroke="#8c8c8c" stroke-width="6.5" />
<line x1="1001.00" y1="2082.90" x2="1030.70" y2="2082.90" stroke="#16ab26" stroke-width="6.5" />
<text x="1046.50" y="2050.70" font-size="22.9">Randomized</text>
<text x="1046.50" y="2090.70" font-size="22.9">Experimental</text>
<path d="M877.10,1990.76 C877.93,1990.71 880.52,1991.33 882.10,1990.41 C883.68,1989.49 885.10,1987.39 886.60,1985.22 C888.10,1983.05 889.88,1980.57 891.10,1977.41 C892.32,1974.24 893.43,1970.00 893.90,1966.25 C894.37,1962.49 893.38,1959.02 893.90,1954.88 C894.42,1950.73 897.00,1945.46 897.00,1941.38 C897.00,1937.29 894.93,1934.63 893.90,1930.36 C892.87,1926.10 891.78,1921.42 890.80,1915.80 C889.82,1910.17 888.88,1902.24 888.00,1896.61 C887.12,1890.98 886.33,1886.72 885.50,1882.04 C884.67,1877.36 883.60,1876.00 883.00,1868.54 C882.40,1861.08 882.23,1845.27 881.90,1837.27 C881.57,1829.28 881.42,1826.08 881.00,1820.58 C880.58,1815.07 879.72,1808.55 879.40,1804.23 C879.08,1799.91 879.48,1796.30 879.10,1794.64 C878.72,1792.98 877.43,1794.34 877.10,1794.28 C876.77,1794.22 877.43,1794.22 877.10,1794.28 C876.77,1794.34 875.48,1792.98 875.10,1794.64 C874.72,1796.30 875.12,1799.91 874.80,1804.23 C874.48,1808.55 873.62,1815.07 873.20,1820.58 C872.78,1826.08 872.63,1829.28 872.30,1837.27 C871.97,1845.27 871.80,1861.08 871.20,1868.54 C870.60,1876.00 869.53,1877.36 868.70,1882.04 C867.87,1886.72 867.08,1890.98 866.20,1896.61 C865.32,1902.24 864.38,1910.17 863.40,1915.80 C862.42,1921.42 861.33,1926.10 860.30,1930.36 C859.27,1934.63 857.20,1937.29 857.20,1941.38 C857.20,1945.46 859.78,1950.73 860.30,1954.88 C860.82,1959.02 859.83,1962.49 860.30,1966.25 C860.77,1970.00 861.88,1974.24 863.10,1977.41 C864.32,1980.57 866.10,1983.05 867.60,1985.22 C869.10,1987.39 870.52,1989.49 872.10,1990.41 C873.68,1991.33 876.27,1990.71 877.10,1990.76 Z" fill="#cbcbcb" stroke="#000" stroke-width="1.6" />
<path d="M920.00,1998.23 C920.33,1998.12 920.93,1999.19 922.00,1997.59 C923.07,1995.99 924.77,1992.00 926.40,1988.63 C928.03,1985.27 929.78,1981.14 931.80,1977.41 C933.82,1973.67 937.20,1970.89 938.50,1966.25 C939.80,1961.61 939.65,1954.79 939.60,1949.55 C939.55,1944.31 938.72,1939.48 938.20,1934.80 C937.68,1930.13 937.43,1925.60 936.50,1921.48 C935.57,1917.37 933.48,1914.79 932.60,1910.11 C931.72,1905.43 932.13,1899.04 931.20,1893.41 C930.27,1887.79 927.93,1881.98 927.00,1876.36 C926.07,1870.73 926.20,1866.17 925.60,1859.66 C925.00,1853.14 924.00,1844.74 923.40,1837.27 C922.80,1829.81 922.32,1820.93 922.00,1814.89 C921.68,1808.85 921.83,1803.40 921.50,1801.03 C921.17,1798.67 920.25,1800.74 920.00,1800.68 C919.75,1800.62 920.25,1800.62 920.00,1800.68 C919.75,1800.74 918.83,1798.67 918.50,1801.03 C918.17,1803.40 918.32,1808.85 918.00,1814.89 C917.68,1820.93 917.20,1829.81 916.60,1837.27 C916.00,1844.74 915.00,1853.14 914.40,1859.66 C913.80,1866.17 913.93,1870.73 913.00,1876.36 C912.07,1881.98 909.73,1887.79 908.80,1893.41 C907.87,1899.04 908.28,1905.43 907.40,1910.11 C906.52,1914.79 904.43,1917.37 903.50,1921.48 C902.57,1925.60 902.32,1930.13 901.80,1934.80 C901.28,1939.48 900.45,1944.31 900.40,1949.55 C900.35,1954.79 900.20,1961.61 901.50,1966.25 C902.80,1970.89 906.18,1973.67 908.20,1977.41 C910.22,1981.14 911.97,1985.27 913.60,1988.63 C915.23,1992.00 916.93,1995.99 918.00,1997.59 C919.07,1999.19 919.67,1998.12 920.00,1998.23 Z" fill="#c4e6c6" stroke="#16ab26" stroke-width="1.6" />
<line x1="859.80" y1="1930.40" x2="894.40" y2="1930.40" stroke="#000" stroke-width="3.2" stroke-dasharray="8.5 4.2"/>
<line x1="867.90" y1="1896.40" x2="888.30" y2="1896.40" stroke="#000" stroke-width="3.2" stroke-dasharray="0 6.2" stroke-linecap="round"/>
<line x1="862.60" y1="1955.00" x2="893.60" y2="1955.00" stroke="#000" stroke-width="3.2" stroke-dasharray="0 6.2" stroke-linecap="round"/>
<line x1="902.30" y1="1934.60" x2="937.70" y2="1934.60" stroke="#000" stroke-width="3.2" stroke-dasharray="8.5 4.2"/>
<line x1="910.50" y1="1906.00" x2="931.50" y2="1906.00" stroke="#000" stroke-width="3.2" stroke-dasharray="0 6.2" stroke-linecap="round"/>
<line x1="906.60" y1="1961.40" x2="935.40" y2="1961.40" stroke="#000" stroke-width="3.2" stroke-dasharray="0 6.2" stroke-linecap="round"/>
<text x="903.60" y="1790.00" font-size="30.7">ns</text>
<line x1="854.60" y1="1781.00" x2="854.60" y2="2004.50" stroke="#000000" stroke-width="2.6" />
<line x1="843.90" y1="2003.20" x2="938.60" y2="2003.20" stroke="#000000" stroke-width="2.6" />
<line x1="843.90" y1="2003.20" x2="854.60" y2="2003.20" stroke="#000000" stroke-width="2.4" />
<text x="841.40" y="2011.20" font-size="22.5" text-anchor="end">0</text>
<line x1="843.90" y1="1932.14" x2="854.60" y2="1932.14" stroke="#000000" stroke-width="2.4" />
<text x="841.40" y="1940.14" font-size="22.5" text-anchor="end">200</text>
<line x1="843.90" y1="1861.08" x2="854.60" y2="1861.08" stroke="#000000" stroke-width="2.4" />
<text x="841.40" y="1869.08" font-size="22.5" text-anchor="end">400</text>
<line x1="843.90" y1="1790.02" x2="854.60" y2="1790.02" stroke="#000000" stroke-width="2.4" />
<text x="841.40" y="1798.02" font-size="22.5" text-anchor="end">600</text>
<text x="0" y="0" font-size="22.5" text-anchor="middle" transform="translate(789.80 1893.50) rotate(-90)">Distance (nm)</text>
<text x="1524.50" y="1706.40" font-size="30.7" font-weight="bold" text-anchor="middle">Distance from PSD-95 SSD</text>
<text x="1528.40" y="1734.60" font-size="30.7" font-weight="bold" text-anchor="middle">to Nearest Nrxn1 SSD</text>
<path d="M1363.79,2103.50 H1368.08 V2102.77 H1372.99 V2102.21 H1378.17 V2101.61 H1384.11 V2100.93 H1389.01 V2100.37 H1394.84 V2099.70 H1396.10 V2099.56 H1399.59 V2099.16 H1405.53 V2098.48 H1409.97 V2097.97 H1415.69 V2097.25 H1417.38 V2096.98 H1420.89 V2096.42 H1423.26 V2096.03 H1427.15 V2095.41 H1431.20 V2094.76 H1432.38 V2094.57 H1434.59 V2094.21 H1437.13 V2093.81 H1442.94 V2092.87 H1447.97 V2090.22 H1449.89 V2089.03 H1455.09 V2085.80 H1456.90 V2084.67 H1461.17 V2082.02 H1462.93 V2080.93 H1464.05 V2080.28 H1469.62 V2078.56 H1471.80 V2077.89 H1474.01 V2077.20 H1480.15 V2075.31 H1485.73 V2073.58 H1488.32 V2072.78 H1494.36 V2068.10 H1498.23 V2065.03 H1502.81 V2061.39 H1504.96 V2059.68 H1510.89 V2054.97 H1515.54 V2051.93 H1521.60 V2048.89 H1527.29 V2046.04 H1529.92 V2044.72 H1532.88 V2043.24 H1534.84 V2042.26 H1536.69 V2041.33 H1538.14 V2040.61 H1540.79 V2039.28 H1544.99 V2036.25 H1546.11 V2035.13 H1550.69 V2030.58 H1553.53 V2027.75 H1556.23 V2025.07 H1561.53 V2019.81 H1565.10 V2017.26 H1567.82 V2015.79 H1571.40 V2013.86 H1576.12 V2011.32 H1577.52 V2010.57 H1583.62 V2007.28 H1584.84 V2006.62 H1589.79 V2003.95 H1595.23 V2001.02 H1596.43 V2000.37 H1601.57 V1996.80 H1604.56 V1994.59 H1608.63 V1991.56 H1609.78 V1990.71 H1611.13 V1989.71 H1613.17 V1988.20 H1619.17 V1983.74 H1621.28 V1982.17 H1626.26 V1979.40 H1632.13 V1976.46 H1638.07 V1973.50 H1640.94 V1972.07 H1643.86 V1970.61 H1647.66 V1968.17 H1652.74 V1959.14 H1654.40 V1956.19 H1659.34 V1950.69 H1664.54 V1948.91 H1670.05 V1947.03 H1671.34 V1946.59 H1677.30 V1944.55 H1678.87 V1944.01 H1681.73 V1941.51 H1685.96 V1937.33 H1691.78 V1932.90 H1694.62 V1931.60 H1700.47 V1928.95 H1704.37 V1927.17 H1707.08 V1925.94 H1709.81 V1924.70 H1711.82 V1923.78 H1713.33 V1923.10 H1715.20 V1922.25 H1719.84 V1920.14 H1726.06 V1912.37 H1727.99 V1909.42 H1729.35 V1907.83 H1735.51 V1905.64 H1739.35 V1904.27 H1742.54 V1903.14 H1744.86 V1902.31 H1749.01 V1900.84 H1754.36 V1898.94 H1757.80 V1897.71 H1761.06 V1896.56" fill="none" stroke="#8c8c8c" stroke-width="2.8" stroke-linejoin="round"/>
<path d="M1363.79,2103.50 H1368.96 V2102.25 H1374.28 V2101.32 H1377.87 V2100.70 H1380.32 V2100.27 H1381.43 V2100.08 H1385.93 V2099.29 H1389.45 V2098.68 H1394.45 V2097.81 H1397.47 V2097.28 H1402.52 V2096.43 H1405.03 V2096.11 H1410.24 V2095.44 H1415.09 V2094.82 H1418.32 V2094.41 H1422.18 V2093.77 H1426.79 V2091.95 H1428.88 V2091.11 H1432.83 V2089.55 H1438.06 V2087.47 H1440.53 V2086.49 H1445.75 V2084.42 H1450.37 V2082.13 H1455.81 V2079.34 H1458.63 V2077.90 H1460.22 V2077.08 H1465.43 V2074.41 H1470.66 V2071.45 H1474.05 V2069.21 H1475.63 V2068.16 H1477.75 V2066.76 H1482.11 V2063.88 H1484.71 V2062.16 H1490.69 V2058.20 H1494.82 V2055.48 H1496.95 V2054.07 H1501.42 V2051.79 H1504.37 V2050.52 H1510.26 V2047.99 H1516.03 V2045.51 H1519.77 V2042.99 H1524.18 V2038.04 H1528.87 V2032.78 H1534.10 V2026.91 H1540.21 V2021.14 H1541.46 V2020.43 H1544.42 V2018.75 H1548.61 V2016.38 H1551.28 V2014.87 H1555.41 V2012.53 H1556.98 V2011.64 H1562.59 V2008.46 H1566.39 V2005.16 H1568.10 V2003.63 H1572.60 V1999.59 H1575.31 V1997.16 H1577.42 V1995.27 H1581.01 V1992.05 H1582.82 V1990.43 H1585.01 V1988.47 H1590.55 V1984.09 H1595.23 V1980.85 H1596.40 V1980.04 H1601.50 V1976.51 H1602.69 V1975.69 H1605.51 V1973.74 H1611.25 V1969.77 H1615.53 V1966.12 H1618.21 V1963.67 H1621.25 V1960.88 H1624.35 V1958.03 H1626.11 V1956.42 H1632.34 V1950.71 H1633.73 V1949.44 H1637.00 V1946.44 H1641.93 V1941.92 H1645.08 V1940.72 H1651.21 V1938.75 H1653.58 V1938.00 H1659.70 V1936.03 H1665.38 V1930.99 H1669.92 V1925.14 H1675.59 V1919.23 H1678.98 V1918.73 H1684.35 V1917.94 H1689.54 V1917.18 H1693.29 V1915.79 H1696.81 V1913.42 H1701.54 V1910.25 H1704.74 V1908.10 H1706.29 V1907.06 H1711.22 V1903.75 H1713.69 V1902.09 H1717.30 V1899.67 H1722.42 V1896.07 H1724.41 V1894.43 H1725.63 V1893.42 H1727.37 V1891.99 H1731.50 V1888.58 H1734.46 V1886.14 H1736.88 V1884.14 H1740.30 V1881.31 H1746.16 V1877.58 H1748.57 V1876.69 H1751.78 V1875.52 H1757.40 V1873.46 H1761.06 V1872.12" fill="none" stroke="#16ab26" stroke-width="2.8" stroke-linejoin="round"/>
<line x1="1344.40" y1="1786.10" x2="1344.40" y2="2104.90" stroke="#000000" stroke-width="2.8" />
<line x1="1332.40" y1="2103.50" x2="1761.20" y2="2103.50" stroke="#000000" stroke-width="2.8" />
<line x1="1332.40" y1="2103.50" x2="1344.40" y2="2103.50" stroke="#000000" stroke-width="2.8" />
<text x="1329.40" y="2113.50" font-size="30.7" text-anchor="end">0</text>
<line x1="1332.40" y1="2024.15" x2="1344.40" y2="2024.15" stroke="#000000" stroke-width="2.8" />
<line x1="1332.40" y1="1944.80" x2="1344.40" y2="1944.80" stroke="#000000" stroke-width="2.8" />
<text x="1329.40" y="1954.80" font-size="30.7" text-anchor="end">50</text>
<line x1="1332.40" y1="1865.45" x2="1344.40" y2="1865.45" stroke="#000000" stroke-width="2.8" />
<line x1="1332.40" y1="1786.10" x2="1344.40" y2="1786.10" stroke="#000000" stroke-width="2.8" />
<text x="1329.40" y="1796.10" font-size="30.7" text-anchor="end">100</text>
<line x1="1344.40" y1="2103.50" x2="1344.40" y2="2116.50" stroke="#000000" stroke-width="2.8" />
<text x="0" y="0" font-size="30.7" text-anchor="end" transform="translate(1360.97 2136.00) rotate(-45)">0</text>
<line x1="1379.02" y1="2103.50" x2="1379.02" y2="2116.50" stroke="#000000" stroke-width="2.8" />
<line x1="1413.63" y1="2103.50" x2="1413.63" y2="2116.50" stroke="#000000" stroke-width="2.8" />
<text x="0" y="0" font-size="30.7" text-anchor="end" transform="translate(1432.86 2136.00) rotate(-45)">50</text>
<line x1="1448.25" y1="2103.50" x2="1448.25" y2="2116.50" stroke="#000000" stroke-width="2.8" />
<line x1="1482.87" y1="2103.50" x2="1482.87" y2="2116.50" stroke="#000000" stroke-width="2.8" />
<text x="0" y="0" font-size="30.7" text-anchor="end" transform="translate(1504.74 2136.00) rotate(-45)">100</text>
<line x1="1517.49" y1="2103.50" x2="1517.49" y2="2116.50" stroke="#000000" stroke-width="2.8" />
<line x1="1552.11" y1="2103.50" x2="1552.11" y2="2116.50" stroke="#000000" stroke-width="2.8" />
<text x="0" y="0" font-size="30.7" text-anchor="end" transform="translate(1572.36 2136.00) rotate(-45)">150</text>
<line x1="1586.72" y1="2103.50" x2="1586.72" y2="2116.50" stroke="#000000" stroke-width="2.8" />
<line x1="1621.34" y1="2103.50" x2="1621.34" y2="2116.50" stroke="#000000" stroke-width="2.8" />
<text x="0" y="0" font-size="30.7" text-anchor="end" transform="translate(1639.98 2136.00) rotate(-45)">200</text>
<line x1="1655.96" y1="2103.50" x2="1655.96" y2="2116.50" stroke="#000000" stroke-width="2.8" />
<line x1="1690.58" y1="2103.50" x2="1690.58" y2="2116.50" stroke="#000000" stroke-width="2.8" />
<text x="0" y="0" font-size="30.7" text-anchor="end" transform="translate(1707.60 2136.00) rotate(-45)">250</text>
<line x1="1725.19" y1="2103.50" x2="1725.19" y2="2116.50" stroke="#000000" stroke-width="2.8" />
<line x1="1759.81" y1="2103.50" x2="1759.81" y2="2116.50" stroke="#000000" stroke-width="2.8" />
<text x="0" y="0" font-size="30.7" text-anchor="end" transform="translate(1775.22 2136.00) rotate(-45)">300</text>
<text x="0" y="0" font-size="30.7" text-anchor="middle" transform="translate(1279.00 1954.60) rotate(-90)">Cumulative % of PSD-95 SSDs</text>
<text x="1298.20" y="2204.00" font-size="30.7">Distance to nearest Nrxn1 SSD (nm)</text>
<line x1="1576.50" y1="2038.90" x2="1606.50" y2="2038.90" stroke="#8c8c8c" stroke-width="6.5" />
<line x1="1576.50" y1="2079.50" x2="1606.50" y2="2079.50" stroke="#16ab26" stroke-width="6.5" />
<text x="1622.70" y="2047.50" font-size="22.9">Randomized</text>
<text x="1622.70" y="2087.00" font-size="22.9">Experimental</text>
<path d="M1454.70,1997.48 C1454.98,1997.44 1455.93,1997.89 1456.40,1997.21 C1456.87,1996.54 1456.20,1995.95 1457.50,1993.43 C1458.80,1990.92 1462.00,1985.83 1464.20,1982.10 C1466.40,1978.36 1469.38,1974.77 1470.70,1971.03 C1472.02,1967.30 1471.50,1963.43 1472.10,1959.70 C1472.70,1955.96 1474.53,1953.26 1474.30,1948.63 C1474.07,1944.00 1471.97,1936.58 1470.70,1931.90 C1469.43,1927.22 1467.87,1924.29 1466.70,1920.56 C1465.53,1916.83 1464.30,1914.17 1463.70,1909.50 C1463.10,1904.82 1463.57,1898.11 1463.10,1892.49 C1462.63,1886.87 1461.60,1880.80 1460.90,1875.76 C1460.20,1870.72 1459.33,1866.90 1458.90,1862.26 C1458.47,1857.63 1458.70,1853.18 1458.30,1847.96 C1457.90,1842.74 1456.85,1835.90 1456.50,1830.95 C1456.15,1826.01 1456.50,1820.43 1456.20,1818.27 C1455.90,1816.11 1454.95,1818.04 1454.70,1818.00 C1454.45,1817.95 1454.95,1817.95 1454.70,1818.00 C1454.45,1818.04 1453.50,1816.11 1453.20,1818.27 C1452.90,1820.43 1453.25,1826.01 1452.90,1830.95 C1452.55,1835.90 1451.50,1842.74 1451.10,1847.96 C1450.70,1853.18 1450.93,1857.63 1450.50,1862.26 C1450.07,1866.90 1449.20,1870.72 1448.50,1875.76 C1447.80,1880.80 1446.77,1886.87 1446.30,1892.49 C1445.83,1898.11 1446.30,1904.82 1445.70,1909.50 C1445.10,1914.17 1443.87,1916.83 1442.70,1920.56 C1441.53,1924.29 1439.97,1927.22 1438.70,1931.90 C1437.43,1936.58 1435.33,1944.00 1435.10,1948.63 C1434.87,1953.26 1436.70,1955.96 1437.30,1959.70 C1437.90,1963.43 1437.38,1967.30 1438.70,1971.03 C1440.02,1974.77 1443.00,1978.36 1445.20,1982.10 C1447.40,1985.83 1450.60,1990.92 1451.90,1993.43 C1453.20,1995.95 1452.53,1996.54 1453.00,1997.21 C1453.47,1997.89 1454.42,1997.44 1454.70,1997.48 Z" fill="#c0c0c0" stroke="#000" stroke-width="1.6" />
<path d="M1496.80,1998.29 C1497.17,1998.25 1497.55,1999.73 1499.00,1998.02 C1500.45,1996.31 1503.43,1991.59 1505.50,1988.04 C1507.57,1984.48 1509.82,1980.43 1511.40,1976.70 C1512.98,1972.97 1514.22,1969.37 1515.00,1965.63 C1515.78,1961.90 1516.23,1957.49 1516.10,1954.30 C1515.97,1951.10 1515.03,1950.21 1514.20,1946.47 C1513.37,1942.74 1511.95,1937.11 1511.10,1931.90 C1510.25,1926.68 1510.60,1919.84 1509.10,1915.16 C1507.60,1910.48 1503.50,1908.51 1502.10,1903.83 C1500.70,1899.15 1501.12,1893.62 1500.70,1887.09 C1500.28,1880.57 1499.92,1872.20 1499.60,1864.69 C1499.28,1857.18 1499.02,1848.32 1498.80,1842.02 C1498.58,1835.72 1498.63,1829.51 1498.30,1826.91 C1497.97,1824.30 1497.05,1826.46 1496.80,1826.37 C1496.55,1826.28 1497.05,1826.28 1496.80,1826.37 C1496.55,1826.46 1495.63,1824.30 1495.30,1826.91 C1494.97,1829.51 1495.02,1835.72 1494.80,1842.02 C1494.58,1848.32 1494.32,1857.18 1494.00,1864.69 C1493.68,1872.20 1493.32,1880.57 1492.90,1887.09 C1492.48,1893.62 1492.90,1899.15 1491.50,1903.83 C1490.10,1908.51 1486.00,1910.48 1484.50,1915.16 C1483.00,1919.84 1483.35,1926.68 1482.50,1931.90 C1481.65,1937.11 1480.23,1942.74 1479.40,1946.47 C1478.57,1950.21 1477.63,1951.10 1477.50,1954.30 C1477.37,1957.49 1477.82,1961.90 1478.60,1965.63 C1479.38,1969.37 1480.62,1972.97 1482.20,1976.70 C1483.78,1980.43 1486.03,1984.48 1488.10,1988.04 C1490.17,1991.59 1493.15,1996.31 1494.60,1998.02 C1496.05,1999.73 1496.43,1998.25 1496.80,1998.29 Z" fill="#c4e6c6" stroke="#16ab26" stroke-width="1.6" />
<line x1="1437.30" y1="1939.90" x2="1472.10" y2="1939.90" stroke="#000" stroke-width="3.2" stroke-dasharray="8.5 4.2"/>
<line x1="1447.70" y1="1908.90" x2="1463.70" y2="1908.90" stroke="#000" stroke-width="3.2" stroke-dasharray="0 6.2" stroke-linecap="round"/>
<line x1="1440.40" y1="1962.80" x2="1471.00" y2="1962.80" stroke="#000" stroke-width="3.2" stroke-dasharray="0 6.2" stroke-linecap="round"/>
<line x1="1478.90" y1="1947.00" x2="1514.70" y2="1947.00" stroke="#000" stroke-width="3.2" stroke-dasharray="8.5 4.2"/>
<line x1="1485.90" y1="1920.70" x2="1509.70" y2="1920.70" stroke="#000" stroke-width="3.2" stroke-dasharray="0 6.2" stroke-linecap="round"/>
<line x1="1485.60" y1="1967.30" x2="1510.00" y2="1967.30" stroke="#000" stroke-width="3.2" stroke-dasharray="0 6.2" stroke-linecap="round"/>
<text x="1497.00" y="1823.00" font-size="38" font-weight="bold" text-anchor="middle">*</text>
<line x1="1433.20" y1="1782.70" x2="1433.20" y2="2005.80" stroke="#000000" stroke-width="2.6" />
<line x1="1422.80" y1="2004.50" x2="1516.40" y2="2004.50" stroke="#000000" stroke-width="2.6" />
<line x1="1422.80" y1="2004.50" x2="1433.20" y2="2004.50" stroke="#000000" stroke-width="2.4" />
<text x="1420.30" y="2012.50" font-size="22.5" text-anchor="end">0</text>
<line x1="1422.80" y1="1950.52" x2="1433.20" y2="1950.52" stroke="#000000" stroke-width="2.4" />
<line x1="1422.80" y1="1896.54" x2="1433.20" y2="1896.54" stroke="#000000" stroke-width="2.4" />
<text x="1420.30" y="1904.54" font-size="22.5" text-anchor="end">400</text>
<line x1="1422.80" y1="1842.56" x2="1433.20" y2="1842.56" stroke="#000000" stroke-width="2.4" />
<line x1="1422.80" y1="1788.58" x2="1433.20" y2="1788.58" stroke="#000000" stroke-width="2.4" />
<text x="1420.30" y="1796.58" font-size="22.5" text-anchor="end">800</text>
<text x="0" y="0" font-size="22.5" text-anchor="middle" transform="translate(1378.00 1896.70) rotate(-90)">Distance(nm)</text>
</g></svg></body></html>
